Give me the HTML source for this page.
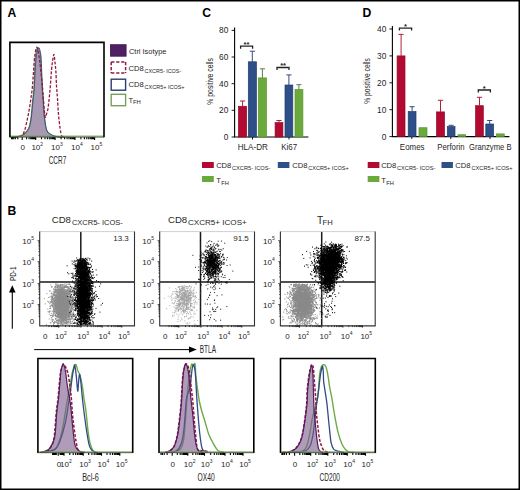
<!DOCTYPE html>
<html><head><meta charset="utf-8"><style>
html,body{margin:0;padding:0;background:#fff;overflow:hidden;}
svg{display:block;font-family:"Liberation Sans", sans-serif;}
</style></head><body>
<svg width="520" height="490" viewBox="0 0 520 490">
<rect width="520" height="490" fill="#fff"/>
<text x="7.4" y="16.8" font-size="12.2" fill="#000" text-anchor="start" font-weight="bold" >A</text>
<text x="7.6" y="214.8" font-size="12.2" fill="#000" text-anchor="start" font-weight="bold" >B</text>
<text x="202.2" y="17.0" font-size="12.2" fill="#000" text-anchor="start" font-weight="bold" >C</text>
<text x="362.5" y="16.8" font-size="12.2" fill="#000" text-anchor="start" font-weight="bold" >D</text>
<path d="M10.0,137.0C11.2,136.9 14.9,137.0 17.1,136.6C19.4,136.2 21.6,135.9 23.5,134.5C25.4,133.1 27.4,130.6 28.6,128.2C29.8,125.7 30.2,123.0 30.7,119.8C31.2,116.6 31.5,112.7 31.8,109.2C32.1,105.7 32.4,102.1 32.8,98.6C33.1,95.1 33.6,92.5 33.9,88.0C34.2,83.5 34.4,76.6 34.6,71.4C34.9,66.2 35.1,60.6 35.4,57.0C35.7,53.4 36.2,51.6 36.6,50.0C37.0,48.4 37.5,47.6 38.0,47.6C38.5,47.6 38.9,48.4 39.3,50.0C39.7,51.6 40.2,53.4 40.5,57.0C40.8,60.6 41.0,66.2 41.2,71.4C41.5,76.6 41.7,83.5 42.0,88.0C42.3,92.5 42.7,95.1 43.0,98.6C43.3,102.1 43.3,105.7 43.6,109.2C43.9,112.7 44.1,116.2 44.6,119.8C45.1,123.3 45.6,128.0 46.7,130.5C47.8,133.0 49.3,133.7 51.0,134.7C52.7,135.7 53.8,136.2 57.0,136.6C60.2,137.0 67.8,136.9 70.0,137.0" fill="none" stroke="#6cab48" stroke-width="1.1"/>
<path d="M12.0,136.9C12.8,136.9 15.1,137.2 17.0,136.8C18.9,136.5 21.5,136.2 23.5,134.8C25.5,133.4 27.6,131.0 28.8,128.5C30.1,126.0 30.4,123.0 31.0,119.8C31.6,116.6 31.8,112.7 32.2,109.2C32.6,105.7 32.9,102.1 33.2,98.6C33.6,95.1 34.0,92.5 34.3,88.0C34.6,83.5 34.9,76.6 35.2,71.4C35.5,66.2 35.8,60.6 36.2,57.0C36.6,53.4 37.1,51.5 37.6,50.0C38.1,48.5 38.8,47.6 39.2,47.9C39.6,48.2 39.9,50.5 40.2,52.0C40.5,53.5 40.8,53.8 41.0,57.0C41.2,60.2 41.5,66.2 41.7,71.4C41.9,76.6 42.1,83.5 42.4,88.0C42.6,92.5 43.0,95.1 43.2,98.6C43.4,102.1 43.5,105.7 43.8,109.2C44.1,112.7 44.3,116.2 44.8,119.8C45.3,123.3 45.8,128.0 46.9,130.5C48.0,133.0 49.4,133.6 51.2,134.7C53.0,135.8 55.4,136.4 57.5,136.8C59.6,137.2 62.9,137.0 64.0,137.0" fill="none" stroke="#2f4a86" stroke-width="1.0"/>
<path d="M12.0,136.9C12.8,136.9 15.2,137.2 17.1,136.8C19.0,136.4 21.6,136.1 23.5,134.7C25.4,133.3 27.6,130.8 28.8,128.3C30.0,125.8 30.4,123.0 30.9,119.8C31.4,116.6 31.6,112.7 32.0,109.2C32.4,105.7 32.6,102.1 33.0,98.6C33.4,95.1 33.8,92.5 34.1,88.0C34.4,83.5 34.5,76.6 34.8,71.4C35.0,66.2 35.2,60.5 35.6,56.7C36.0,52.9 36.8,50.0 37.2,48.5C37.7,47.0 37.9,47.8 38.3,48.0C38.7,48.2 39.1,48.5 39.5,50.0C39.9,51.5 40.4,53.1 40.7,56.7C41.0,60.3 41.2,66.2 41.5,71.4C41.8,76.6 42.0,83.5 42.3,88.0C42.6,92.5 42.9,95.1 43.1,98.6C43.3,102.1 43.4,105.7 43.7,109.2C44.0,112.7 44.2,116.2 44.7,119.8C45.2,123.3 45.7,128.0 46.8,130.5C47.9,133.0 49.3,133.6 51.1,134.7C52.9,135.8 55.7,136.4 57.5,136.8C59.3,137.2 61.2,137.0 62.0,137.0Z" fill="#6e537f" fill-opacity="0.6" stroke="none"/>
<path d="M15.0,137.0C16.1,136.8 19.8,136.9 21.4,135.8C23.0,134.7 23.6,133.2 24.6,130.5C25.6,127.8 26.4,123.3 27.2,119.8C28.0,116.2 28.7,112.7 29.3,109.2C29.9,105.7 30.4,102.1 30.9,98.6C31.4,95.1 31.9,91.7 32.3,88.0C32.7,84.3 32.9,79.9 33.2,76.3C33.5,72.7 33.6,70.0 33.9,66.5C34.2,63.0 34.3,58.7 34.8,55.5C35.2,52.3 36.1,48.3 36.6,47.4C37.1,46.5 37.3,47.9 37.8,50.0C38.3,52.1 39.0,56.3 39.5,60.0C40.0,63.7 40.5,67.8 41.0,72.0C41.5,76.2 41.9,80.6 42.3,85.0C42.7,89.4 43.1,94.4 43.4,98.6C43.7,102.8 44.0,106.9 44.3,110.0C44.6,113.1 44.9,116.5 45.3,117.2C45.7,117.9 46.1,115.3 46.5,114.0C46.9,112.7 47.5,111.5 47.9,109.2C48.3,106.9 48.6,103.2 49.0,100.0C49.4,96.8 49.7,93.3 50.0,90.0C50.3,86.7 50.5,83.3 50.8,80.0C51.0,76.7 51.2,73.1 51.5,70.0C51.8,66.9 52.1,64.2 52.5,61.6C52.9,59.0 53.5,54.3 53.9,54.3C54.3,54.3 54.6,58.8 54.9,61.6C55.2,64.5 55.6,67.3 55.9,71.4C56.2,75.5 56.2,81.5 56.5,86.0C56.8,90.5 57.2,93.8 57.5,98.6C57.8,103.3 58.1,109.5 58.5,114.5C58.9,119.5 59.6,124.8 60.1,128.3C60.6,131.9 61.1,134.4 61.7,135.8C62.4,137.2 63.6,136.8 64.0,137.0" fill="none" stroke="#8f1a40" stroke-width="1.3" stroke-dasharray="3,1.6"/>
<line x1="10" y1="136.1" x2="104" y2="136.1" stroke="#6cab48" stroke-width="1"/>
<path d="M9.9,137.2V42.4H104V137.2" fill="none" stroke="#000" stroke-width="1.6"/>
<path d="M9.9,137.1H104" fill="none" stroke="#333" stroke-width="0.8"/>
<path d="M26.6,137.3v2.0M17.8,137.3v2.0M29.1,137.3v2.0M15.3,137.3v2.0M30.7,137.3v2.0M13.7,137.3v2.0M31.9,137.3v2.0M12.5,137.3v2.0M32.8,137.3v2.0M11.6,137.3v2.0M33.6,137.3v2.0M34.2,137.3v2.0M34.8,137.3v2.0M35.3,137.3v2.0M22.2,137.3v2.8M41.5,137.3v2.0M45.0,137.3v2.0M47.4,137.3v2.0M49.3,137.3v2.0M50.8,137.3v2.0M52.1,137.3v2.0M53.2,137.3v2.0M54.2,137.3v2.0M61.1,137.3v2.0M64.6,137.3v2.0M67.1,137.3v2.0M69.0,137.3v2.0M70.6,137.3v2.0M71.9,137.3v2.0M73.1,137.3v2.0M74.1,137.3v2.0M80.9,137.3v2.0M84.4,137.3v2.0M86.8,137.3v2.0M88.7,137.3v2.0M90.3,137.3v2.0M91.6,137.3v2.0M92.7,137.3v2.0M93.7,137.3v2.0M35.7,137.3v2.8M55.1,137.3v2.8M75.0,137.3v2.8M94.6,137.3v2.8" stroke="#000" stroke-width="1.1"/>
<text x="20.4" y="149.9" font-size="8" fill="#262626" text-anchor="start" font-weight="normal" >0</text>
<text x="31.4" y="149.9" font-size="8" fill="#262626">10<tspan font-size="5" dy="-3.8">2</tspan></text>
<text x="51.1" y="149.9" font-size="8" fill="#262626">10<tspan font-size="5" dy="-3.8">3</tspan></text>
<text x="71.0" y="149.9" font-size="8" fill="#262626">10<tspan font-size="5" dy="-3.8">4</tspan></text>
<text x="90.6" y="149.9" font-size="8" fill="#262626">10<tspan font-size="5" dy="-3.8">5</tspan></text>
<text x="48.66" y="163.6" font-size="11.0" fill="#262626" textLength="17.58" lengthAdjust="spacingAndGlyphs" >CCR7</text>
<rect x="110.4" y="44.7" width="15.7" height="11.5" fill="#4f1f64" stroke="#3a1450" stroke-width="0.8"/>
<path d="M111.2,62.1H125.6M111.2,72.9H125.6M111.2,62.1V72.9M125.6,62.1V72.9" fill="none" stroke="#8f1a40" stroke-width="1.5" stroke-dasharray="3.2,1.8"/>
<rect x="111.2" y="79.2" width="14.4" height="11" fill="none" stroke="#2b3d70" stroke-width="1.4"/>
<rect x="111.2" y="94.3" width="14.4" height="11.4" fill="none" stroke="#74a258" stroke-width="1.4"/>
<text x="129" y="54" font-size="7.4" fill="#262626" text-anchor="start" font-weight="normal" >Ctrl Isotype</text>
<text x="128.54" y="70.9" font-size="7.6" fill="#262626">CD8</text>
<text x="144.62" y="72.9" font-size="5.5" fill="#262626" textLength="36.60" lengthAdjust="spacingAndGlyphs">CXCR5- ICOS-</text>
<text x="128.54" y="87.2" font-size="7.6" fill="#262626">CD8</text>
<text x="144.62" y="88.9" font-size="5.5" fill="#262626" textLength="39.90" lengthAdjust="spacingAndGlyphs">CXCR5+ ICOS+</text>
<text x="128.54" y="102.6" font-size="7.6" fill="#262626">T</text>
<text x="132.92" y="104.4" font-size="5.5" fill="#262626" textLength="7.81" lengthAdjust="spacingAndGlyphs">FH</text>
<path d="M234.6,27.5V137.0H308.4" stroke="#000" stroke-width="1.1" fill="none"/>
<path d="M231.6,137.0h3" stroke="#000" stroke-width="0.9"/>
<text x="228.3" y="139.9" font-size="8.3" fill="#262626" text-anchor="end" font-weight="normal" >0</text>
<path d="M231.6,110.3h3" stroke="#000" stroke-width="0.9"/>
<text x="228.3" y="113.2" font-size="8.3" fill="#262626" text-anchor="end" font-weight="normal" >20</text>
<path d="M231.6,83.7h3" stroke="#000" stroke-width="0.9"/>
<text x="228.3" y="86.6" font-size="8.3" fill="#262626" text-anchor="end" font-weight="normal" >40</text>
<path d="M231.6,57.0h3" stroke="#000" stroke-width="0.9"/>
<text x="228.3" y="59.9" font-size="8.3" fill="#262626" text-anchor="end" font-weight="normal" >60</text>
<path d="M231.6,30.4h3" stroke="#000" stroke-width="0.9"/>
<text x="228.3" y="33.3" font-size="8.3" fill="#262626" text-anchor="end" font-weight="normal" >80</text>
<path d="M252.5,137.0v2.5" stroke="#000" stroke-width="0.9"/>
<path d="M289.0,137.0v2.5" stroke="#000" stroke-width="0.9"/>
<rect x="238.5" y="106.3" width="8.1" height="30.7" fill="#b20a30" stroke="#8e0a26" stroke-width="0.7"/>
<path d="M242.6,106.3V101.0M240.0,101.0h5.2" stroke="#b0203f" stroke-width="1.0" fill="none"/>
<rect x="248.3" y="61.8" width="8.1" height="75.2" fill="#2e4f87" stroke="#203c6a" stroke-width="0.7"/>
<path d="M252.3,61.8V51.2M249.8,51.2h5.2" stroke="#3a4c74" stroke-width="1.0" fill="none"/>
<rect x="258.3" y="77.9" width="8.1" height="59.1" fill="#6aaa3b" stroke="#5a9632" stroke-width="0.7"/>
<path d="M262.4,77.9V68.8M259.8,68.8h5.2" stroke="#5f7d4c" stroke-width="1.0" fill="none"/>
<rect x="275.1" y="122.6" width="7.8" height="14.4" fill="#b20a30" stroke="#8e0a26" stroke-width="0.7"/>
<path d="M279.0,122.6V120.5M276.4,120.5h5.2" stroke="#b0203f" stroke-width="1.0" fill="none"/>
<rect x="285.0" y="85.0" width="7.8" height="52.0" fill="#2e4f87" stroke="#203c6a" stroke-width="0.7"/>
<path d="M288.9,85.0V74.9M286.3,74.9h5.2" stroke="#3a4c74" stroke-width="1.0" fill="none"/>
<rect x="295.0" y="89.4" width="7.9" height="47.6" fill="#6aaa3b" stroke="#5a9632" stroke-width="0.7"/>
<path d="M298.9,89.4V84.7M296.3,84.7h5.2" stroke="#5f7d4c" stroke-width="1.0" fill="none"/>
<path d="M240.6,48.8V46.2H252.6V48.8" stroke="#222" stroke-width="1.3" fill="none"/>
<text x="246.5" y="47.0" font-size="7.6" fill="#222" text-anchor="middle" font-weight="bold" >**</text>
<path d="M277,70V67.5H289V70" stroke="#222" stroke-width="1.3" fill="none"/>
<text x="283.1" y="68.3" font-size="7.6" fill="#222" text-anchor="middle" font-weight="bold" >**</text>
<text x="237.77" y="150.1" font-size="8.2" fill="#262626" textLength="30.16" lengthAdjust="spacingAndGlyphs" >HLA-DR</text>
<text x="281.27" y="150.1" font-size="8.2" fill="#262626" textLength="15.86" lengthAdjust="spacingAndGlyphs" >Ki67</text>
<g transform="translate(212.6,104.3) rotate(-90)">
<text x="-0.34" y="0" font-size="8.4" fill="#262626" textLength="46.57" lengthAdjust="spacingAndGlyphs" >% positive cells</text>
</g>
<rect x="202" y="162" width="11.8" height="6" fill="#b20a30"/>
<rect x="277.8" y="162" width="11.6" height="6" fill="#2e4f87"/>
<rect x="202" y="176" width="11.8" height="6" fill="#6aaa3b"/>
<text x="216.14" y="167.6" font-size="7.6" fill="#262626">CD8</text>
<text x="232.02" y="170.3" font-size="5.6" fill="#262626" textLength="38.32" lengthAdjust="spacingAndGlyphs">CXCR5- ICOS-</text>
<text x="292.34" y="167.5" font-size="7.6" fill="#262626">CD8</text>
<text x="308.32" y="170.0" font-size="5.6" fill="#262626" textLength="40.32" lengthAdjust="spacingAndGlyphs">CXCR5+ ICOS+</text>
<text x="216.14" y="182.6" font-size="7.6" fill="#262626">T</text>
<text x="221.22" y="184.6" font-size="5.6" fill="#262626" textLength="7.62" lengthAdjust="spacingAndGlyphs">FH</text>
<path d="M392.4,25.9V136.6H509.4" stroke="#000" stroke-width="1.1" fill="none"/>
<path d="M389.4,136.6h3" stroke="#000" stroke-width="0.9"/>
<text x="386.3" y="139.5" font-size="8.3" fill="#262626" text-anchor="end" font-weight="normal" >0</text>
<path d="M389.4,109.7h3" stroke="#000" stroke-width="0.9"/>
<text x="386.3" y="112.6" font-size="8.3" fill="#262626" text-anchor="end" font-weight="normal" >10</text>
<path d="M389.4,82.8h3" stroke="#000" stroke-width="0.9"/>
<text x="386.3" y="85.7" font-size="8.3" fill="#262626" text-anchor="end" font-weight="normal" >20</text>
<path d="M389.4,55.9h3" stroke="#000" stroke-width="0.9"/>
<text x="386.3" y="58.8" font-size="8.3" fill="#262626" text-anchor="end" font-weight="normal" >30</text>
<path d="M389.4,29.0h3" stroke="#000" stroke-width="0.9"/>
<text x="386.3" y="31.9" font-size="8.3" fill="#262626" text-anchor="end" font-weight="normal" >40</text>
<path d="M411.8,136.6v2.5" stroke="#000" stroke-width="0.9"/>
<path d="M450.8,136.6v2.5" stroke="#000" stroke-width="0.9"/>
<path d="M490.0,136.6v2.5" stroke="#000" stroke-width="0.9"/>
<rect x="397.1" y="55.9" width="7.9" height="80.7" fill="#b20a30" stroke="#8e0a26" stroke-width="0.7"/>
<path d="M401.1,55.9V34.4M398.4,34.4h5.2" stroke="#b0203f" stroke-width="1.0" fill="none"/>
<rect x="408.2" y="111.6" width="7.8" height="25.0" fill="#2e4f87" stroke="#203c6a" stroke-width="0.7"/>
<path d="M412.1,111.6V106.7M409.5,106.7h5.2" stroke="#3a4c74" stroke-width="1.0" fill="none"/>
<rect x="419.0" y="127.7" width="8.0" height="8.9" fill="#6aaa3b" stroke="#5a9632" stroke-width="0.7"/>
<rect x="436.5" y="111.9" width="8.0" height="24.7" fill="#b20a30" stroke="#8e0a26" stroke-width="0.7"/>
<path d="M440.5,111.9V100.3M437.9,100.3h5.2" stroke="#b0203f" stroke-width="1.0" fill="none"/>
<rect x="447.3" y="126.6" width="7.7" height="10.0" fill="#2e4f87" stroke="#203c6a" stroke-width="0.7"/>
<path d="M451.1,126.6V125.3M448.5,125.3h5.2" stroke="#3a4c74" stroke-width="1.0" fill="none"/>
<rect x="458.0" y="134.7" width="7.7" height="1.9" fill="#6aaa3b" stroke="#5a9632" stroke-width="0.7"/>
<rect x="475.6" y="105.7" width="7.7" height="30.9" fill="#b20a30" stroke="#8e0a26" stroke-width="0.7"/>
<path d="M479.5,105.7V97.3M476.9,97.3h5.2" stroke="#b0203f" stroke-width="1.0" fill="none"/>
<rect x="485.8" y="124.0" width="7.8" height="12.6" fill="#2e4f87" stroke="#203c6a" stroke-width="0.7"/>
<path d="M489.7,124.0V120.5M487.1,120.5h5.2" stroke="#3a4c74" stroke-width="1.0" fill="none"/>
<rect x="496.3" y="133.9" width="8.0" height="2.7" fill="#6aaa3b" stroke="#5a9632" stroke-width="0.7"/>
<path d="M399.4,30.6V28.2H411.6V30.6" stroke="#222" stroke-width="1.3" fill="none"/>
<text x="405.4" y="29.4" font-size="7.6" fill="#222" text-anchor="middle" font-weight="bold" >*</text>
<path d="M478.3,92.4V90H490.4V92.4" stroke="#222" stroke-width="1.3" fill="none"/>
<text x="484.3" y="91.2" font-size="7.6" fill="#222" text-anchor="middle" font-weight="bold" >*</text>
<text x="399.87" y="150.2" font-size="8.2" fill="#262626" textLength="24.66" lengthAdjust="spacingAndGlyphs" >Eomes</text>
<text x="437.37" y="150.1" font-size="8.2" fill="#262626" textLength="27.16" lengthAdjust="spacingAndGlyphs" >Perforin</text>
<text x="469.07" y="150.1" font-size="8.2" fill="#262626" textLength="42.46" lengthAdjust="spacingAndGlyphs" >Granzyme B</text>
<g transform="translate(369.9,103.4) rotate(-90)">
<text x="-0.34" y="0" font-size="8.4" fill="#262626" textLength="45.67" lengthAdjust="spacingAndGlyphs" >% positive cells</text>
</g>
<rect x="367.7" y="162" width="11.7" height="6" fill="#b20a30"/>
<rect x="441.5" y="162" width="11.4" height="6" fill="#2e4f87"/>
<rect x="367.7" y="176" width="11.7" height="6" fill="#6aaa3b"/>
<text x="381.14" y="167.6" font-size="7.6" fill="#262626">CD8</text>
<text x="397.02" y="170.3" font-size="5.6" fill="#262626" textLength="38.32" lengthAdjust="spacingAndGlyphs">CXCR5- ICOS-</text>
<text x="455.34" y="167.5" font-size="7.6" fill="#262626">CD8</text>
<text x="471.52" y="170.0" font-size="5.6" fill="#262626" textLength="41.12" lengthAdjust="spacingAndGlyphs">CXCR5+ ICOS+</text>
<text x="381.14" y="182.6" font-size="7.6" fill="#262626">T</text>
<text x="386.22" y="184.6" font-size="5.6" fill="#262626" textLength="7.62" lengthAdjust="spacingAndGlyphs">FH</text>
<path d="M80.8,231.6V325.5M39.7,282.0H134.5" stroke="#1a1a1a" stroke-width="1.5"/>
<path d="M64.3 304h0m-6-2.7h0m-.6-1.9h0m11.8 5h0m-10-5.5h0m5.2 10.2h0m-6.5-3.9h0m8.1-1.6h0m-6.2-13.6h0m-4.3-5.8h0m5.2 .5h0m2.7 6h0m-1.8 15h0m1.4-2.2h0m-3.4-15.5h0m-1.5 5.9h0m.7 21.4h0m8.1-11.8h0m-5.1-5.6h0m1.1 7.2h0m-.4-14h0m-7.3 27.4h0m8.2-5.5h0m8.9-16h0m-15.5 15.2h0m8.6-7.5h0m.4-2.8h0m0 1.3h0m-6.2 16h0m.7-13h0m-3.7-.7h0m4.7-7.6h0m7.2 15.4h0m-10.4-23.1h0m-5.3 20.9h0m9.1-11.9h0m4.4 17.9h0m-5.7-16.5h0m9.4 .5h0m-9.2-1.5h0m1.2 8.1h0m-5.1-5.6h0m3.4 1.8h0m5.8 12.2h0m-.3-12.5h0m1.8-3.3h0m-2.2 3.6h0m-1.6-13.5h0m-12-3.8h0m6.1 14.3h0m15.9 4.5h0m-14.7-10h0m5.9 10.7h0m-3.6-3.9h0m3.9 9.1h0m-3.5-18.1h0m-4.6 11.3h0m1.1 2.4h0m5.5 7.3h0m-4.2-9.2h0m-7.1-1.9h0m11.4-11h0m1.8-6.5h0m.4 9.4h0m-11.2 10.6h0m15.2 11.3h0m-9-13.5h0m-3.5-.9h0m2.5 13.1h0m-1.6-12h0m-2.6-6h0m6.2 19.6h0m.8-3.1h0m-2.3-17.3h0m1.8 1.3h0m-1.5 2h0m-2.9-10.4h0m1.7 31.8h0m4.1-28.6h0m-8.1 26.1h0m3.6-17.1h0m6.3-16.5h0m-2.8 18.3h0m1.7-7.7h0m-2.9 2.4h0m-5.5-5.8h0m4.3 25.5h0m2-11h0m-2.6-7.7h0m1.4 11.3h0m1.4-8.3h0m3.7 13.8h0m-6.5-8.1h0m7-18.8h0m-4.7 24.9h0m4.5-4.6h0m.8 3h0m2.5-13.6h0m-3.5-8.2h0m.6 18.3h0m3.5 14.4h0m-16.8-31.3h0m4 20.5h0m9-9h0m-15.3-16.6h0m11.4 19.6h0m-.2-5.3h0m-7.9-6.2h0m2.9 7.2h0m6.9-15.7h0m0 16.6h0m-5.6-9.6h0m-1.1-.1h0m.9 12.6h0m5.6 1.5h0m-2 5.6h0m-7-9.2h0m10.8-5h0m-3.2 4h0m5.3-2.3h0m-16.7 3.3h0m1-7.1h0m10.7 21h0m-5.8-26.2h0m6.3 24h0m-1.5-11.3h0m4.3-.2h0m-2.7 5.5h0m.9-16.8h0m3 3.6h0m-6.3-5.9h0m-5.5 13.4h0m14.4 17.8h0m-4.1-22.9h0m-16.6 9.4h0m12.7-1.8h0m-5.1-1.6h0m4.3-3.8h0m3.1 15.2h0m5.5-12.7h0m-9.7-5.5h0m9.3-13.5h0m-2.3 29.3h0m-4.1-3h0m-2-4.7h0m1.4-4.4h0m3.1 17.9h0m-6.2-16.3h0m10.7-6.4h0m-7.3 12.2h0m-6.1-8.8h0m9.9 2.7h0m-5.6-3.3h0m1.8 1.8h0m-2.2-14.4h0m5.8 7.6h0m-1.5 .9h0m-3.7 24.3h0m1.9-22.4h0m-5.8 6.4h0m15.2 4.4h0m-11.3-7.2h0m2.4-8.3h0m-7.2-1.9h0m1.8 26.5h0m12.1-2.5h0m-5.2-8.5h0m-3.2 17.9h0m-6.5-26.5h0m14.3 6.2h0m-11.8 10h0m1.6-19.1h0m1.9 12h0m2.4-.9h0m-1.8-5.3h0m-.1 5.3h0m9.9 2.8h0m-9 1.2h0m.9-24h0m2.4 26.7h0m-12.4-10.2h0m5.1-2.5h0m15 10.1h0m-15.3-3.9h0m3.1-14.7h0m-5.1 10.6h0m.1 3.1h0m11.4 10.1h0m-7.7 0h0m1.5-6.1h0m-1.3-9.4h0m-5.8-9.4h0m6.9 21.8h0m5.8-6.3h0m-9.6-20.2h0m6.5 19.9h0m3-5.9h0m-11 6.5h0m9.7-12.3h0m-13 15.1h0m12.7 8.9h0m-4.9 .1h0m-4.2-17.1h0m3 19.7h0m-5.6-14.8h0m13.1-6.2h0m.1-9.1h0m-10 17h0m2.6-8.9h0m-.2 4.8h0m.9-8.2h0m-5-2h0m11.2 10h0m-4.9-15.5h0m-4.6 9.4h0m2.8 15.7h0m-1.1 6.9h0m2.4-11.8h0m3.7-12.1h0m.3 6.3h0m-8.4 1.4h0m5.6-.8h0m-4.4 11.3h0m-4.4-10.3h0m3.4 7.1h0m4.3-26h0m-6.3 30.8h0m3.1-23.1h0m5.6-.6h0m-5.4 3.5h0m.3 14.6h0m-1.1-1.5h0m-4.8-17.1h0m8.5 32h0m.9-17h0m.4-.9h0m-4.9 18.5h0m-1-36.4h0m8.9 2.1h0m-7.8 22.9h0m2.3-23.3h0m-11.4 29.5h0m8.4-9.3h0m.2 5.4h0m-2.6-13.9h0m14.2-7.7h0m-8.3 19.2h0m-8-17.5h0m9.4 4.7h0m-.2 3.2h0m-.2-10.9h0m7.1 11.2h0m-6.5 20.2h0m-.5-27.6h0m-3.3 1.7h0m-1.3 5.8h0m4.9 6.9h0m-.5-3.7h0m-4.2-10.2h0m2.2 5.1h0m2.9 4.9h0m-.2-16.8h0m-3.4 .3h0m-6.9 11.2h0m11.2 3.7h0m-3-2.5h0m-2.8-2.2h0m2.2 1.1h0m-3.2 3.8h0m6.8 1.4h0m-3-3.9h0m-5.9 7.5h0m9.5-1.3h0m.6-1.9h0m-3.5-9.7h0m3.9 13.4h0m-9.9-4.2h0m13.5 3.1h0m-4.5 5.1h0m2.7-27.1h0m-16.9 15.3h0m5.4 5.4h0m3.7-17.7h0m2.2 26.9h0m10.2-10.8h0m-8.8 14.2h0m-6.4-19.1h0m8.3-5.1h0m-1.2 11.5h0m-4.2 6.5h0m7.1-11.3h0m1.9 6.7h0m-6.9-1.8h0m-3.5-.2h0m7.3-21.3h0m-.9 16.7h0m-3.9-17.2h0m-2.1 11.6h0m6.7 15.6h0m-2.5-15.7h0m-13.2 14.7h0m16.2-9.8h0m6 8.3h0m-6.8 5h0m2.1-8.9h0m-4.4-8.7h0m10.5 14.9h0m-10.4-10.9h0m7.1 3.6h0m.5-2.4h0m-8.5-9.6h0m5.1 7.9h0m-11.1 13.4h0m8.6-20.9h0m-9.2 3h0m10.6 17.5h0m-5-5.5h0m1.3 5.5h0m-3.3 .9h0m4.9-20.7h0m2.4 1.5h0m-7.6 10.4h0m2.8-2.1h0m-1.2 8.9h0m8.8-14.5h0m-4.8 5.4h0m-1.2 15.5h0m.4-26.4h0m-4.3 15.2h0m-3.7-22h0m4.1 24.2h0m4.6-8.6h0m-2.5 8.1h0m-2.8-1.2h0m-.9-9h0m5.4 15.5h0m-2.2-19.6h0m5.4 5.3h0m-9.1-14.2h0m18.2 12.2h0m-12.7 14.5h0m10.7-2.9h0m-12.4-9.6h0m4.8 15h0m-5.2-5.5h0m11.5 12.8h0m-5.6-14.1h0m-1.5-7.9h0m-3.6 9.3h0m2.8-25h0m-3.2 10.1h0m0 1.4h0m7.5 8.8h0m-10.6-21.3h0m2.1 6.2h0m-7.1 13.7h0m2.6 2.7h0m6.9-.7h0m0-6.4h0m-2.7-2.3h0m2.5-12.1h0m11.2 36.8h0m-6.6-5.3h0m3.1-21.1h0m-7.4 6.7h0m.8-2.5h0m-1-1.5h0m-1.6-6.7h0m4.8 8.7h0m-7.9 10.2h0m9.8-9.9h0m-3.8 5.1h0m-3.6 13.6h0m.3-15.5h0m-6.7 15h0m6.4-22.9h0m6.1 13.9h0m-10.6 8h0m6.2-7h0m3.7-15h0m-13.2-2.2h0m3.1 5.6h0m9.2-3.2h0m6.4 9.9h0m-15.7-4.9h0m2.9-5.9h0m6.6-5.1h0m-11.9 6.4h0m9.8 13.8h0m.9-3.6h0m-.2 2.9h0m2.1 6.3h0m-.3-8.8h0m-3.5-19.4h0m2.3 12.5h0m6.7-11.7h0m-13.7 15.8h0m4-19.2h0m-1.6 17.1h0m.4 1.9h0m-.2 4.8h0m8.3-6.5h0m-9.2-4.1h0m-1.2 13.1h0m5.2-13.5h0m-4.8-5h0m-5.5 5.4h0m8.1-10.4h0m1.6 16.7h0m-2-20.2h0m5.9 26.9h0m-7.5-9h0m1.8 7.4h0m-1.7-18.9h0m6 27.4h0m-3.6-3h0m-.7-2.3h0m15.1-11.9h0m-14.7 10.1h0m3.9-9h0m-3.6 13.7h0m0-31h0m2.6 18.3h0m1.4 13.7h0m-7.2-5.1h0m15.9 .1h0m-9.2-.7h0m7.5-6.8h0m-9.9-11h0m4.8 14.4h0m-2.5-9.3h0m-.9 1.7h0m-6.2 1.7h0m10.1 .8h0m-5.9-9.7h0m-3.6 17.2h0m-.1-5h0m17.1 9.5h0m-11.1-3.8h0m7-7h0m-3-14.8h0m2.2 13.3h0m-10.3 2.8h0m7.1 .7h0m-1.4-2.5h0m-13.2-5.4h0m14.6 14.4h0m-3.4-7.8h0m-2.3 9.5h0m.7-18.4h0m-5.3 20.1h0m3.7-.1h0m8.7-24.3h0m-12.4 10.9h0m11-3.1h0m-6.2 16.5h0m5.4-8.4h0m-2.1-11h0m-4.3 6.5h0m2.9-4.9h0m-3 5.6h0m8.2-5h0m-.9 6.7h0m-1.2 10.4h0m-4.6-4h0m10.4 10.7h0m-4.9-12.3h0m-4.3 .8h0m3.5-3h0m1.7-5.7h0m-.7-10h0m-8.9 8.7h0m.1 6.4h0m-3.7-13.4h0m10.6 8.9h0m-2.9 11.2h0m.8 .2h0m2.4-12.1h0m-4.2 12.3h0m.5-13.7h0m-3.6 3.5h0m2.8 9.9h0m-2.3-5.9h0m6.1-1.3h0m7.8-8.4h0m-.9 8.3h0m-12 6.6h0m5.1-14.3h0m-1.8 4.7h0m-9.4-3.3h0m-2 .7h0m7.6 6h0m2.2-11.5h0m-5.8 10.6h0m1.2-21.3h0m1.1 35.1h0m-1.8-9.9h0m5.1-3.8h0m4.3-3.9h0m-1.3 19.1h0m-6.3-16.9h0m3.8 4.7h0m1.1 2.5h0m-9.4 9.9h0m13.6-21.8h0m-8.4-.4h0m-2.9 1h0m19.2 3.5h0m-17.4 11.3h0m2.9-21.3h0m-1.5 19.8h0m8-18.1h0m-5.8 16.5h0m-6.5-20.6h0m-3.3 4.5h0m8.5 15h0m12.4-3.2h0m-14.9 7.7h0m11.5-3.6h0m-11.1-16.6h0m-3 6.8h0m-3.5 16.7h0m9.8-27.4h0m2.5 9.2h0m-1.8 5.3h0m-9.3 9.4h0m6.7-12.2h0m4.7 1.3h0m-4.6-10.9h0m5.5 17.8h0m8-15.8h0m2.6 10.3h0m-11.2 5.4h0m-4.2-10.3h0m0 0h0m1.1 10h0m-4.4-12.3h0m1.6 4h0m9.6-1.7h0m-2.5 5.9h0m-2.2-.1h0m-2-5h0m-3.6 9.4h0m5.8 6h0m-3.3-21.9h0m3.3 .7h0m4.9-.6h0m-17.1-.2h0m1.3 .5h0m15.6 6.8h0m-11.8 7.6h0m15.1-15.3h0m-8.5 11.6h0m12.5 7.4h0m-11.5 2.9h0m2.1-10h0m-8.7-9.9h0m.8 7h0m5.2-1.4h0m-1.4-.6h0m6.3 5.7h0m-9.7-9.4h0m-.9-12.1h0m5.6 22.7h0m-2.6-16.2h0m4.7 10.9h0m-3.9-6.5h0m-4.9-12.7h0m-4.1 36.2h0m11.4-20.9h0m-5.2-.2h0m4.2 3.2h0m-9.4 0h0m5.1-.8h0m5.3-4.4h0m3.7 12.4h0m-.2-12h0m1.6 17.5h0m-6.4 2.5h0m4.4-16.6h0m-3.5-12.4h0m-2.6 8.9h0m-3-12.6h0m9.4 17.7h0m-4.5 10.8h0m-4.1-12.3h0m3.1 6.2h0m10 1.8h0m-16.4-6.2h0m-.1-8.7h0m13.7-4h0m-13.6 15.4h0m14 4.1h0m-10-10.4h0m4.8 .1h0m4.8 10.1h0m.2 6h0m-2.6 1.7h0m-4.8-30.3h0m-.7 19.5h0m.3 6.2h0m8.4-19.5h0m-5.6 16.9h0m4.3 2.6h0m-17.8-5.6h0m9.7-11h0m3.2-3.4h0m-2.7 23h0m11.8-24.8h0m-16.1 7.6h0m8.5 7h0m1.5-9.9h0m-8.5 2.5h0m8.7 6.8h0m-2.5-8.5h0m12.7 5.3h0m-7.4-6.3h0m-7.3 7.2h0m5.3 7.9h0m-2.7 5.9h0m-4.9-19.5h0m6 11.5h0m-.6 9.3h0m5.4-3.7h0m-15.3-8.9h0m-.2-14.2h0m3.9 29h0m7-4h0m2.3 5.1h0m-6.6-18.9h0m1.9 1.9h0m-1.2-6.5h0m-7.7 22.8h0m3.6-14.3h0m8.7-1.1h0m-.5-2.5h0m1.2-16.2h0m-2.1 10.5h0m-15.7 8.7h0m13.7-10.3h0m1 24.3h0m-8.9-13.4h0m16.5 11.8h0m-10.6-14.4h0m5-17.4h0m-.8 30.3h0m3.3-23.7h0m-7.8-2.4h0m5.9 15.7h0m-2.4 1.5h0m-8.8-12.1h0m3.2 8.6h0m-3.2-14.3h0m-2.7 8.6h0m.8-9h0m10.7 15.8h0m2.2-9.2h0m-6 5.1h0m.6 20.2h0m-5.8-29.9h0m8.5 15.4h0m-7-17.8h0m8.5 19.8h0m-.2-12.3h0m-11.6 13.1h0m10.7-9.6h0m-12.9-2.4h0m14.6 2.6h0m-14.1 20h0m16.9-7h0m-5.4 .4h0m1.7-22.6h0m-15.6 5.2h0m8.8 26.3h0m12.4-4h0m-8 1.1h0m-1.7-28.9h0m-3.6 13.7h0m4.3-2.8h0m7.7 21.8h0m-1.1-20.8h0m-7.9-7.4h0m-4 17.8h0m-.8-12.4h0m14.9 3.7h0m-7.3-8.9h0m-6.9-1.3h0m12.9-4h0m-3.6 5.6h0m.6 4h0m-2.4 6.6h0m-4.2 3.5h0m-6-10.5h0m1.5-.4h0m2.4 3h0m7.1 2.4h0m-6.8-15.8h0m7.9 4.8h0m1.4 27.8h0m2.4-21.7h0m-.2-12.2h0m-21.1 9.6h0m14.6-4.4h0m-.1 8.6h0m-4.3-13.2h0m5.2 20.4h0m-.5 7.7h0m-10.3-9.6h0m15.7-16.4h0m-3.9 3.4h0m-7.5 9.5h0m2.5-3.1h0m6.3-1.6h0m-6.3 12.1h0m3.8-16.5h0m4 8.4h0m-6 .9h0m-3.9-8.6h0m2.5-1.6h0m5.9 5.9h0m-4.7 .4h0m8.9-8.8h0m1.3 18h0m-1.4 3.1h0m-4.2-10.8h0m5.4 14.8h0m-4.9-7.8h0m-6.9 9.2h0m-1.4-9h0m.9-11.7h0m4.1 5.6h0m-7.8 6.7h0m5.5 2.8h0m4.4-8.9h0m-11.3 5.7h0m23.7 2.8h0m-15.6-3.5h0m-5.2 11h0m13.1-13.5h0m-9.7-3.6h0m0 3.4h0m-1.9 15.5h0m-2-7.2h0m5.8-2.4h0m-2.3-18.6h0m-2.6 28.2h0m12.2-28.5h0m.9 12.7h0m-12.3 2.6h0m10.7-4.5h0m-6 11.1h0m-.9-9.7h0m10.3-7h0m-15.5 6.8h0m9.4-5.6h0m-4.1 12.2h0m.4-14.1h0m-7.1-10.7h0m5 26.6h0m8.6-4.8h0m-6.1 3.1h0m3.3-10.9h0m-7.9 8.4h0m3.5-3.7h0m-1.5-3.8h0m-.1-14.7h0m2.9 17.3h0m2.4-12h0m-4.5-.7h0m-1.5 27.3h0m8.4-19.9h0m-7 1.6h0m7.2 6.3h0m-11.4-12.9h0m1.3 1.6h0m.1 12.5h0m6.6-2.1h0m-1.7-9.2h0m1.8 25.5h0m-2.7-24.4h0m1.6-3.1h0m-5 19.3h0m9.5-11.8h0m-4.8-3h0m-5.3-5.5h0m15.2 5.1h0m-13.5 1.6h0m1.8-1.7h0m2.2 12.8h0m.6 8.3h0m-8.8-8.6h0m6.6-7.9h0m-10.4-.9h0m9.2 11.5h0m.2-13.9h0m3.4 2.1h0m-7.1-10.7h0m5.9 16.2h0m-3.8-6.9h0m2.4-4.9h0m-4.3 21.4h0m9.6 3.3h0m-.9-20.8h0m-12.9-10.2h0m6.6 1.6h0m-.2 10.2h0m-7.9 4.7h0m3.7 4h0m4.6-12.3h0m-4.9-5h0m6.8 1.3h0m3.4 16.7h0m-7.3-16.4h0m6.2 .6h0m-6 4.7h0m9.4 8.4h0m.1 0h0m.8-2.2h0m-6.3 11.9h0m1.4 2h0m-5.9-14h0m8.4-4.3h0m-1-10.7h0m-1.3 17.5h0m-5.1 3.3h0m-8.2-5.6h0m8.7 5.9h0m-5.8 2.2h0m7.9-2.1h0m-3.4 1.3h0m15.4-15.4h0m-14.8-1.8h0m-1.4 5.9h0m14.2 14.9h0m-17.8-19.3h0m14.7 19.2h0m.1-3.7h0m-7.1-17.5h0m-6.4-5.2h0m4.5 24.7h0m6.8-17.2h0m-.8 25.6h0m-1.5-31.6h0m-3.5 27.3h0m6.8-22.8h0m-10.3 9.9h0m1.6-5.5h0m4.5 7h0m3.3 8.9h0m-2.4-28.5h0m1.1 25.8h0m-5 1.6h0m6.7-21h0m-15.4-.8h0m7.8 21.8h0m-3.8-13.9h0m.9-10.7h0m7.9 9.9h0m-7.4-8.4h0m5.5 19.3h0m8.9-23.5h0m-7.7 7.3h0m6.1 11h0m-2.2-6.8h0m.5-3.1h0m-7.5 0h0m4.3 27.9h0m9-19.1h0m-15.2 3.1h0m-1.7 4h0m12.1 3.8h0m-9.7-17.6h0m3.4 7.8h0m2.4-12.3h0m-4 6.2h0m-4.5 7.6h0m5.3 2.8h0m-6.3-12.8h0m8.4-5.9h0m-1.4 2.4h0m5.5 21.1h0m-6.5 5.4h0m5.7-27.9h0m1 14.6h0m.3-3.2h0m-2.2 8.9h0m-1.7-3.6h0m-.9-2.8h0m-3.4 8.1h0m2.2 7.7h0m-.1-7.8h0m10.2-13.3h0m-16.6-.2h0m4.7-4.3h0m-2.9 17.4h0m8.2-6.4h0m-6.4 15.4h0m4.6-12.7h0m-2.1-17h0m-11.3 8.3h0m14.6 8.6h0m-9.7-10.6h0m8.6 19.9h0m5.6-5h0m-3.5-16.1h0m-4.3 3.1h0m.4 1.6h0m1 12.6h0m-2.4-13.3h0m-3 5.3h0m4-9h0m-.4-.6h0m10.6-.8h0m-7.1 20.6h0m8.2-14.8h0m-11.2 4.3h0m1.9-.3h0m-1.2 11.7h0m-5.2-7.4h0m3.7 11.7h0m5.7-19.9h0m-9.7 14.2h0m-2-16.8h0m6.6 4.9h0m-3-5.1h0m-.3-.3h0m11.5 9.2h0m-5.4-9.8h0m-3.3-5.5h0m4.1-1h0m-3.9 12.1h0m-.3 2.8h0m3.6-20.3h0m-3.2 19.5h0m7.1 7.1h0m-10.7-21.5h0m11.9 27.3h0m-13.7-23.6h0m3.4 1h0m2.3-10h0m-6.1 3.3h0m3.4 23h0m6.2-10.5h0m-4.5 9.4h0m-2.7-8h0m7.9 17.6h0m-4.1-29.8h0m2.9 19h0m4.8 11.6h0m-8-24.6h0m1.4-7.9h0m12.7 14.7h0m-23.9 .1h0m10.7-8.4h0m-5-6h0m6.3 9.2h0m-6.1 2.3h0m2.1 10h0m-4.6-13.4h0m10-3.4h0m-3.9-8.6h0m-.7 24.6h0m-3.9-4.9h0m11.4 10.9h0m-14.6-10.9h0m13.2-13.8h0m-2.5 29h0m-4.6-4.7h0m2.5-15.2h0m-7.4 6.7h0m14.4 5h0m-14-21.6h0m3.9 15.7h0m.9-2.1h0m2.6-9.6h0m-4.4-2.9h0m1.5 14.9h0m10.8-9.1h0m-3.9 13.9h0m-1.7-3.4h0m-2.2 9.8h0m-4.5 4.3h0m-2.9-22.1h0m9.5-1.2h0m-5.3 19h0m1-15.2h0m-4.4-7.7h0m-2.4 8.5h0m8.7 .3h0m-5.4-8h0m14.2-8h0m-1.6 .5h0m-8.9 20.7h0m6.4-18.7h0m-8.9 30.6h0m9.3-21.6h0m4.9 6.5h0m-7.6-9.3h0m7.6-7.4h0m-21.4 6.2h0m10.6 6h0m-.4 21.5h0m4.1-20.4h0m-2.8 16.9h0m2.7-5.9h0m-2.6-13.9h0m-4.9 3.5h0m-1.9 12.6h0m11.6-.9h0m-8.9-13h0m6.1-1.5h0m-.6 10.2h0m-4.2 2.7h0m-5.2-7.8h0m8.7 5.3h0m4.7-12.5h0m-19.5 12.2h0m6.6-7.1h0m20 10.2h0m-12.6-16.3h0m1.5 2.8h0m4.9 9.3h0m.9-17.2h0m-6.4 .8h0m2.8 21.9h0m-7.7-21.8h0m3.4 4.9h0m-5.7 17h0m9.3-7.4h0m-.7 1h0m.4 10.1h0m.2-7h0m-12 10.2h0m8-5.6h0m-4-16.3h0m2.4-16.8h0m4.7 12.3h0m4.5-8.4h0m-7.8 18.6h0m-3.1-10.2h0m1.1-4.5h0m2.2 11.9h0m-.9-14.9h0m2.3 5.4h0m3.2 28.9h0m-11.9-22.5h0m-.7-11.6h0m5.3 22.3h0m.5-6.9h0m10.1-.1h0m-8.9-7.8h0m6-1.5h0m-10.1-2h0m-1.5-3.8h0m20.5 18.9h0m-8.6-15.1h0m-9.8 13.4h0m4.1-5.7h0m10.7-4.6h0m-12.2 11.1h0m7.2-2.2h0m-2.3 .1h0m-12 6.1h0m21.7 7.6h0m-6.4-5.1h0m-6.4-24.9h0m-2.2 6.4h0m-.5 18.7h0m-5.9-11.4h0m10-.6h0m-4.2-5.6h0m-1.6 27.3h0m1-30.9h0m15.3 23.2h0m-14.4-8.7h0m8.7-8.3h0m1.8-5.1h0m-6.2 24.7h0m3.1-8.2h0m-8.6 9.8h0m3.2-4h0m1.8-20.6h0m-5.3 6h0m-.2-14.5h0m15.5 31.5h0m-4.2-8.3h0m-6.7-12h0m-4.7 8.5h0m5.5-13.5h0m-5.6 7.2h0m4.2 7.3h0m1.5 6.6h0m.2-13.9h0m-3.9 1.5h0m7-2.6h0m3 10.9h0m-9.1-24.3h0m3.2 13.3h0m-3.4-.3h0m3.8 12.9h0m5.2-20.7h0m-8.8 23.1h0m-.9-1.8h0m2.7 3.1h0m-1.4-20.3h0m2.8 .3h0m-.5 9.9h0m-18.6-7.1h0m9 6.6h0m15.1 1.1h0m-7.6 .5h0m1.2-4.8h0m-2.4-3.8h0m8.7-4.2h0m-.8 9.6h0m-4.5-2.3h0m2 .7h0m-.8 10.5h0m-5.6-15.6h0m3.2 24.5h0m8.1-20.8h0m-4.2 14.6h0m8.6-15.9h0m-8.7 8.6h0m-10-5.6h0m8.7-12.5h0m-2.7 18.3h0m-6.5-16.3h0m.2 8.9h0m13.4 12.5h0m-10.5-15.4h0m9.3 4.1h0m-1.7 8.3h0m.3-4.2h0m-8.2 13.3h0m-2.3-20h0m14.1 21.4h0m-12.7-8.7h0m4.6-6.2h0m.2-1h0m-.9 4.6h0m3.3 3.4h0m-2.2-12h0m4.6-1.7h0m-2.5 1.9h0m-8.9-1h0m2.5 13.6h0m7.3-2.6h0m-7.5-24.3h0m.9 11.9h0m7.6-7.2h0m-1.5 9.9h0m-.4-2h0m-1.8-3.3h0m.8 14h0m-6-10.7h0m7.4 6.3h0m-5.7-4.3h0m16.5 7.9h0m-11-8.5h0m-14.3 7.6h0m9.2-3h0m2.7 13.2h0m-.5-22.7h0m-1.4 9.9h0m-4.1-2.1h0m10.6-2.2h0m.4 23.1h0m1.8-17.9h0m2.6 7.7h0m-8.8 1h0m1.2-8.7h0m.1 .4h0m-11.8-11h0m.4 1.2h0m10.3 7.4h0m2.9-18.4h0m-2.1 26.8h0m9.1 8.1h0m-5.1-30h0m-2.6 17.4h0m-5.5 5.3h0m-1-16h0m3.6-1.8h0m-5-7.2h0m5.5 21.2h0m-9.1-1.8h0m6.3-12.4h0m.1 8.5h0m2.9 9.4h0m.1-9.6h0m-2.2 7.3h0m4.8 4.2h0m-2.4-10.1h0m4.9 3.7h0m-3 4.6h0m-1.3-.7h0m-.6 4h0m-6.1-11.9h0m1.3-3.2h0m6.7-14.7h0m7.2 12.1h0m-21-6.2h0m9.9 11.4h0m-9.1-4.7h0m19.3 8.2h0m3-10.5h0m-12.3 10.9h0m3.8 6.9h0m.4-17.8h0m-12.5 1.2h0m10.6-1.3h0m-8.8-9.8h0m4.5 11h0m8.4 5.8h0m-3.3-5.7h0m-7.5 11.6h0m.6-4h0m7.2 8.6h0m-9.3-10.7h0m2.9 .9h0m3.4 6.1h0m4.8-16.1h0m-7.1 16.4h0m1.6 4.5h0m1.6-15.5h0m-2.9-4.5h0m10 5.9h0m-8.4 17.7h0m1.1 1.1h0m4.2-13h0m7.6-1.2h0m-18 0h0m4.3 11.1h0m-13.4-16.5h0m19.4 13.1h0m.7-2.2h0m-4.8 9.6h0m-3.7-7.8h0m8.6-13.9h0m-11.7 8.2h0m5.7-.5h0m2.7-12.5h0m-9.9 4.7h0m16.5-7.9h0m-7.9-4h0m2.8 22.2h0m-5.4-19.1h0m6 14.2h0m-10-8h0m11.8 17h0m-8.7-6.4h0m3.6 .3h0m-6.7 4.7h0m5.2-7.8h0m1.5-12.9h0m-2.7 12.1h0m-5 4h0m9.1-5h0m3.4 3.4h0m-13.4-15.2h0m10.2 14.8h0m1.4-11.7h0m-11.4 .6h0m10.7 16.1h0m-1 11.6h0m-6.7-6.1h0m11.4-27.7h0m-3.7 30.2h0m-2.1-13.1h0m6.6-9.8h0m-4.8 14.3h0m2.7-3h0m-1.5 1.4h0m-1.7-17.6h0m2.2 10.9h0m-1 11.5h0m-1.4-27.1h0m-6.5 4.8h0m3.2 18.1h0m17.3 2.2h0m-12.1 0h0m-7.4-17.3h0m.5-1.8h0m-.6-.3h0m-1.5 9.4h0m-2.2-12.7h0m7.7 19.5h0m5.1 5.8h0m-2.3-14.3h0m7.7-11.8h0m-11.6 28.1h0m2.2-24.9h0m-6-7.2h0m5.1 27.3h0m4-13.1h0m-3.5-5.6h0m-5.5 5.8h0m-.4 10.1h0m2.5 15.1h0m-3.5-13.6h0m6.2-20.6h0m-6.5 21.4h0m2.5 5.3h0m5.5-11.3h0m-10.7 5.2h0m12.1 10.4h0m-8.5-21.2h0m-2.1-13.3h0m5.8 23.4h0m-1.5-17.6h0m1.9 28.3h0m7.7-22.8h0m-6.2 11.1h0m-8.3-10.9h0m5.1-6.1h0m4.5 9.8h0m-.4 8.2h0m-6.3-3.3h0m1.4-12.4h0m-2.7 7.2h0m5.4-8.9h0m-2.3 12.9h0m2.3 4h0m.8-16h0m-2.7 30.6h0m10.1-7.9h0m-10.9 3.9h0m2.4-18.5h0m1.6 8.9h0m5.9-8.4h0m-11.7-5.3h0m9.2 15.6h0m-8.8 3.5h0m7.8-.4h0m-8.5 7.4h0m4.4-16.4h0m-2.8-18.9h0m2.1 28.5h0m6.1-19.6h0m1.1 17.9h0m-5.7-18.5h0m-2.4 19.2h0m6.8-18.9h0m-9.1 24.6h0m4.2-27.2h0m.5 17.1h0m1-13.9h0m-1-2.7h0m13.7 3h0m-17.1 15.8h0m1.4-19.1h0m-1.7-6.8h0m8.4 9.3h0m-8.3 3.5h0m-2.2-9.5h0m5.2 13.2h0m-1.7 12.7h0m4.4-.9h0m-11.6-10.8h0m13.3-14h0m-1.8 28.3h0m-3.3-6.5h0m-1.6-11.9h0m5.4 14h0m-3.7-12.6h0m3.5 8.2h0m6.5-14.8h0m-8.2 11.7h0m5.5 12.7h0m-3-16.4h0m-6.1-10.1h0m-1.7 2.5h0m6.5 6.5h0m7.7 8.3h0m-4.5-2.6h0m-1.1-10h0m-5.7 8.1h0m2-2.7h0m2.4 2.9h0m-6-7.1h0m-4.3 13.3h0m15.7-14.8h0m-15.5 14.2h0m16.2 7.3h0m-9-5.1h0m-3.6-5.8h0m-.9 4.8h0m10.2-11.7h0m-7.1-8.6h0m-4.4 13.5h0m8.7 10.3h0m-2.8-28.1h0m-2.8 7.9h0m0 8.9h0m.3 9.3h0m3.3 .1h0m-2.5-1.2h0m-3.5-14.2h0m10.8 11h0m-5.9-3.2h0m1 1.4h0m5.2 11.1h0m-8.9-23.9h0m5.7 23h0m3.8-16.9h0m-7.3-1.4h0m-8.4-.5h0m4.1 13.8h0m1.9-15.2h0m3.8 13.5h0m-8.3-7.2h0m1-1.1h0m9.3 3.9h0m8.3-3.7h0m-7.1 5.9h0m-4-3.9h0m6.7 8.5h0m-1-23.8h0m.2 19h0m-11.1-.1h0m14.8-17.7h0m-15.7 15.5h0m5.3 .8h0m-10.3-22.7h0m12.8 2.1h0m-2.1 16.4h0m4.4 3.4h0m-9.5-11.4h0m5.6 2.8h0m-6.5 3.1h0m17.2-2.8h0m-18.7-5.4h0m11.9 13.6h0m-8.5 2.2h0m1.8 5.6h0m.2-22.4h0m6.9 10.5h0m-3.4 7.9h0m.6 3.2h0m-7.4-.2h0m10.1-26.2h0m-5.4 2.1h0m-.5 13.5h0m9.3-4h0m-3.2 4.7h0m-8.9 19.7h0m4.4-18.5h0m1.9 4.9h0m-2.9 1.2h0m-1.4-6.4h0m2.4-7.6h0m-5 5.7h0m5.7 17.8h0m5.2-31.2h0m-2.7 6.8h0m-1.1 7.7h0m-4 2.1h0m13-1.8h0m-15.3 4.6h0m15.4-19.4h0m0 10.5h0m-9.7 9.8h0m2.7-.7h0m-.7 7.4h0m-1.7-10.8h0m3.6 12.6h0m-8-24.5h0m.5 14h0m-1.9-7.4h0m6.9 1h0m-1.6 13.2h0m-2.7-5.1h0m11.9-3.7h0m-.5-16.4h0m-5.6 12.1h0m-.2-1h0m-9 4.8h0m9.5 8.7h0m1.4-3.7h0m-5 5.5h0m-7.5-25.6h0m11.3 28.1h0m-6.1-13h0m2.2-.8h0m-3.7-3.7h0m-3.1-2.8h0m10.1-1.5h0m-4.2 15.7h0m-.7-7.4h0m7.6-12.4h0m6.4 15.3h0m-13.4-11.4h0m0 17.2h0m-4.3-23.7h0m6.9 15.4h0m3.3-2.1h0m-3.1 11.5h0m-3.2-10.1h0m6.1 5.3h0m-2.5-5h0m-9.4-3.8h0m10.6-7.4h0m4.6 15h0m-3.8-3.9h0m1.1 13.2h0m-6.5-20.1h0m-3.8 7.9h0m10.2 3.3h0m4.4-10.2h0m-10.8 2.4h0m-2.5 .6h0m3.8 6.8h0m3.4 12.9h0m-4.5-11.6h0m0-20.5h0m5.4 5.7h0m3.8 8.5h0m-3.9 8.2h0m-3.3-5.2h0m3.7 4.3h0m-2.6-14.2h0m-5.7 4.9h0m9-12.8h0m-4 16h0m11.6 18.4h0m-8.1-28.5h0m-2.8 16h0m-2.2-1.5h0m3.6 11.6h0m2.7-13.1h0m-3.7 5.9h0m6.3-6.2h0m-9.2 2.2h0m-1.7-14.3h0m2.2-2.1h0m-10.3 14h0m13.4-2.9h0m-8 1.8h0m1.6 11.6h0m-2.7-26.2h0m10.7 12.4h0m-3.5 12.5h0m-5.1-24.6h0m2.5 3h0m1.2-9.2h0m-.5 25.4h0m-4-1.8h0m.9-20.2h0m9.1 27.2h0m.4-17h0m1.5 1.4h0m-9.5 8.7h0m-1.5 3.4h0m-3.9-18.1h0m7.3 12.3h0m-1.9-3.4h0m.5 15.9h0m7.6-23h0m-3.9 22.7h0m-5.7-33.1h0m3.9 24.6h0m-6.6 10.1h0m3.4-9.3h0m3 6.7h0m-3-3h0m-3.1-25.5h0m.7 8.4h0m12.4 18.6h0m-12.2-9.4h0m1.6-4.1h0m5.5 16.3h0m-3.8-10h0m3.3-17h0m-5.5 12.9h0m11.7-5.4h0m-12.6-5.6h0m1.3 7.6h0m6.1-2.3h0m-10.8 23.1h0m8.5-18.7h0m-1.2-.7h0m5.9-2.8h0m-5.7-1.2h0m1.3 4.9h0m4.4-1.9h0m-4 1.8h0m-5.9-.3h0m-.5-8.2h0m2 10.7h0m4.3-13.3h0m-9.4 17h0m9.3 11.9h0m4.6-19h0m-8.3 2.1h0m7.2-2h0m-5.1-10h0m13 14.9h0m-12.6-13.1h0m1.1 16.3h0m1-19.6h0m.7 13.8h0m3.1 10.6h0m-3.7-7.5h0m-2.7-15.7h0m-.9 13.9h0m-2.2-1.2h0m15.3 14.6h0m-9.3-20h0m4.3 1.5h0m-5.7 7.3h0m.1-7h0m2.4-8.2h0m-.6 3h0m3.1 8.8h0m-.4-1.5h0m-2.4-9.5h0m-1.8 7.4h0m3.8 3h0m.8-16.5h0m2.1-1.9h0m-7.4 4.2h0m-9.4 8.3h0m12.4 1.7h0m1.4 1.5h0m-4.7-1.7h0m1.7-.3h0m.8 24h0m-5.4-17.8h0m10.1-10.3h0m-12-3.3h0m2.7 10.5h0m5.9 4.7h0m-7.3-15.4h0m11.9 16h0m-16.5-13.7h0m16.1 19.4h0m-19.1-13.2h0m10.7 18.5h0m.6-3.5h0m-2.5-15.7h0m10 19.1h0m-8.9 3.5h0m.9-33h0m-.1 13.2h0m-1.2-3.9h0m3.2 .2h0m-3.2-3.7h0m8.2 6.8h0m-6.9 5.6h0m2.6 1.7h0m.7 5.7h0m4.4 7.3h0m-9.4-19h0m5 9.6h0m-10.3-10h0m8.5-18.5h0m3.2 27.3h0m.5-21.7h0m-3 8h0m-5.7 10.2h0m-6.6-10.4h0m1.2-3.4h0m9.7 13.9h0m1.7 4.9h0m-.6-16.2h0m1.4 2.5h0m-7.7 7.7h0m5.1-3.5h0m4.1-3.4h0m-5.7 21.4h0m-10-21.3h0m9.1 2h0m-1.3 7.6h0m-1.4-10.1h0m-2.4 12h0m16.9-11.8h0m-7.2 4.1h0m-8.3-1.9h0m7.9 1h0m-.6-10.4h0m4.3 23.7h0m-11.1-29.4h0m10.2-.6h0m-1.1 23.4h0m-9.8-15.3h0m6.6 9.8h0m-.1-9.8h0m.9 15.7h0m-12.2-17.3h0m11.6 7.9h0m-2.9 0h0m5.5-4.7h0m-2.7 6.8h0m-4-9.5h0m-1.6 12h0m3-15.1h0m3.3 25.8h0m-1.5 2.7h0m-6.8-18.3h0m14-3.3h0m-3.2 9.6h0m-3.6 4.1h0m.3-9.6h0m2 9.2h0m-1.6-1.9h0m-2.5-13.1h0m6.3-2h0m-5.2-1.9h0m.1 25.5h0m1.1-7.2h0m14.9-10.8h0m-18.3 5.2h0m4.4-6h0m2.3 9.4h0m-11.1-2.5h0m5.7 3.9h0m-6.1-8.4h0m3.7-3.1h0m-3.5 5.7h0m7.9 .7h0m-4.1-12.2h0m7.8 2.6h0m-7-8.3h0m-.2 26.4h0m-1.3-7.4h0m9.4 18.6h0m-11.5-8.2h0m11.3-23.7h0m-6.3 9.7h0m-4.9 5.7h0m6.5 4.4h0m-3.5-3h0m-.2 .4h0m9.3 4.3h0m-3-.3h0m-16.2-2.4h0m12.2 1.7h0m-.3-7.8h0m-1.7-15.5h0m10.4 21.2h0m-12-13.1h0m.8 21.8h0m8.5-24.8h0m-11.2 27.4h0m5.7-1.6h0m-.5-.7h0m3.4-32.3h0m8.8 26h0m-6.8 8.6h0m-6.7-20.4h0m-1.5-.6h0m-8.6 .5h0m12.7 4.4h0m2.8-7h0m-6.1-7.7h0m10-7h0m-12.3 26.2h0m10.4-7.2h0m-2.6 5.9h0m-5.6-14h0m8.1 9.8h0m-10.5-9.4h0m1.6 20.7h0m5.9-.9h0m7.4-2.3h0m-4.9-1.9h0m-7.9-16.6h0m11.7 16h0m4.1 7.8h0m-10.9-11.1h0m-.7 7.4h0m-5.6-11.1h0m.2 11.1h0m-1.9-5h0m2.1 6.1h0m-2.9-2.6h0m13.4-13.9h0m-5.6-3.7h0m-11.8 3.8h0m14 7.9h0m.2-14.9h0m-7.8 3.5h0m1.9 8.4h0m8.6 7.4h0m-7.4-1.6h0m8-2.1h0m-11.2-7.6h0m6.7-6.1h0m-8.1 12.4h0m12.8 15.3h0m-11.6-8.8h0m2.7-13.3h0m-2.8 0h0m7 8.7h0m-3.7-.6h0m3.8 9.6h0m3.4-14.2h0m-6.1-2.4h0m4.4-4h0m-6.3 2.5h0m5.7-3.3h0m-11 2.6h0m5.2 11.9h0m5.3-2.9h0m3.6 8.8h0m-6.6-18.5h0m9-7.8h0m-.9 18.2h0m-17.4-7.4h0m11.3 19.1h0m-.7-14.7h0m2.6 5.3h0m2-23.6h0m-7.4 11.4h0m7.7 23.5h0m-14.6-21.3h0m12.1 4.9h0m-8.9-2.3h0m-.3-7.4h0m10.7 10.2h0m-7.5 8.8h0m6.1-8.5h0m-3.7-7.7h0m-1 14.6h0m-6.6-8.6h0m14.4-1.1h0m-5.4 7.6h0m-1.5-13.5h0m-2.7 12.9h0m-.9 3.3h0m-1-28.4h0m-1.8 1.2h0m6.8 29.2h0m6.4-9.8h0m-7.9 11.2h0m4.4 .6h0m-.1-13.9h0m-6.6-14.8h0m7.4 13.6h0m-3.8-2.7h0m8.2 13.9h0m-.8-2.1h0m-8.3-12.1h0m.3 7.6h0m9.5-9h0m-13 3.6h0m14.2 6.8h0m-3.1-4.1h0m-8.8-5.2h0m1.7-2.7h0m-4.3 26.7h0m.7-2.2h0m8.6-19.9h0m-2.5 9.2h0m-.3-24h0m11.2 6.3h0m-11.6 8.8h0m-3.7-9.7h0m7.3-1.7h0m-1.8 10.9h0m-5.4-4.3h0m-1.7 20.8h0m5.8-32.7h0m-4 7.1h0m-1.2 21.6h0m.7-.4h0m10.2 6.1h0m-8.3-20.3h0m1.9-3.9h0m-7.5 21.1h0m.5-2.5h0m-2.9-18.6h0m5.9 11.5h0m-6.8 8.8h0m21.1-11.6h0m-11-3.9h0m-3.8 11.2h0m8.6-7.1h0m-2.9 1.9h0m-.4-5.7h0m5.8 4.1h0m-8.3 7.2h0m-3.3 .5h0m-.7 1.8h0m6-14.8h0m-.7 17.8h0m-3.1-13.9h0m8.6 18h0m-12.8-17.8h0m9.6-7.6h0m1.6 .7h0m-2.6 11.4h0m1.1 3.1h0m-4.6-15.7h0m7.1 3.8h0m-9.3 3.6h0m6.3-12.5h0m5.1 24.5h0m-2.1-10.1h0m-4.7-11.3h0m.1 3.8h0m5 14.8h0m.4-18.3h0m-11.3 5.8h0m-2.1 3.2h0m8.8 1.6h0m1.2-2.2h0m-2.7-1.1h0m-.2-11.8h0m-2.2 6.2h0m3.4 7.9h0m-9.2-16h0m10.6 13.8h0m2.3 6.8h0m-1.7 10h0m-8.1-13.7h0m2.6-9.8h0m3.8 12.7h0m-2-2.7h0m2 6.5h0m.4-3.5h0m-6.9-8.7h0m7.5 10.7h0m-4.3-7.3h0m3.4-.1h0m-1.1-9.8h0m5 30.8h0m-2-12.2h0m1.6-5.5h0m-7-2.6h0m6.8 2.5h0m-1.1 2.5h0m-7.8-6.6h0m-.5 6.3h0m2.4 4.6h0m9.5 2.2h0m-14.4-17h0m6 .7h0m-6 17.5h0m17.7-.4h0m-7.5-4.5h0m-8.8-6.2h0m8 5.6h0m11 1.7h0m-10.7 .3h0m-8.6 9h0m4-28.5h0m5.5 4.9h0m5.3 3.4h0m-4.3 19.4h0m-1.3-19.9h0m-8.1 12.8h0m8.7-5.1h0m4.3-1.6h0m-11.6 10.9h0m-.4-11.5h0m0 4.8h0m6.3 3.4h0m-2.6 .6h0m8.7-25.8h0m-1.5 13.6h0m-3.3 6.4h0m-1.2 14.8h0m-9.3-4.3h0m6.1-5.7h0m.9-10.6h0m8.4 4.8h0m-8.8-22.9h0m6 11.8h0m-3.5 3.2h0m1.1 .2h0m-4.9 15h0m-5.4-10h0m11.5 2.4h0m1-9.1h0m-8.3-8.5h0m2.5 14.7h0m4-1h0m-10.1-4h0m16.6-8.6h0m-7.2 28.6h0m-3.2-23.9h0m6.6 17.6h0m-2.8-18.5h0m2.1 12.1h0m-6.9 12.2h0m2.8-30h0m2.5 33.8h0m8.1-16.5h0m-7.9-13.1h0m-4.1 5.1h0m7.5 6.7h0m-10.6-10.4h0m4.9-7.1h0m.1 11.9h0m-4.1-6.3h0m1.6 22.1h0m3.3-4.4h0m-10.7-10h0m9.1 13.8h0m-10.9 .3h0m-1.5-27.6h0m16.1 7.6h0m-4.9 15.3h0m3.8-4.6h0m-1.9-4.5h0m-12.8 5h0m17.6-6h0m-7.5 .1h0m-1.8-2.2h0m1.6 18.1h0m-14.9-22.1h0m5.9 4.6h0m13.4-13.6h0m-12.7 27h0m11.9 1.2h0m.8-17.2h0m-9.9-8.6h0m.5 2h0m-.4 24.3h0m1.3-21.3h0m3.5 14h0m-1.7 7.1h0m.4-22.7h0m-1.7 14h0m13.7 2.1h0m-9.1-8.8h0m-2.8 20.4h0m-3-23h0m8.4 12.8h0m-2.5-5.7h0m4.5 14.8h0m-5.2-28h0m4.1 15.7h0m-6.9-3.3h0m-5.8-2.3h0m6.1 4.3h0m-2 5.3h0m-.1-9.5h0m8.2-6.9h0m-1.1 6.3h0m-2-6.8h0m-3-5.9h0m5.6 12.2h0m-3.5 7.3h0m2 6.8h0m2.8-3.2h0m-5.5-6.2h0m-.5 4.1h0m7.6 .4h0m-7.3 5.2h0m1-22.5h0m6.1 11.9h0m-6.6-2.5h0m-1 11.8h0m10.6-9.7h0m-4.8 17.4h0m-8.4-12.5h0m5.2 2.9h0m-3-3.5h0m1.6-2.5h0m8.2 3.2h0m-15.4 1h0m-.1-14h0m10.8 1.5h0m-5.4 12.7h0m-.8-1.4h0m-3.8-17.6h0m14.2 5.5h0m-1-5h0m-6.2 28.1h0m-2.6-14.3h0m6.3 0h0m1.7 .3h0m-2.9 12.5h0m-2.3-9h0m-5.2 .4h0m6.6 .4h0m9.3-13.6h0m-15.1-.7h0m-4.9 13.3h0m1.7-11.3h0m6.8-2h0m6.6 13.2h0m.6 5.1h0m-8.3-2h0m0 5.5h0m9.5-18.4h0m-6 14.9h0m3.2-.5h0m-5.5-22h0m1.1 1.9h0m6.4 5.1h0m-10.5 12.8h0m-2.1-5.6h0m8.7 .4h0m-12.2 2.7h0m11.9-6.7h0m3.5 6.7h0m-3.7-16.6h0m-1.4 6.7h0m2.8 11h0m-2.9-10.3h0m-8.1-5.9h0m7.3 17.8h0m-4.7-22.7h0m12.6 16.9h0m-3.5 10.8h0m-5.4-29.5h0m3.2 23.6h0m-3.1-.5h0m8.9 13.8h0m-12.8-19h0m14.8 13.1h0m-8.8-22.3h0m1.3 6.3h0m7.4 6.8h0m-9.7 3.1h0m-1.1 5.7h0m12-16.1h0m-13.7-4.3h0m-2.6 9.1h0m2.3-8.8h0m-2 4.4h0m5.4-7.5h0m-7.7 19.4h0m1.4-8.2h0m5 8.2h0m.5-7.7h0m-7.4-6.3h0m1.1 12.2h0m4.8-18.7h0m3 4.9h0m.5 18.1h0m-1.4-8.5h0m-9.1 7.2h0m4.4-5.3h0m4.1-17h0m3.2 8.8h0m-14.1 16.1h0m21-13h0m-2.2 10h0m-14.6-7.6h0m10.3-13.2h0m-6.6 22.1h0m4.6-13.1h0m-3.5-15.4h0m13.7 34.9h0m-2.3-18h0m-13.3-4h0m15.7 1.1h0m-10.5 7.7h0m5.9-22.6h0m-7.8 15.4h0m-1.8 14.3h0m4.7-9.6h0m-1.2 9.2h0m-1.5 8h0m-1.8-24.4h0m4.1 16.8h0m-.1-19.1h0m2.2 14h0m.6-13.6h0m-5.8 27.9h0m-6-11.6h0m8.5-7.6h0m-2.6-6.5h0m10.5 14.3h0m-17.2-10.3h0m11.7 15.4h0m-2.2-6.2h0m-10.3-1.4h0m5.5-11.7h0m5.4 5.6h0m6.6-7.8h0m-11-3h0m-3.5 13.9h0m9.5 3.2h0m6.1-9.3h0m-8 4.2h0m-10.1-10.7h0m6.8 3.3h0m5.5 1.7h0m2.4-14.5h0m-8.8 13.5h0m6.9-5.8h0m-3.2 7.3h0m1.9 8.4h0m-3.4 9h0m4.1-14.9h0m-4.6 6.4h0m-1.5-4h0m7.4 6.9h0m4.5-7.6h0m-11-15.9h0m.1 34.2h0m8-35.1h0m-12.3 22.9h0m1 2.4h0m3.7-22.4h0m-4.5 9.2h0m.5 1.2h0m5.1 4.3h0m-2 7.3h0m-5-21.7h0m14.7 11h0m-10.6 11.8h0m-2.5 1.1h0m3.9 .6h0m4.9-2.7h0m-1.8-11h0m-2.3-8.2h0m21.6 22h0m-20.2-3.4h0m4.3-18.2h0m-9.5-6.5h0m-1.4 21.3h0m11.9 12.1h0m-8.9-22h0m-4.5-7.8h0m10.7 18.3h0m-1.8-.9h0m.2-9.6h0m-2.1-9.6h0m7.6 30.8h0m-9-20.1h0m11.3 19.1h0m-12.1-30h0m8.8 18h0m-3.2-11.2h0m8.9 5.4h0m-12.4 8.1h0m5.7-8.3h0m-10.3 11.1h0m-1.5-4.9h0m-.1-10.2h0m2.9-6.1h0m6.2 3.4h0m-3.3 18.9h0m4.6-20.4h0m-.1 19.5h0m-4.3 2.7h0m-2.2-23.5h0m-.7 19.3h0m-3.6-13.3h0m11.1-5.2h0m-9.5 17.4h0m2.5-16.3h0m-2.5 17.3h0m-5.1-7.4h0m12.5-11.9h0m-7.2 23h0m9.2-17.9h0m-6.6 4.2h0m4 9.5h0m3.2 6.1h0m-5.1-17.6h0m-6 5.6h0m11.3-10h0m-.1-6.4h0m-5 19.9h0m3.1 2.6h0m-4.1 7.2h0m.3-15.2h0m6.6 22.1h0m-7.3-29.4h0m1.8 2.2h0m11.7 9.4h0m-7-21.3h0m-7.9 24.1h0m.9-6.2h0m7.5 1.9h0m1.1-16.6h0m1.3 12h0m-1.1 8.4h0m-.7 1.6h0m-9.7-5.1h0m7.9 6.3h0m1.5-9.2h0m-6.8-10.9h0m8.4 3.7h0m-2.6 21.8h0m-3-8.4h0m-4.1-13h0m3.8 16.8h0m-2 11.8h0m3-16.6h0m-6-2.1h0m1.2 15h0m1.6-8.3h0m7.9-20.3h0m-8.3 17.4h0m1.4 3.3h0m10.9-13h0m-11.5 2.9h0m-3.2-9h0m7.1 18h0m-6.5-6.6h0m-4.8 7.3h0m6.9-11h0m1.9-5.3h0m-4.7 2h0m8.5 25.7h0m-3.6-6.2h0m3.5-2.5h0m8 2.3h0m-10.9-14.7h0m-18.8 2.4h0m17.2-14.7h0m-2.3 21.4h0m9.4 5h0m.2-16.2h0m-4 22.9h0m4.1-28.9h0m-9 8.9h0m-.7 3h0m6.9 9.8h0m-.9 1.6h0m-4.4-21h0m-.6 17.6h0m7.2-15.6h0m-5.4 14.2h0m2-10.4h0m2 11.2h0m-2-11.9h0m2 11.9h0m-5.5-16.8h0m6.1 9.8h0m-5.1 4.8h0m9.2-6.5h0m-7.5-6.5h0m.9 22.9h0m-2.9-20.4h0m3.4 15h0m1.7-13.9h0m-3.7 7.5h0m.7-1.5h0m-3.8-6.6h0m-2.4 3.9h0m10.9-13.8h0m-6.3 10.9h0m.3 1.1h0m.2 1.6h0m4.1-8.8h0m.5 1.2h0m-10.8-12.6h0m5.5 30.4h0m2.1-17.5h0m-1.7-3.9h0m2.5 4.1h0m-6.5 16.2h0m1.6 7.7h0m2.5-.8h0m-4-22.9h0m10.3-5h0m2.5 10.5h0m-20.7-.5h0m10.2 10.6h0m9.3-11.6h0m-2-.2h0m-9.5 3h0m1 5.3h0m8 7.3h0m-2.1-12.1h0m-4.3 5.4h0m.4 3.4h0m-3.7-2.8h0m6.6-5.6h0m-4.4-9.2h0m5.8 2.5h0m-1.5-1.9h0m.3 23.6h0m-2.2-32.9h0m-1.2 27.9h0m3.9 5.3h0m-5.8-7.6h0m.1-10.3h0m5.1 6.4h0m-5.4 3.9h0m4.5-3.9h0m-7.5-18.6h0m3.7 9.1h0m-.4 5.8h0m6.1-6.6h0m-15.1 12.7h0m3.4-2.9h0m7.8-4.5h0m-.9 2.2h0m7.7 11.4h0m3.7-19.9h0m-4.8 18.3h0m-.9-17.1h0m-8.8 14h0m4.8-7.1h0m6.1 12.6h0m.5-3.6h0m-15.9 9.8h0m1.9-21.5h0m15.5 6.4h0m-16.2 6.1h0m13.5-10.4h0m-7.3-2.6h0m-11.2 9.2h0m14.1 5.2h0m-8.6-2.3h0m2.5-14.7h0m4.3 11.2h0m11.2-1.4h0m-16.3 13h0m15.8-21.6h0m-2.2 3.7h0m-8.4 .6h0m-6.9-6.6h0m11.9 5.1h0m-6.9-.5h0m-7.5-.2h0m-6.4 21.4h0m18.9-23.5h0m.3-8.1h0m-9.6 29.1h0m-1.6-11.5h0m7.8 3.3h0m8.3-3.2h0m-.1 2.8h0m-16.6 1.8h0m11-4.1h0m5.5-18.8h0m-6.3 16.7h0m-1.9-10.6h0m-2.6 13.1h0m-11.7-2.4h0m6.6 14.1h0m1-39h0m9.8 14.8h0m-1.7-.8h0m12.5-.5h0m-1.7 16.5h0m-8.4-17.2h0m-.5 .7h0m-14.2 18h0m2.8-20h0m2.9-4.1h0m-4.7 6h0m12.9 11.6h0m-7.1-15.5h0m2.1 14.5h0m6.8-7.8h0m-.9 17.1h0m8.5-11.7h0m-5.2 1h0m-5.1-7.5h0m-7.2 9.3h0m-5.6-3h0m-2.8-3.5h0m14.9 19.5h0m6.3-2.5h0m-2.3 .2h0m-3.2-21.3h0m-10.4 4.2h0m10.4-6.7h0m-11.7 24.1h0m5.9-15.7h0m9.4 3.3h0m-13.6-3.4h0m-6.2 8h0m20.9-2.2h0m-2.4 1.8h0m-.4 2h0m-10.1-3.8h0m4.9-4.1h0m11.1 16.3h0m-15.5-9.2h0m3.7-12.6h0m3.4 23.3h0m-7.2-15.9h0m6.9 10.3h0m-1.2-10.3h0m5 1.2h0m-11.1-2h0m-.5-1.5h0m6 8.5h0m5.3 .6h0m-4.3-26h0m-.4 10.1h0m-11.8 24.7h0m10.6-12.9h0m4.7-22.9h0m-7.5 21.2h0m24.2-8.3h0m-32.6 3.6h0m9.3-5.9h0m1.9 6h0m4-7.3h0m-12.3 6.2h0m6.3-3.7h0m5.6 18.3h0m-3-13h0m13.2 6.1h0m-10.3-9.2h0m-9.2 14.8h0m7.3-5.9h0m2.6-7.3h0m3.6 16.5h0m-6.1-13.4h0m4.6 4.5h0m-1.5-.7h0m.6 .2h0m-6.3 12.2h0m1-11.9h0m.3-6.6h0m4.9-8h0m-11.1 26.4h0m18.3-14.6h0m-6.5-11.2h0m-6.5 14.9h0m3.7-12.7h0m4.1 4.5h0m-15.8 18.6h0m6.9-19.1h0m-5.2-7.4h0m5.9 14h0m-2.1-19.2h0m-4.3 23.9h0m18.1-15.9h0m-20.8 24.7h0m13-29.4h0m-4.1 1.8h0m5.2 8.1h0m3-8.5h0m-17.7 11.8h0m15.7 7.1h0m-6.7-8.1h0m10 7.5h0m-4.4-3.1h0m-6-2.2h0m4.2-9.6h0m-3.3 6.8h0m4.8 13.5h0m-13.4-.6h0m6.4-3.5h0m-1.7-15h0m10.9 22.2h0m-12.8-21.2h0m4.4 8.1h0m1.3-20.3h0m2.6 20.2h0m12.6 8.2h0m-17-12.1h0m5.1-15.6h0m-3.3 28.8h0m1.9 3.6h0m2 3.7h0m-6.3-28.3h0m-7.2-5.3h0m17 19.8h0m-12.9-5.5h0m9.7 13.5h0m2-17.4h0m-16.7 12.7h0m13.1 2h0m-3.6-12.5h0m8.6-2.9h0m-10.6-6.1h0m16.7-6.5h0m-9 31.5h0m-5.7-9.3h0m6.7-6.8h0m4-3.4h0m-13.7 2.4h0m4.8 19.7h0m-1.8-8.2h0m6.3-30.9h0m3.4 10h0m-19.1-2.3h0m14.9 20.5h0m-10.7-2.2h0m-1.6 8.6h0m4.4-14.9h0m10.6 .9h0m-1.8-2.8h0m-14.8 14.6h0m8.6-20.4h0m4.5 6.3h0m2.7-14.7h0m-5.8 29.4h0m1.1-23.4h0m3.7 9.3h0m1 5h0m4.7-3.9h0m-19.2 10.2h0m1.9 2.7h0m2-7.1h0m7-5.9h0m-3.6 3.7h0m8.5-9.5h0m1.9 19.7h0m-.5 2.7h0m-5.8-11.7h0m.3-5.9h0m8.7 12.2h0m-10.3-25.7h0" stroke="#8c8c8c" stroke-width="1.0" stroke-linecap="square" fill="none"/>
<path d="M78.7 313.5h0m12.8-16.2h0m-5.3 24.4h0m-3.4-16.7h0m13.5-8.2h0m-16.2-2.7h0m2.6 8.3h0m1-10h0m1.3 19.5h0m-1.5-35.5h0m-1.4 30.1h0m5 12.2h0m-1.8-38.5h0m2.3 16.8h0m-9.4-11.1h0m6.8 22.1h0m-1.1-.7h0m-2-3.4h0m5.4 2.6h0m0-9.6h0m-6.4-30.8h0m10.1 57.9h0m-7.4-21.5h0m1.9-27.3h0m-7.4 36.8h0m7.9-3.9h0m-6.5-2.2h0m-1.5 1.9h0m11.4-30.7h0m-8 41.7h0m7.3-15.2h0m-4.8-6.8h0m1.4-18.2h0m-5.2-.6h0m-1 11.9h0m3.6-5.5h0m4.5 13.7h0m-4.4 14.6h0m1.3-21.6h0m2.7 21.7h0m-11-24.1h0m9.6 14h0m-5.4-14.1h0m3.1 3.4h0m-4.9-5.3h0m8.1 5.7h0m-2.2-3.3h0m-.9-28.4h0m-4.1 35.1h0m6.5-28.9h0m.4 16.5h0m.5 7h0m-8.5 1.5h0m4.7 4.5h0m-.5 13.4h0m5.2-18.9h0m-.4 28.1h0m-1.2-2.3h0m1.7-4.8h0m-3.2-6.6h0m9.3-4.7h0m-10.5-2.4h0m.8-6.8h0m-4.4 11h0m5.7-40.1h0m-.2 6.8h0m3.6 31.4h0m-9.3-12.5h0m4.9-4.3h0m.1-22.9h0m2.3 37h0m-2.2-5.8h0m-2.3-7.3h0m2.4-18.6h0m-4.4 38.5h0m.8 19.2h0m3.5-11.4h0m3.7-31.7h0m-3.4 17.6h0m-.8 7.8h0m2-14.9h0m-1.6-.5h0m-6.3-4.7h0m4-.1h0m6.7 12.4h0m-4.2-30.7h0m-9.5 21.3h0m9.6-24.3h0m-1.1 34.8h0m9.1-15.9h0m-12 11.6h0m8.2-3.8h0m-2.2 9.5h0m-6.7 1.4h0m4.7 13.3h0m-3.7-35.7h0m1.6 35.4h0m4.1-16.4h0m-8.7 1.5h0m9.9 9.2h0m2.7 4.1h0m-3.4-9h0m4.3 7.5h0m-10.9 1.2h0m4.8 5.2h0m-.7-13.1h0m1.6 17.1h0m-.3-37h0m-4.8 25.6h0m1.4-20.9h0m2.9-3.1h0m6.2 29.2h0m-3.5 3.2h0m1.2-.9h0m-2.5-27.4h0m-3.3 12.6h0m-1.5-14h0m-2.9 3.4h0m4.8 14.2h0m1.5-7.5h0m-3.8 11.1h0m-4-14.9h0m12.3 10.4h0m.6-16.7h0m-4.4-4.9h0m-7.3 5.2h0m14.5-15h0m-9.4 13.2h0m.7-2.1h0m-2.2 7.7h0m-4-17.5h0m6.8 8.4h0m-6.4 11.9h0m-3.3 1.6h0m15.1-5.4h0m-2 11.3h0m-10-12.7h0m3.9-1.8h0m9.5 30.4h0m-9.3-35h0m0 10.7h0m1.8-19.8h0m1.1 29h0m-2-28.3h0m4.2-9.6h0m-4.8 13h0m-1.2 10.3h0m-4.8-11h0m15.5 23.9h0m-6.2-6.6h0m2.6 2.2h0m-3.5 8.7h0m-.2-13.6h0m-9.4 25.5h0m6.7-23.3h0m-6.3-3h0m4.5 18.5h0m1.4-17.2h0m.2-26h0m-1.9-3.1h0m3.7 27.5h0m-.5 6.7h0m-1.9-23h0m1.7 10.2h0m-2.7 .9h0m2.4 4.8h0m6.6 2.2h0m-1.1 12.5h0m3.4 10.5h0m-14.7-18.5h0m4.4 10h0m0-42.8h0m7.2 51.2h0m-8.9-6h0m-1.6-14.3h0m7.5 25.1h0m-1.4-7.7h0m.4-17.2h0m3.2-32.8h0m-5.5 50.4h0m2.8-16.6h0m-3.3 1h0m-.3-27.8h0m1.4 28.3h0m4 .1h0m-1.9 6.5h0m-.4 4h0m1.2-12.3h0m3.1-30.6h0m-1.7 7.9h0m1.1 23.5h0m-8.2 .4h0m4.5 18.7h0m-.4-17.2h0m3 15.9h0m-9.5-13.9h0m6.6-11.4h0m4.4 5.7h0m-4.9-.4h0m-5.9 4.9h0m7.7 14.4h0m-6.3-22.3h0m10.2 8.9h0m-9.8-15.4h0m-2.2 19.2h0m5.3-20h0m2.5 2.5h0m-3.8 5.9h0m5-4.2h0m1 25.5h0m-16.8-4.7h0m12-30.6h0m-5.2 21.8h0m7.6 21.9h0m-.5-36.8h0m-3.7 4.9h0m1.2 15.4h0m-.7-34.5h0m-1.8 23.3h0m0 24.8h0m4.9-39.6h0m-1.3 38.2h0m1.2-42.7h0m-.4 31.4h0m-1.6-12h0m5.7-3.7h0m-8.1 16.5h0m4.7 1.3h0m.7 9.6h0m-1.5-2.5h0m1.5-1.5h0m.4 4h0m-4.1-18.3h0m-3.6 4.9h0m8.7-32.7h0m2.9-3.4h0m-4.7 23.1h0m.7 6.3h0m-3.2-6.4h0m5.7 2.8h0m.9 22.7h0m-5.9-13.9h0m3.4-36.8h0m-4.2 45.4h0m6.8-.6h0m-1-12.8h0m-11.1 3.8h0m5.3-14h0m-1.8 18h0m-.4-17.4h0m4.1 7.2h0m2.9 18.2h0m-2.2-14.6h0m-.5-1h0m.8-5.1h0m-5.7 23.5h0m7.9-14.1h0m-11.1-14.2h0m2.8 1.5h0m1.4 18.2h0m1.4-26.2h0m3.6-5.2h0m-5.4 36.3h0m13-11.1h0m-4.3-30.8h0m-12.4 46.4h0m3.6-46.9h0m2.2 43.2h0m4.5-20.4h0m-1.9 5.1h0m3.6-7.9h0m2.2-8.2h0m-9.9 7.9h0m5 17.7h0m-.9-47.3h0m-4.2 11.4h0m-.2 38.4h0m2-7.8h0m-2.9-27.5h0m4.9 4.8h0m3.4 16.2h0m-3.4 3.1h0m-1 2.8h0m3.6-.6h0m-5.3 8.8h0m-1.1-45.9h0m-6.7 36.8h0m11.8-13.6h0m-6.3-1.6h0m9.7 5.5h0m-9.8 28h0m.2-28.2h0m-.9 6.1h0m9.6-1.5h0m-5.4 4h0m-.2 13.5h0m1.3-13.6h0m-.3-1.6h0m-2.1-16.4h0m1.9 22h0m-2.4-28.9h0m2.6 8.5h0m.5 15.6h0m-.3-15h0m-11.6-12.9h0m4.9 23.7h0m1.8-16.1h0m0 28.3h0m2.9-6.4h0m-4.4-27.3h0m7.9 30.6h0m5.7 5.5h0m-6.2-9h0m-.7-7.2h0m-4-4.1h0m5.3 10.8h0m-5.6-1.9h0m2-6.2h0m1.7-15.9h0m-2.1 11.9h0m-2 19.6h0m1.8-4.4h0m2.7-.3h0m-4.2-3.3h0m.5-18.3h0m6.4 17h0m-5 16.2h0m-4.5-17.9h0m.3-13.5h0m8.3-20h0m-8.9 17.5h0m9.4 8.6h0m3.7-7.9h0m-11.6-14h0m2.2 25.1h0m-3.4 27.7h0m7.4-38.4h0m3 23.1h0m4.8-3.9h0m-8.1-14.7h0m-2 23.8h0m-.6-20.6h0m-2.6-6.4h0m-1.7 1.6h0m-.2 16.8h0m5.5 12.9h0m5.7-30.4h0m-2.6 13.8h0m2-16.2h0m-3.9-1.4h0m-3-16.8h0m.8 40h0m5-17h0m1.8 6.7h0m-11.2 10.4h0m9.7-32.4h0m-6 4.1h0m1.2 29.9h0m-2.2-2.2h0m7.8-3.2h0m-13.1 .5h0m9 5.8h0m5.3-27.9h0m2-15h0m-1.2 19.9h0m-11.6 10.5h0m6.6 2.5h0m2.9 8h0m-2.3-25.8h0m-3 29.3h0m-2.7-30h0m7 30.3h0m-8.6-28.3h0m-.8 37h0m3-19.3h0m3.7-34.3h0m5.2 28h0m-1.6 21.8h0m-7.6-27.8h0m2.3 8.9h0m-1.2-1.9h0m7.4 15.8h0m-10.5-20.1h0m-.4 7.6h0m10.8-12.4h0m-1.8-7.6h0m-.2 46.4h0m-9.5-52h0m6.4 40h0m1.8-25.9h0m-9.3 .3h0m5.1 24.8h0m-2.7-32.5h0m2.1 22.5h0m2.1 6.7h0m-.5 8.1h0m-6.3-31h0m10.7-8h0m-1.5 1.1h0m-4 27.1h0m-3.7-7.1h0m10-6.7h0m-1.8 .7h0m.1 24.4h0m-.5-33.2h0m-4.3 30.7h0m4.9-41.2h0m1.8 30.5h0m-6.4-5h0m-1.5-9.4h0m1.9-9.1h0m6.6 8.3h0m-4.6-13.3h0m6.1 11.4h0m-7.4 15.3h0m1.8 9.9h0m5.8-23.1h0m.8 21.2h0m-3.8 8h0m-7.4-18.3h0m4.6 10.3h0m-.3-.5h0m-4-24.5h0m9.2 24.9h0m-3.4-17.7h0m-5.1 30h0m-1.1-30.9h0m5.5 27.2h0m-7.7-29.3h0m10.6 5h0m-5.7-2h0m-3.2 16.7h0m7.3-10.5h0m-5.7-14.9h0m2.9 18.4h0m1.3-8.6h0m-4.5 8.2h0m5.4-15.9h0m3.6 32h0m-1-35.2h0m-4.5 28.7h0m3.4-4.8h0m-3.8 2h0m5.1-14.4h0m-8.6 18.3h0m5-19.7h0m2.5-20.1h0m-2.8 23.9h0m6.5 7.3h0m-8.5-5.3h0m-4.1-10h0m6.6 28.6h0m-.5-10.9h0m-3.7-10.8h0m4.8-11.4h0m4.7 16.1h0m-8.3-15.8h0m7.3-4.6h0m-2.4-3.8h0m-3.6 47.6h0m-7.8-12.7h0m1.8-19.8h0m6.6 10h0m3.7-16.8h0m-5.8 20h0m-3.7-15.4h0m14.2 5.8h0m-6.7-9.3h0m1.5 2.9h0m-4.1 17.6h0m-1.1-39.6h0m1 53.1h0m-.9-10.2h0m3.6-44.4h0m-4 38.9h0m3.4-12.2h0m.3-4h0m-10.7 6.9h0m6.9 1.1h0m4-12.3h0m.5 6.2h0m-1.5 28.1h0m-3.5-47h0m1.9 43.8h0m.7-30.6h0m1.3 23.4h0m-4.2 2.5h0m2.2-16.4h0m-7.3 4.5h0m3-3.8h0m11.5 29h0m-2.4-33.4h0m-1.4 5.1h0m-4.7-12.5h0m9.3 24.3h0m1.9-8.7h0m-12.6 0h0m1.6-2h0m5.9 1.3h0m-2.7 17.9h0m-.6-16.6h0m1.8 2.2h0m-.3-2.2h0m1.2-23.4h0m2.2-1.8h0m-17.2 19.3h0m14.2 2h0m2.6 10.7h0m-4.5 4.2h0m-4.9-46.2h0m7.1 38.4h0m-5.1-21.5h0m-5.1 26.6h0m6.6-43h0m-.9 39.2h0m4.4-28.2h0m-1.5 21.9h0m-3.1 13.2h0m7 3.3h0m.3-7.7h0m-1.6-18.2h0m-7.6 16h0m1.9-6.2h0m2.4-8.5h0m-1.6 28.8h0m-4.6-16.7h0m10.4-.3h0m-2.7 12.5h0m-5.7-23.8h0m-1.4 7.7h0m9-20.3h0m3.4 5.6h0m-5.4-9.1h0m-1.1 4.6h0m-.5 2.4h0m-1.9 15.7h0m7.7 11.9h0m-2.4-19.6h0m-3.7 12h0m-7-13.6h0m6.2 6.5h0m2.9-2.3h0m0 11.6h0m-5.2-30.5h0m5.4 32.8h0m-3.4-22.4h0m.7 14.2h0m1 14.5h0m-6.1-9.4h0m6.9-21.7h0m-.2-9.7h0m-4.3 16.7h0m.6 23.3h0m0-26.9h0m13.5 16.3h0m-7.1-5.3h0m-13.6-2.3h0m5.5 30.2h0m-1.1-24.7h0m3.4-18.5h0m5.4 34.8h0m-1.4-26h0m-1.5 4h0m2 9.4h0m-3-13.7h0m.9 14.8h0m6.4-18.1h0m-3.8 6h0m1.8 11.9h0m-9.7-7.5h0m13.9 6.1h0m-13.9 6.7h0m10.2-17.3h0m-6-16.8h0m9.3 19.8h0m-3.4 0h0m-8.4-6.9h0m5.7 30.1h0m0-48.9h0m-5 42.4h0m3.5-7.5h0m-3.3-12.6h0m1.2-3.4h0m.9-11.7h0m.5-3h0m-4.4 25.2h0m11.8 16.8h0m-13.2 8.4h0m6.3-.9h0m-3.2-23.7h0m7.9 .8h0m-7.2 9.8h0m0-21.7h0m9.1 22.5h0m-7.4-29.4h0m-3 12h0m5.2 14h0m-6.3-32.4h0m5.3 46.6h0m-3.2-12h0m3.8-16.1h0m-6.2-2.1h0m8 8.9h0m.6-18.4h0m-7.7 30.9h0m3.3-12.4h0m2.8 11.2h0m-8-34.5h0m5.8 41.5h0m.9-10.9h0m-6.1 19.9h0m1.5-7.9h0m8.6-6.4h0m-3.7-37.7h0m-2.8 19.7h0m-3 5.7h0m6.8-17.9h0m-4.9 32.2h0m11.4-40.9h0m-7.7 45.5h0m-3.7-37.9h0m-1.5 22.6h0m-.3 2.7h0m.9-23.1h0m2.1 21h0m2.3-10h0m4.6 9.1h0m-9.8-7.5h0m9.7 3.3h0m-5.5-9.6h0m1.4 3.4h0m-4.8 10.9h0m6.9-8.6h0m-.1 23.5h0m-4.9-4.1h0m4.9-21.7h0m-3.9-14.4h0m-1.2-12.1h0m-3.3 20.4h0m1.9 22.8h0m1.9-16.8h0m6.6-6.5h0m-4.9 4.3h0m-2.6-14.4h0m.7 17.4h0m1.7-4.6h0m-2.1 7.9h0m4.3 12.3h0m-3.3-22.4h0m1 16.2h0m-3.5-18.8h0m4.3 24.2h0m-.9-46.3h0m-2.9 59.7h0m-3.1-18.2h0m1.3 10.4h0m3.1-36.8h0m3.1-.1h0m4.7 26.3h0m-12.8-26.4h0m7.8 16.8h0m2.7 11.9h0m-7.5-32.7h0m6.6 24h0m-5 10.8h0m5.1-26.5h0m7.2 34.8h0m-4.3-19.9h0m-8.5-18.2h0m.4 9.4h0m-.3-3.5h0m.3 14.5h0m1.5 12.6h0m6.1-11.7h0m-5.2 5.6h0m-.4-5.9h0m-3.4 10.5h0m9.3 10.1h0m-8 .1h0m.2-48.4h0m4.9 30.8h0m-4.4-5.9h0m-1.4 30h0m6.1-8h0m-2.4-42.3h0m-4.8 13.6h0m-2.5-22.8h0m4.7 40h0m-2.7-2.5h0m3.1-10.5h0m-5.4-21.6h0m7.1 35h0m-1-24.2h0m7.6 28.2h0m-4.8-27.4h0m-12.6 41.6h0m10.1-.4h0m3.1-58.6h0m1.7 51.6h0m-4.8 2.6h0m-1.7-34.3h0m3.4 12.6h0m-1.4-7.9h0m1.1 23.9h0m-3.5-35.7h0m-2.4-2.8h0m.7 32.7h0m2.8-28.1h0m-.3 32.6h0m5-20.4h0m-1.8 14.6h0m-5.8 8.4h0m1.5-12.9h0m5.7 14.3h0m2-36.6h0m-.6-2.2h0m-8 24.3h0m2.2-23.4h0m-1.6 19.3h0m-2.7 10.4h0m5.5-10.1h0m1.2-33h0m-11 10.8h0m8.9 11.5h0m-1 26.9h0m7.5 10.1h0m-.4-6.8h0m-7.4-13.1h0m6 5.3h0m-4.8-7.3h0m3.6-32h0m-7.8 34h0m8-4.5h0m.3-3.7h0m-8.9 15.3h0m7.7-18.7h0m3.6 21.6h0m-5.8-50.3h0m5.1 46.8h0m-9-19.4h0m-1 21.2h0m8.9 6.5h0m-12.3-12.4h0m11.5-20.7h0m-3.9-13.1h0m4.5 23.3h0m-2.4 6.9h0m-1.1-12.9h0m2.9 5.5h0m1.2-.8h0m.6-27.1h0m-.3 27.2h0m-1 4.5h0m-5.6 25.1h0m1.5-25.1h0m-5.7 2.2h0m5.4-6.7h0m.2-11h0m6.3-13.4h0m1.9 35.4h0m-12-23.5h0m-2 20.5h0m3.8-1h0m3.8-9.9h0m6.3 6.7h0m-12.4 10.4h0m-.2 6.2h0m.3-15.9h0m10.2-16.3h0m-7.8 4.9h0m1.3-.1h0m-3.4 35.6h0m6.9-47.6h0m-3.7-6.4h0m1.5 48.4h0m-2.9-28.6h0m.5-7.8h0m7.3 18.7h0m-7.2 14.7h0m5-30.2h0m-4.5-19.3h0m-2.7 26.5h0m5.8-11.9h0m-5-11.8h0m3.9 17.9h0m4-12.9h0m-5.3 18.9h0m-1.7-1h0m7.2-11.1h0m-5 21.1h0m-2.4 14h0m2.9-6.5h0m2.9-27h0m-.4-10.8h0m-1 10.8h0m.7 40.2h0m-2.4-35.2h0m-4.5 4.1h0m4.8-13.1h0m-7.2 29.1h0m9-10.8h0m-6 3.1h0m-.8 16.4h0m11.1-6.9h0m-5.3-47.6h0m-.1 41.6h0m-2.2-19.1h0m1.8-11.2h0m-3.2 34.2h0m.8-25.9h0m2.1 16.2h0m0-1.7h0m-11-21.3h0m16.3 34h0m-8.2-35.9h0m6.4 30.3h0m1.2 6.1h0m-3.4-12.4h0m-3.3 8.2h0m4.2 14h0m-4-4h0m-2.6 .9h0m-6.1-11.2h0m13.1-24.8h0m-2.2 9.9h0m5.4-20.7h0m-6.2 39.1h0m1.4-3.2h0m-.5 17.7h0m-1.8-50.9h0m3.2 48.5h0m.2-30h0m0 9.5h0m-5.9-30h0m2.6 39.6h0m8.6-5.5h0m-6.8-11.7h0m-3.3-4.3h0m-3.3 8.5h0m10.1-.5h0m-3.8 4h0m2.2 9.6h0m1.9-33h0m-3.9 4.1h0m-.6 27.9h0m-3.5-3.4h0m4.6-23.5h0m-4.6-11.4h0m.9 38.8h0m-1.9-26.9h0m2.9 18.2h0m.7 .1h0m1.2-37.1h0m.1 34.5h0m3.8-28.3h0m-4.6 27.7h0m2.1-27.3h0m3.4 26.7h0m-10.1-6.2h0m1.2 9.6h0m-.6 5h0m3.3-9.5h0m-1.1 1.6h0m1.8-13.6h0m.8 4.1h0m-9.3 5.4h0m14.1 3.7h0m-3.1 6.3h0m-4.1 2.7h0m5-31.3h0m-1 41.8h0m-.7-11.1h0m-.4-7.8h0m.2 .7h0m-3.7-16.7h0m1.1 26.3h0m3.9 2.7h0m-6.9-24.1h0m4.4 7.9h0m.5-9.7h0m1.7 25.3h0m-10.6-29.9h0m5.8 18.1h0m8.8 7.7h0m0 11.4h0m-5.2-18.3h0m-1.2 13.9h0m-2.7-23.3h0m.5 8.7h0m1.1 13.7h0m5.9 11.5h0m-.5-46.5h0m1.1 14.4h0m-5.4 15.8h0m-1.9 2.7h0m3.6-5.9h0m0-8.1h0m.6-14.6h0m.3-3.6h0m.3 28.9h0m8.9-17.7h0m-11 5.8h0m4.9-9h0m-1.7 4.9h0m-2.6-8.1h0m2.4 9.8h0m-6.8 1.4h0m-1.3 12.8h0m7.5-24.1h0m0-15.6h0m-6.4 25.2h0m5.9 11h0m-3.1-14.1h0m3.6 23.7h0m-5.8-14.5h0m.7-15.3h0m4.4 27.8h0m3.1-6.4h0m-6.7-10.2h0m8.7-1.5h0m-6.1-28.4h0m-.9 42.6h0m-3.6 5.6h0m2-4.6h0m2.1-7.7h0m1.7-8.9h0m-9.7 11.9h0m11.4 14.8h0m-5.9-21.7h0m-1.2 14.5h0m-1 2.4h0m4.1-29.1h0m-.1-9h0m-4.9 33.7h0m2.8 6.6h0m3-6.3h0m-2.8-17h0m-.7-21.2h0m8.8 15.9h0m-11.3 30.2h0m6-3.6h0m.9-20h0m-3.9 19.8h0m2.8-18h0m.1-11.9h0m-3.3 15.2h0m3.7-12.8h0m.1 29h0m1.6-29.2h0m-.6 17.3h0m-5.6 16.7h0m1.1-21.9h0m9.8-12.4h0m-14.1 30.6h0m4.5-8.7h0m2.4 12.2h0m.2-22.3h0m-.4 9.4h0m-.6-10.1h0m-3.7 12.3h0m3.7-8.7h0m3.2-8.1h0m-4.1-13.5h0m3.4 7.3h0m-1.8 6.5h0m-6.2 14.4h0m3.2 1.1h0m2.4-11.9h0m3.2 17.9h0m-4.7-21.6h0m7.9 19h0m-8.2-5.3h0m3.2-1.1h0m-3.8-4.1h0m3.6 17.2h0m-.8-54.8h0m7.4 6h0m-11.9 34.3h0m1.6 10.2h0m3-4h0m2.4-29.2h0m2.5-2.7h0m-8.8 23.5h0m9.8-31.5h0m-10.7 54.9h0m4.4-28.1h0m5.6-.8h0m-12.2 7h0m5.6-20.8h0m1.5 3.1h0m.7 21.8h0m-3.9-16.7h0m2.6 24.3h0m.6-.9h0m4.9-26.1h0m-8.4 14.9h0m7.1-7.5h0m1.4-15.2h0m-6.2 32.1h0m7.5 11.3h0m-5.9-12.7h0m-1.4-25.7h0m-.7 12h0m4.9-21.6h0m-3 26.6h0m-2.5 22.3h0m3.1-24.7h0m-1.4-6.3h0m.4 20.2h0m-2.8 9.6h0m-2.6-19.1h0m2.8-5.4h0m5.4 25h0m4.1-14.4h0m-4.2 15.8h0m-8.1-36.1h0m4.1 11.2h0m.2-10.5h0m6.7-17h0m-8.1 8.7h0m-3.6 29h0m9.6 5.9h0m-7.6-20.9h0m-2.9-2.7h0m7.2 31.6h0m-3.6-36.1h0m9.1 22.2h0m-7.9-31.4h0m4.8-8.2h0m5.9 32.6h0m-10.1-4.8h0m4.8-10h0m-.4-15.6h0m-4.7 31.9h0m5.9-19.6h0m2.6 24.4h0m-7.6-19.6h0m.4-10.2h0m-1 19.4h0m-4.4-11.2h0m2.3-10.4h0m1.8 34h0m4.4-25.6h0m-5.4 24.2h0m5.4-20.3h0m-5.7 16.9h0m3.1-2.1h0m-3.2 15h0m4.9-4h0m2.4-32.4h0m-9 32.9h0m3.8-31.4h0m3.4 29h0m3-14.8h0m.1 8.6h0m-4.9-25.5h0m-5.1 20.2h0m3.7-21.6h0m-9 16.5h0m10.1 20.2h0m1-17h0m-1.3-17.5h0m4.4 35.7h0m-5.3-10h0m6.2-22.3h0m-6.7 23.4h0m-1.8-46.9h0m8.2 4.1h0m-7.7 37h0m13-8.1h0m-15.3 26.1h0m.4-23.6h0m5.5-28h0m-2.2 31.1h0m5.6 2.7h0m-11.4-29.3h0m4.9 51.9h0m8.5-17.3h0m-7.9 9.3h0m-.8-2.2h0m4.7-41.2h0m1.3 50.2h0m0-47.3h0m-5.2 34.5h0m3.8 3.7h0m-7.9-46.7h0m9.1 49h0m-4.2-9.3h0m-1.2-1.8h0m-1.2-12.6h0m1.7 10.2h0m4.6 12.4h0m4.4-31.5h0m-5.5-5.6h0m3.3 39.5h0m.6 2.5h0m-7.5-23.7h0m-.9 25.9h0m4.9-2h0m-6.2-48.2h0m4.4 17.7h0m-1.1 26.3h0m-5.6-1.6h0m4.9-8h0m3.1-26.5h0m-5.1 5.1h0m8.3 24.1h0m-8.6 8.4h0m7.1-2.2h0m.6-8.4h0m-4.3-18.9h0m3.3 .7h0m-1.4-2.4h0m-2.1-7.9h0m0 13.2h0m-.2 8.9h0m-7.6-6.4h0m5.8 23.9h0m-.8-24.3h0m-.3 22.4h0m8.3-8.9h0m-9.5 2.1h0m9.6 12h0m-1.6-8.1h0m-5.2-13.7h0m7.1 18.1h0m-1.4-38.1h0m-.1 23.1h0m.9 .6h0m-.9 13.5h0m-.3-43.1h0m-7.7 25.6h0m-1 11.8h0m12.2 3.4h0m-3.1-25h0m-1 17.1h0m-.2-32.3h0m.5 26.6h0m1.4-2.2h0m-1.6 4.8h0m-2 19.6h0m.2-6.7h0m-3-8.4h0m7 4.5h0m-1.7-15.3h0m-7.6 9.1h0m9.6-1.3h0m-12.2-14.9h0m4.5 12.3h0m.1-3.7h0m.2 4.5h0m2-20.4h0m5.4 1.7h0m-5.5-6.3h0m-5.1 8.4h0m-.1 37.9h0m14.4-24.1h0m-14.2-39.2h0m6 60.8h0m-.8-32.8h0m.6-7.4h0m4.3 19.5h0m-7 2.8h0m.7-16.6h0m-5.2 .2h0m3.9-24h0m7.6 37.5h0m-5.4-11.7h0m3.5 21h0m-3.1-13.7h0m-6.1-6.6h0m5.3 16.3h0m4.7 6.6h0m-4.9-16.1h0m-.1-5.1h0m-2.4 8h0m12.7-2.2h0m-10.5 7.8h0m-.6-9.4h0m5-1.4h0m-5.7 14.3h0m3.2-12.5h0m-.5-4.9h0m-2.7-5.5h0m-1.2 13.5h0m3.3 6.5h0m-1.7-23.5h0m1.8 7.8h0m-.2 10.4h0m6.4-17.3h0m-5.1 31.1h0m.8 .8h0m-.9-21.2h0m-1.9 22.8h0m10.3-7.8h0m-4.6-3h0m-1.7 14.5h0m-4.9-13.3h0m7.8-6.7h0m-5.4-10.5h0m.1-5.1h0m2 6.8h0m-4.4 4.6h0m1.9-2.9h0m4-3.8h0m-3 20.6h0m1.4-32.4h0m-1.3-1.6h0m-3 23.1h0m-.4-15.3h0m6.4 10.9h0m.4 10.9h0m-8.3-28.7h0m4.8 16.3h0m-5.2 22.3h0m4.5-12.3h0m.8 6.8h0m-4-20.9h0m1.8-16.3h0m.7 36.1h0m.9 1.5h0m5.1-21h0m-10.4 4.3h0m7.3-1.1h0m.9-13.6h0m5.2 32.5h0m-5.7-24.3h0m-4.1-17.8h0m3.2 30.7h0m-1.9-2.8h0m-1.4-9.6h0m3.9 15.9h0m1.6 5.7h0m-10.7 9.5h0m6.3-29.6h0m4.6-2.1h0m-4.4 24.1h0m5.3-10.8h0m-6.1-8.1h0m3 21.6h0m-.4 8.9h0m-3.5-11.6h0m2.1-29.2h0m.3 33h0m3.9-20.5h0m-.4 3h0m-1.9 16.9h0m-.8-11.8h0m3.1-3.2h0m-5.2-28.9h0m-2.2 39.1h0m.5-13.1h0m6 9.4h0m-1.4 17.4h0m-.9-37.4h0m4.4 22.2h0m-4-46.7h0m1.3 5.4h0m-.8 39.1h0m-.4 7.6h0m-.2-26.3h0m-1.7 31.7h0m-4.2-20.1h0m2.7 19.4h0m.2-32.7h0m.7-2h0m4 36.7h0m2.7 2.6h0m-3.9-39.9h0m7 41.1h0m-14.2-50h0m4.1 32.3h0m2.8-25.1h0m-10.2 3.5h0m9.2 13.1h0m3.1 11.4h0m-4.5-7.8h0m-5.4-14.6h0m10.1 3.9h0m4 18.7h0m-14.6-13.8h0m10.8 16.8h0m-10.2-34.3h0m8.9 22.7h0m-4-21.9h0m-3.2 5.9h0m5-9.3h0m-3.1 16.3h0m2.1-9.9h0m1.9-3.3h0m-1.1-6.4h0m3.2 22.7h0m-6-15.6h0m10.5 14.7h0m-6.9-21.3h0m0 14.1h0m-.6 22.5h0m.5-6.8h0m-1.9-14.6h0m-.5-18.4h0m.4 15.3h0m2.4 25.8h0m2.8-4.5h0m-4.6-8.6h0m2.4-22h0m1.9 42.2h0m-1.5-21.2h0m4.5 17.3h0m-6.4 5.2h0m.1-19.5h0m-2.6 2.3h0m-.7 9.4h0m4-27.1h0m-2.3 3.9h0m4-25.8h0m-3.6 35.6h0m1.3 8h0m6.9-20h0m-4 4.3h0m-6.8 9.4h0m1.8 16.4h0m6.3-36.9h0m-8.4 34.6h0m4.2 4.6h0m-1.8-29.9h0m1.5-5.5h0m2.3 15.8h0m-8.4 .7h0m11-15.4h0m-6 33.8h0m0-22.2h0m-5.8 2.7h0m3.9 15h0m-7.1-12.9h0m14.7 1.5h0m-7.9 4.1h0m7.2-35.3h0m-2.1 31.7h0m-5.3-9.2h0m-.6 19.7h0m-2.8 .5h0m.9-31.4h0m-1.2 38.4h0m9.2-42.1h0m5.9 23.5h0m-15.4 8h0m5.7-27.1h0m-4 12.1h0m2.1-12.9h0m4.8 34.3h0m-2.7-24h0m-1.6 10.7h0m-3.9-9.5h0m10.3 16h0m-1.9-5.3h0m6 .1h0m-12.9-2.8h0m7.8-21.6h0m.2 36.5h0m-2.2-3.9h0m-3.4-40.2h0m1.2-5.5h0m1.9 7.7h0m-7.9 20.5h0m10.4 15.6h0m-2.4-36.6h0m-1.6 36.3h0m1.8 2.4h0m0 3.7h0m1.2-21.4h0m-1 16.4h0m-4-21.3h0m.9 1.3h0m2.8 10h0m-.7-5.1h0m6.1 4.5h0m-8.3 17.8h0m1-13.5h0m.3-9h0m-4.3-9.2h0m1.7 31.3h0m2-11.7h0m-1.6-3.9h0m2.7-8.9h0m-9.1 1.6h0m9.4 13.6h0m1.5-7.7h0m-5.5-10.8h0m2.5-.5h0m0-.8h0m3.8 14.1h0m-6.1-17.7h0m-2.9-15h0m7.6 12.6h0m-2.1 24h0m2.1-37.8h0m-.8 38.7h0m2.2-19.1h0m-6.6 7.6h0m-.6 2.6h0m6.8 15.2h0m-1-34.2h0m-9.2 39.2h0m14.8-24.3h0m-7.1-24.7h0m.4 2.2h0m.8 15.5h0m1.1 16.1h0m1.1 13.5h0m-6.5-7.2h0m16.2-15.7h0m-8.6 15.8h0m3.8-20.1h0m-7.9 .4h0m-6.5 13h0m6.4-17.9h0m1.1 5.3h0m-1.1-7.3h0m-1.1-7.4h0m4.1-3.6h0m.1 1.6h0m-3.9 15.6h0m1.6 28.3h0m1.5-54.5h0m-7.4 26.4h0m4.3 8.6h0m-2-12.3h0m2.6 34.4h0m-.4-20.7h0m-.5-24.4h0m-4.6 4.5h0m13.2 11.8h0m-5.1 7.7h0m-.8 21.9h0m-2.8-32.9h0m11.9 28.8h0m-18.5-31.4h0m7.9 25.7h0m5.2-12h0m-10.2-1.3h0m5.1-36.4h0m1.3 14.4h0m-2.5-2.1h0m-.1-3.5h0m3.9 18.4h0m-3.1 32.1h0m8.5-39.6h0m-5.4 22h0m3.4 4.4h0m-3.1 7.2h0m-6.1-4.3h0m3-24.7h0m.5 12.6h0m0 3.9h0m-6.6-13.2h0m8.8 22.6h0m-.3-30.7h0m-1.7 22.8h0m-5.1-40.1h0m11.2 22.2h0m-7.8-4.6h0m-.6-4.5h0m-6.3 26.1h0m5.9-5.5h0m6.3 16.7h0m-6.6 2.5h0m6.5-25.5h0m-8.6 .8h0m-.5-7.5h0m-1.6 22.3h0m.3 8h0m.7-17.2h0m10-6.5h0m1.1 25.9h0m-4.8-21.8h0m2.1 5.8h0m1.9-11.4h0m.2 13.1h0m-1.9 2.7h0m-4.4-21.7h0m.5-10.1h0m4.5 20.1h0m9.6-19.5h0m-7.9 20.4h0m-15.1 20.9h0m16-23.4h0m-7.8-11.8h0m-5.6 20.6h0m4.9-.6h0m5.4-17h0m-3 23.5h0m1.2-23h0m-1.9 29h0m3-5.5h0m-6.6-5.7h0m3.5-25.3h0m-3.9 22.2h0m7.1-21h0m-4.5 37.8h0m-.6-31.2h0m6.9 11.4h0m-4.4-24.5h0m-1 18.4h0m-.2-14.7h0m2.9 2.4h0m-7 20.3h0m3.7-31.6h0m3.9 42.5h0m-15.2-12.9h0m10.3-7.7h0m-1.9 2.8h0m2.2-1.7h0m2.4 4.3h0m1 1.3h0m-.8-5.1h0m3.4 25.8h0m2-12.9h0m-9.3-1.6h0m1.1-35.6h0m4.4 30.4h0m-3.9 20.6h0m5.4-34h0m-5 35.8h0m7.5-15.1h0m-5.8-.3h0m.7 5.8h0m-5.5-20h0m4.6 6.6h0m-4.4 21.6h0m5 6.2h0m-4.1-4.6h0m8.8-15.2h0m-10.8-4.2h0m8.1-8h0m-8-19.3h0m2 29.5h0m-.9 8.1h0m1.6-45.4h0m-.3 60h0m4.4-27h0m3.4-17h0m-2.6 20.3h0m-8.8-33.5h0m9.9 26.2h0m-3.9 30.9h0m2.9-31.6h0m-2.8 16.1h0m4.2-17.3h0m-7.5-8.2h0m4.2 26.2h0m-.5-16.7h0m-.9 13.7h0m3.1 4.8h0m3.4 12.9h0m-5.9-11.2h0m-1.5-13.3h0m7.8 7.9h0m-8.7-34.6h0m-.7 17.5h0m1.9-15.8h0m5 46.2h0m-2.8-22.7h0m2.7-30.5h0m-7.2 37.6h0m3.6-4h0m-3.2-13h0m.2-2.8h0m5.2 20.4h0m-2.2-2.5h0m8.9-13.1h0m-3.3-26.2h0m-4.5 39.9h0m-1.2-15.5h0m-4.7-12.2h0m-1 19.3h0m11 17.2h0m-3.6-10.2h0m.9-2.9h0m1.7 11.4h0m-9.9 2.1h0m1.6-17.9h0m14.2 27.5h0m-14.5-15.3h0m5.3-11.8h0m4.3 5.6h0m-15 13.6h0m8.6 7.4h0m7.7-34.6h0m-11.2 5.3h0m5.7-19.1h0m5.8 40.2h0m-7.9-19.4h0m2.8 29.3h0m-1.8-21.9h0m-.9 1h0m1.3-17.5h0m1.7 .5h0m-2.2 13.2h0m.1-5.1h0m-.3-7.1h0m.4 22.6h0m-.2-14.6h0m2.6 5.6h0m-8.1 5.1h0m-4-27.2h0m14.9 33.6h0m-3.8 9h0m-.7-2.8h0m-6.1-22.8h0m3.8-11.9h0m9 30.6h0m-5.1-25h0m-4.6 13.4h0m.1-35.9h0m1.7 5.1h0m.6 23.3h0m2.6-.5h0m1.6-13.7h0m-3.3-13.3h0m-3.4 37h0m5.7-35.6h0m.6 16.5h0m-3.1 25.9h0m3.9-13.8h0m-7.6 6.8h0m5.9-3.8h0m-1.5 .6h0m-1.2-6.2h0m-5.2-14.2h0m3.2 37h0m-3.5-16.2h0m2.7-1.2h0m7-20.1h0m-12.1 37.7h0m11.9-15.8h0m-.8-26.5h0m-6.7 12.5h0m2.2 3.1h0m10.7-18.6h0m-11.9 16.7h0m2.7 23.5h0m-.8 8.5h0m1.5-17.5h0m-1.2-3.3h0m7.4-4.9h0m-8.8-10.3h0m4.5 6h0m1.4 13.3h0m-2.7-31.1h0m-2.2 20.8h0m-6.6 6.1h0m8.4 2h0m-1-30.4h0m-.5 36.1h0m-2.8-25.1h0m8.8 7.4h0m-7.9 21.6h0m2.3 3.3h0m2.2-30.1h0m-7.9-4h0m-1.1 39.4h0m1.2-13.5h0m5.3-10.1h0m-7.9-7.3h0m8.5 5.9h0m-.1-14.1h0m-2.6 33.7h0m-1.7-13.1h0m7.1 2.2h0m3.1 .9h0m-1.4-25.3h0m-6.6 8h0m3.3 29.1h0m-6.6 4.1h0m3.6-18.7h0m-5.4-9.6h0m8.3 21.4h0m-6.1-34.1h0m10.8 2.1h0m-6.8 13.7h0m1.4 10.5h0m2.9-4.6h0m.5 1.8h0m-3.2-27h0m.2 14.8h0m-3 5.6h0m6.3-5.4h0m-8.6-3.6h0m8.7 20.3h0m-3.3-15.2h0m-1.3-10.1h0m3.9 34.4h0m-4.2-16.9h0m2.3-31.4h0m2.9 36.9h0m-8.5 8.8h0m7.8 4.4h0m-.8 2.8h0m3.2-16h0m-3.3-19.7h0m-5.6 30.8h0m4.8-39.3h0m.7 22.5h0m-5.4 9.1h0m7.4-5.3h0m-5.5-12.2h0m4.3-13.5h0m.4 33.2h0m-5-23.2h0m-1.6-8.5h0m5.6 21.2h0m.8-.8h0m-7.9 1.6h0m9.2 21.8h0m2.3-37.9h0m-6.4 20.7h0m2.2-36.3h0m-6.4 23.9h0m1.1-18.1h0m9.6 37.2h0m-6-49.9h0m-7.8 28.5h0m.6 3.7h0m12.5-6.4h0m-3.2 18.4h0m-1.7 1.5h0m-5.9 6.6h0m7.9-23.4h0m-5.1-6.4h0m7.7 34h0m-9.1-31.8h0m4.2 20.9h0m1.3-22.1h0m-2 21.6h0m3.6 4.6h0m-2.7-26.9h0m-3.5 13.9h0m3.2 3.3h0m-2.8-5.6h0m-4.4 15.6h0m6.3-.1h0m-9.3-9.6h0m11.8-20.1h0m-4.1 4.6h0m4.2 14.4h0m-1.8-8.8h0m-3.5 12.8h0m10.3-20.9h0m-2.8-1.8h0m.9 16.2h0m-3.7-12.5h0m-2.9 17.1h0m-2.1-.3h0m1.4-6.9h0m1.2 14.8h0m-1.1-37.9h0m-2.1 22.8h0m5.2 25.2h0m-4.6-8.6h0m6.9-21.9h0m-2.5-18.3h0m-3.4 26.9h0m-2.2 0h0m-.6 2.4h0m10.3-26.5h0m-13.8 10.1h0m5.2 29.6h0m4.5-.8h0m-5.4-5.8h0m10-7.7h0m-5.4 6h0m-2.1-43.8h0m4.5 12.1h0m-1.6 9.8h0m6-4.7h0m-6.9-3h0m1.9 5.3h0m1 33h0m-2.6-52.5h0m6.7-2.8h0m-9.3 39h0m3.7 10.7h0m4.5-33h0m-13.3 16.8h0m12.9 29.1h0m-3.8-2.5h0m1.5-38.2h0m0 34h0m-10.1-44.6h0m6.7 13.7h0m-1.2 20.9h0m.5-9.2h0m2.7 2.7h0m-2.5 7.3h0m-1.6-4.2h0m-.2 9.5h0m-1-9.3h0m3.7-11h0m-3.2 6.5h0m2.7-21.1h0m2 23.5h0m-3.4 19.5h0m.6-57.9h0m-4.5 2.7h0m7.4 51.4h0m-4.8-29.9h0m-4.5 9.9h0m5.6 10.2h0m-1.3 9.3h0m-1.2 .3h0m2.2-5.1h0m1.1-27.9h0m2.2 23.3h0m-3.1-44.2h0m-3.8 46.9h0m5.9-32.3h0m5.7 15.9h0m-4.2 11h0m-6-5.8h0m8.1 4.7h0m-4.3 19.9h0m-2.9-37.3h0m3.5-12.3h0m-9.9 49.4h0m15-63.4h0m-4.2 10.2h0m1.8 6.3h0m-2.5 36.6h0m-.5 .8h0m7.1-4.7h0m-9.9 9.7h0m1.7-34.2h0m1.2 10.3h0m2.4-6.7h0m-1.2 11.6h0m1-.6h0m3.9-21.6h0m-4.5 27.8h0m2.5 4.7h0m-3.4 2.3h0m-7.5-16.5h0m5.3 7.1h0m10.9-9.4h0m-9.4-27.8h0m3.6 55.2h0m-8.9 .5h0m7.6-39.5h0m4.4 11.9h0m-6.1 9.5h0m-1.9 3.8h0m-1.6-5.7h0m.8-2.8h0m-3.7 5.3h0m7.5-31.5h0m-5.7 31h0m-.4-8.2h0m3.2 11.7h0m4.8-14.4h0m-4.9 21.5h0m9.4-31h0m-7.1 11h0m3.6 6.9h0m-4.7-18.9h0m5.2 3.3h0m.4 23.8h0m-9.4-15.1h0m5.8 24.1h0m3.8-22.4h0m-13 8h0m6.9 2h0m2-10h0m-7.4 8.2h0m4.4-2.3h0m-2.6-22.3h0m1.2 5h0m2.9 2.7h0m-5.4 32.1h0m-2.2-47.3h0m12.7 47.6h0m-11.9-47.6h0m10.9 30h0m-3.6 15.9h0m.6-5.9h0m6.3-22.3h0m-12.1 10h0m-1.7-8.4h0m10.6 8.7h0m.1-23.1h0m-7.9 2h0m-1.8 14.8h0m4.1-16.5h0m3.5 19.3h0m5.1-18.4h0m-4 40.7h0m3.4-30.8h0m.3 5.5h0m-10.8 25.5h0m11.1-27.5h0m-8.1 26.2h0m1.4-14.3h0m-1.6-17.6h0m-.9 2h0m-2.2 20.3h0m4.3 4.7h0m3.1 .7h0m-1 8.7h0m-3.2-9.7h0m-2.9-2.5h0m6.6-14.7h0m-1.2 3.5h0m3.7-18.1h0m-3.9 8.6h0m2.1 10h0m-7.7-6.5h0m2.8-27.3h0m3.3 12.7h0m-.9-1.8h0m0 45.6h0m.8-16.4h0m4.6 4.5h0m-11.6 .7h0m5.8-19.6h0m-1.9-6.2h0m-1.7 5.2h0m1.2 22h0m-1.3-32.2h0m11.4 20.4h0m-2.6 4h0m-14.6 4.2h0m5.3-2h0m-1-31.4h0m9 13.3h0m-11.5 23.2h0m4.8-14h0m5.1-1.6h0m-4.3-6.9h0m3.2 3.7h0m-4.5-15.8h0m3.2-1.3h0m2.5 12.6h0m-2.9 29.8h0m.8-25.4h0m-5.9 7.9h0m5.8 18.4h0m-6.4-5.2h0m14 1.6h0m-14.4-4.7h0m5.6-10.5h0m-.7 3.3h0m-.9 5h0m-.9-4.8h0m6.8-2.4h0m-1.4-10.7h0m-4.1-7.2h0m6.5 11.8h0m-.1-9.6h0m-5.6-12.7h0m3.5 43.1h0m-7.8-34.9h0m-.1 34.3h0m2.9-5.4h0m11.5-10.8h0m-8.1-24.8h0m-1.7 26h0m-6.5 23.3h0m7.4-18.5h0m6.5-19.5h0m-6.9-9.4h0m-8.9 24.5h0m4.9-27.4h0m7.8 40.3h0m-2.9-3.5h0m3.8-20.2h0m4.3 33.9h0m-5.8-11.6h0m-3-31.7h0m3.4-3.8h0m-4.6 .8h0m-1 6.8h0m-.4 23.2h0m-1.8-4.3h0m12.8 14.5h0m-3.9-22.3h0m-3.3-5.1h0m.8-4.5h0m1.1-8.8h0m5.6 5.8h0m-4.4 35.5h0m-2.1-26.9h0m-9.3 17h0m6 1.6h0m6.1 12.7h0m-7.8-35.4h0m5.2 15.3h0m-3.2-11.1h0m2.2 18.8h0m-.7 10.1h0m-8.2-37.6h0m5.8 31.2h0m.2-21.3h0m-.4-22.6h0m9.1 12.5h0m-8.4 24.7h0m3.9-5.3h0m-4-16.9h0m11.1 7.4h0m-18.2 7.8h0m18.7 13.4h0m3.6-32.4h0m-10.1 16.5h0m-5.2-9.2h0m-3.3-12.4h0m5.9 1.5h0m-4.2 27.4h0m2.3-5.3h0m.6-10h0m-4.4 10.1h0m.7-25h0m9.1 26.3h0m-5.1 15.3h0m0 2.9h0m-1.7-13.2h0m9-7.4h0m-7.9-22.2h0m4 11.3h0m-10.9 22.4h0m6.7-16h0m1.2 12.7h0m-3.9-27.9h0m4.9 7.9h0m4.1-6.5h0m-15.1 25.3h0m9.4-17.3h0m.4-23.8h0m4.4 59.3h0m-9.2-31.7h0m3.8 23.8h0m2.8-13.5h0m.7-24.1h0m-5.9-9.2h0m5.6 16.8h0m-1.5 26.5h0m.4-3.8h0m-9.9-11.6h0m7 .5h0m1.9-1.8h0m-5.1-1.8h0m-3.8-23.8h0m11.7 51h0m-4.9-48.2h0m7.8 33.7h0m-5.9-19.6h0m-8 33h0m7.1-35.5h0m9 .2h0m-8 29.8h0m2.8-34.3h0m-5.8 29.9h0m-4-20.1h0m9.7 6.7h0m-1.2 20.3h0m-4.8-3.3h0m7.5-24.4h0m-8.4 17.3h0m6.8 .9h0m-3 3.9h0m1.2-23h0m-.3-2.9h0m-.4-10.6h0m3 17.6h0m.4 7.5h0m-2.5-17.6h0m-1.3 14h0m1.7-9.7h0m-11.3 12.6h0m10.4-5.7h0m-3.8 26.5h0m7.2-37.1h0m-4.4 3.6h0m2.7 20.3h0m-7.7-8.7h0m2.8 18.7h0m10.1-28.7h0m-12.7 26.2h0m3.4-25.4h0m-7-5h0m11.2 29h0m-4.9-10.5h0m4.3-.6h0m-4-23.4h0m4.3 9h0m-8.3 15.3h0m12.7-16.4h0m-6.7-6.6h0m4.5 6.4h0m-6.9 10.5h0m.8-20.7h0m3.8 37.4h0m3.6-40.2h0m-10.8 20.1h0m1.8 7h0m-.1-13.2h0m.6 9.1h0m4.2-30.2h0m2.8 22.1h0m-2.4 19.7h0m2.8-6.6h0m-9.5-9.5h0m-7.1 12.5h0m12.1-13.3h0m4.3-.8h0m-4.7 20.7h0m4.1-20.5h0m-6.3-5.1h0m4.2 26.5h0m.3-48.9h0m-3.4 58.3h0m-1.4-35.7h0m4.3-11h0m.2 36.7h0m-5.6-36.3h0m-3.5-3.7h0m.1 1.6h0m8.3 21.6h0m-1.9 15h0m.1-24.1h0m-1.2 23h0m-.1-9.6h0m1.5-10.7h0m4.1-11h0m-2.4-8.3h0m4.3 3.8h0m-9.5 41.3h0m-1.3-24.4h0m6.3 7.2h0m-4.1 24.1h0m6-17.9h0m-1.9 5h0m-1.7-13.7h0m4.9 6.4h0m-6.9-30h0m-2 4.1h0m8.5 8.3h0m-4.2-7.1h0m1.5 .9h0m.6 44.5h0m-3-7.4h0m-7.6-52.5h0m10.6 34.6h0m-3.8 25.3h0m2.5-22.1h0m-1.4 18.3h0m4.7-40h0m-2.8 27.9h0m-1.6-31.1h0m-8.2-8.3h0m6.4 27.4h0m7.7 14.9h0m1.4-11.1h0m-4.2-10.3h0m-2.6-12.5h0m-1.4 17.5h0m-6.8 16.8h0m4.4-8.8h0m4.9 .1h0m-3.1-9.1h0m3.8-14.4h0m-.5 8.9h0m3.8-14h0m-.9 7.5h0m-2.5 10.6h0m.6 5.6h0m2.4 2.8h0m-2.4 12.3h0m-2.5 11.6h0m1.7-51.3h0m4.9 23.5h0m-6.7-5.3h0m-8 13.4h0m3.7 5.1h0m10.9 16.6h0m-13.3-26.2h0m7.2 3.6h0m-1.9 9.9h0m.6-35.3h0m7.9 4.9h0m-10 4h0m-2.4 12.2h0m4.5-7.3h0m-.4-.8h0m2.8 31.9h0m-3.6-47.6h0m-.9 38.5h0m2.6-12.3h0m-.6 8.3h0m-2.8-12.4h0m-.3 9.2h0m7-10.7h0m-2.8 2.5h0m-3.4 .6h0m.1-16h0m.3 37.9h0m.8-28.4h0m9.9 20.4h0m-5.9-30h0m-3.4 19.3h0m-4 7.1h0m6.1 6h0m5.6-33.7h0m-1.7 34.1h0m-5.9-42.5h0m3.7 17.2h0m-10.4 34.6h0m7.3-24.6h0m.3 18h0m-.6-41.8h0m-2.4 4.3h0m1.2 19.9h0m-4.2 4.3h0m.9 8.1h0m14.4-17.5h0m-11.2 28.3h0m7.1-1.8h0m0-21.9h0m-7.7 5.8h0m2.2-27.7h0m-5 40h0m7.7-48.1h0m.8 21.6h0m6.2-11.2h0m-9.7 14.1h0m4.8 9.4h0m-3.9 20.2h0m-.5-30.6h0m5.5 11.8h0m2-3.1h0m-5.2-18.3h0m-5.8 21.9h0m3-19.2h0m-.4 18.8h0m-2-32.5h0m6.4 36.3h0m-4.9-35.3h0m-.8-5h0m-.1 24.4h0m-5.2-15.9h0m6.5 21.5h0m6.6 8.8h0m-2.8-44h0m-.6 6.4h0m-4.9 34.9h0m7.4 0h0m-5.2-8.7h0m4 10.6h0m-3.2-37.3h0m1.8 17.5h0m-.7 31.7h0m-5.4 4.7h0m.1-31.3h0m4.4 8.6h0m-5.4-4.7h0m3.2 2.2h0m.7 12.5h0m2 10.3h0m-1.6-55.6h0m4.7 7.9h0m-4.1 52.7h0m-5.8-18.2h0m-.3-12.9h0m7.5 6.4h0m5 10.2h0m-7.8 3h0m4-12.9h0m2.9-21.2h0m-6.3 35.8h0m16.5-28.3h0m-11.7 27.2h0m-1-11.6h0m0-20.7h0m-1.1-11.5h0m-8.2 38.7h0m4.3 9h0m-.6-13.5h0m3.4 7.2h0m1.9-17.2h0m-3.2 7.3h0m-.6-28.3h0m-.7 36.6h0m1.4-4.7h0m-3.1-25.5h0m2.5 5.4h0m5.8 8.9h0m-13-15.2h0m6.5 32.7h0m12.3-14.9h0m-9.9 19.7h0m-3 .3h0m.6-30.9h0m6.7 2h0m-.4 8.3h0m-.5-2.9h0m-5.1 3.8h0m1.9 1.7h0m-6.3-10.4h0m-3.7-22.8h0m2.6 58.7h0m-.8-31h0m9 26.3h0m4.1-14.4h0m-11-16.6h0m-1.8-8.6h0m8.1 21.7h0m.4 19.5h0m-9.1-24.7h0m4.8 19.9h0m4-25.6h0m3.7 10.3h0m-4-14.2h0m-.5 17.6h0m-1.2 7.5h0m-1.9 9.7h0m2.8-49h0m-2 48.5h0m.7-33.5h0m.7 14.7h0m-6.3 2.7h0m12.7-21.7h0m.4 24.3h0m.8-30.1h0m-15.3 22.6h0m7.2 13.1h0m.4-32.7h0m3.3-17.2h0m-3.5 32h0m-2.8-8.3h0m8.3 11.1h0m-8.7-9.6h0m4.5 27.9h0m8.4-17.6h0m-7.8-22h0m-2.1-10.4h0m5.9 43.8h0m-1.2-34.5h0m-3.9 38.1h0m2.2-30.9h0m4.7-18.2h0m-8.1 52.9h0m3.9-7h0m-10.6-35.3h0m1.9 18.5h0m8.2 2.2h0m-5.6-4.9h0m3 30.2h0m4.8-17.7h0m-7.7-28.5h0m2.7 4.8h0m-4 8.7h0m5 3.1h0m2.3 7.3h0m-8.4-31.9h0m4.3 46.8h0m3.1 7.9h0m1-48.7h0m-1.2 7.4h0m7.7 41.5h0m-5.9-24h0m.4 6.8h0m-1.3-.2h0m1.5-19.3h0m-3.1 34.4h0m-1.8-24.7h0m6.3 6.8h0m-8.1-19.8h0m4.2 35.5h0m1-12.7h0m-2.4 1.4h0m-2.1-26.2h0m4.2 21.5h0m-3.3-9.1h0m-.2 32.1h0m.6-21.1h0m-5-20h0m2.9 5.9h0m-1.3 25.6h0m7.4-23.3h0m-.7 5.6h0m-8.8 17.4h0m2.8-22.9h0m3.5 32.4h0m7.4-15.7h0m-6.6-15.7h0m-1.4 14.1h0m4.4 15.5h0m-3.1-4.6h0m-1.7-24.8h0m-5.2-.4h0m10 13.4h0m-5.4-6.9h0m3 .9h0m6.4 5.3h0m-5.9-21.7h0m-1.1 28.4h0m-4.5-17h0m7-6.6h0m-.7 19.5h0m-1.2 9.8h0m2.7-10.3h0m-3.5-29.4h0m-8.1-10.9h0m1.7 17.2h0m10.3 24.2h0m-4.6-14.8h0m-.5 1.3h0m2.5 6.7h0m-4.6-10.8h0m6.4-1.1h0m2.6 1.8h0m-.3 3.3h0m-8.4-17.3h0m4.8 30.3h0m6.3-11.5h0m-7.1 4.1h0m5.5-11.6h0m-5 25.9h0m-.2-45.3h0m.1 21.3h0m-4.6 25h0m6.6-12.7h0m-4.9-.9h0m-1.4-22.2h0m6.7-3.8h0m-8.9 24.9h0m-.3-2h0m-.7 21.3h0m6.8-34.2h0m-4.3 6h0m2.5-2.3h0m1.8-.7h0m-3.9 5.8h0m-3.6 4.6h0m-.4 25.6h0m8.4-27.6h0m-.3 9h0m-5.6 15.3h0m5.1-24h0m-3-7.7h0m-.4 32.1h0m1.7-31.8h0m1.8 4.8h0m.8 .1h0m.4 6.1h0m-5.3 22.2h0m4-12.7h0m-8.4-17.3h0m12-8.8h0m3.4 15.5h0m-4.6 3.2h0m-2.3-28.2h0m-2.6 26.3h0m-3.9 1.9h0m10.9 11.6h0m-4.5-39.4h0m-4.5 4.7h0m11.2 33.8h0m-7.2-34.8h0m-1.2 5.6h0m.9 19.4h0m8.6-17.8h0m-9.1 9.4h0m.7 22.7h0m3.8-23.5h0m-.8-14.8h0m-.4 36.9h0m-2.7-21.6h0m-.4-27.5h0m3.9 35.8h0m-5-2.6h0m1.4-17.5h0m5 17.3h0m-6.8-2.2h0m.1-2.1h0m-6.9-2.2h0m4-24.3h0m4.5 36.7h0m4.9-5.6h0m-.1-21.2h0m-7.4 25.4h0m2-26.9h0m.1 27.2h0m-.4-45.2h0m11.2 36.5h0m-9.5 26h0m.8-43.9h0m-.5-1.3h0m-2.4 27.2h0m.3-2.1h0m7.3-14.6h0m-7.2 20.5h0m1.9-23.9h0m2.6 23.7h0m-1.5 16.1h0m6.2-46.1h0m-4.8 40.5h0m-9.1 3.1h0m3.8-30.4h0m-2.6 27.8h0m10.7-26.9h0m-7.6 17.3h0m.7-3.5h0m-.2 1h0m1.9-23.9h0m1.2-8.5h0m1.6 17.7h0m-6.3-2.3h0m7.5 15h0m-4.4-43.8h0m-6.1 47.8h0m8.2-26.7h0m-5.1 .9h0m-6.6-.6h0m4.3-4.1h0m12.6-3.1h0m-8.5 36.2h0m2.2 .6h0m-8.4-27.9h0m6.9-2.6h0m-2.9 9.8h0m-1.3 23.7h0m2.3-1.5h0m-2.5-13.9h0m1.3-2.1h0m3.1-30.8h0m3.3 30h0m-7.3 6h0m-5.8-15.9h0m14.9-9h0m-2.8 25.2h0m-9.1 3.3h0m11.5-24.2h0m-3.7 36.5h0m-2.5-26.5h0m-2.1-4.1h0m4.2-24.6h0m-1.4 26.2h0m3.1-4.5h0m1.9-14.2h0m-4.9 31.4h0m6.5 5.5h0m-9.7-18.5h0m1.2 34.9h0m.2-19.9h0m1.4 4.6h0m7.3-23.2h0m-14.2 17.9h0m4.4-10.2h0m1.3-17.5h0m2.4 13.2h0m-7.5-5.7h0m10.9 4.6h0m-1-14.8h0m-4.3 32.5h0m-1.2-2.6h0m-1-12.7h0m9.4 15.4h0m-.6-20.4h0m2-6h0m-3.7 7.6h0m-2.6-26.1h0m-.6 46.7h0m5.4 4.4h0m-12-7.3h0m10.3-10.9h0m-1.3-10.9h0m-1.9 6h0m-3.2 22.2h0m-.2-7.4h0m1.9-5.1h0m-5-27.3h0m5.8 31.4h0m0-10.7h0m-4.6 16.4h0m3.7-.3h0m.6-19.7h0m2.8 26.8h0m-4.9-1.7h0m-1.9-21.1h0m3-4.9h0m4.5 1.6h0m.1 16.1h0m1.3-5.4h0m-.4-.3h0m-1 7.1h0m-7.9-10.3h0m12.8-24.8h0m-6 33h0m-3.6-10h0m1.6 1.9h0m-4.9-19.3h0m3.7 7.7h0m4.7 4h0m-1.7-12.5h0m2 47.6h0m-15.4-46.9h0m13.8 35.7h0m3.1-25.7h0m-4.7 3.2h0m.9-11.4h0m-3.3 11h0m2.9 27.1h0m1.9-46.3h0m-6.1 42h0m3.5-22.2h0m.3 2.6h0m-2.5 16.2h0m9.9-21.4h0m-12.2 6.3h0m5 24h0m.9-35.8h0m1.1 39.9h0m-2.8-16.8h0m5 2h0m-.7 5.6h0m-1.1-11.5h0m-3.8 17.9h0m7.6-45.2h0m-8.7 33.8h0m.8-6.3h0m.3-34.9h0m1.5 5.1h0m3.7 23.6h0m-3-.2h0m-3-3.2h0m5.5-19.8h0m-6.3 28.3h0m.6 .7h0m2.7-16.8h0m-2.1 34.9h0m-1.4-47.5h0m1.5 47h0m.6-8.1h0m-1.2-41.7h0m.3 38.6h0m2.6-12.6h0m7.6 10.9h0m-9.6-8.8h0m-5.9-31.3h0m6-6.2h0m2.3-1.7h0m-4.3 16.7h0m.2-12.1h0m4.1 6.8h0m-5.3-4.2h0m.7 4.1h0m-5-3.1h0m2.9-6.3h0m6.2 8h0m3.5 15h0m-.4-11.5h0m-8.1-2.4h0m-.6 14.7h0m1.4-16.6h0m-.2 11.3h0m.3-4.1h0m1.1-12.2h0m-3.9 8.7h0m.7-6.3h0m5 10.7h0m-.3-4.4h0m-.3-4.2h0m-6-.4h0m5-.9h0m3.1 4.5h0m-5-10.3h0m-1.4 12.6h0m1.7-1h0m4.4-8.6h0m-.6-1.5h0m-5.8 6.3h0m.4-2.9h0m3.3 0h0m2.7-6.4h0m1.8 16.2h0m-13-10h0m7.2 1.6h0m-.7 5.7h0m2-2.5h0m4.7-9.2h0m-4.8 3h0m-2.4 13.4h0m7.4-7h0m-2.1-1.6h0m-2.4 3.6h0m-1.3 2.7h0m3.5-5.8h0m-1.3 2.9h0m-2.3-8.6h0m4.1 14.2h0m-5.1-4.8h0m2.7-6h0m-.3 12.3h0m-1.2-.6h0m-2.3-.5h0m-.7-6h0m5.5 2.4h0m-5-9.3h0m-2.2 3.2h0m1.8-3h0m8.1 9.6h0m-6-6.9h0m-.4 4h0m4.2-3.3h0m-2.8 3.3h0m4.7-5.2h0m-4.4 .1h0m-2.6-2.3h0m1.2 6.7h0m1.7 2.5h0m-8.6-10.9h0m6.7 13.8h0m2.2 2.7h0m.7-13.5h0m-1.5 3.1h0m1.7-4.1h0m-2.8 12.4h0m.1 4.1h0m-4.2-8.9h0m11.2-14h0m-1.5 20.3h0m-4.5-18.4h0m.5 12.7h0m-3.3-.5h0m-.9-2.7h0m4.8-1.5h0m-2.3-2.4h0m1.1 2h0m1.3 8h0m-5.7-2.7h0m7-5.1h0m-4.3-2.7h0m5.7-1.1h0m-6.5 3.6h0m6.5 6h0m-.4-.7h0m-3.8-1.4h0m-1.5-3.9h0m2.8-1.1h0m-.7 3h0m-.2 4.3h0m-3.3-11.6h0m-3.5 1.7h0m2.9 7.2h0m-.3-8.4h0m3.5 12.7h0m.8 .7h0m1.5-8.7h0m-1 6.3h0m-2.7-9.7h0m.6-.9h0m6.3 7.2h0m-2 8.1h0m-1.7-2.6h0m5.1 10.5h0m-3.8-.4h0m1.1-13.6h0m-2.5-1.1h0m1.5-7.2h0m.1 6.7h0m-8.6-1.5h0m9.9 3.6h0m-7.8-10.1h0m2.9 5.7h0m5.8-8.9h0m-6.4 16.8h0m1.8-17.1h0m3.3 22.6h0m-6.1-4.5h0m-2.3-5.4h0m7.6 9.9h0m-2.1-8.9h0m1.2-4.8h0m.2 13.9h0m-3.5-22.7h0m-1.8 3.1h0m2.8 9.7h0m-.2-8.4h0m1.9 1.4h0m-.2 3.4h0m1.2-.2h0m-2.4 .9h0m.3-2.6h0m7.6-7.9h0m-7.8 7.2h0m-1.9 1.4h0m.4 5.3h0m-3.2-4.8h0m.4-3h0m.7 16.4h0m3.7-17.7h0m-5 15.5h0m4.5-18.3h0m-4.1 11.7h0m.5-12.9h0m4.2 15h0m-.3 0h0m2-4.9h0m-1.3-.4h0m-3.1-4.5h0m1.9 8.2h0m2.3-7.6h0m-1.5 8h0m2.3-8.1h0m-4.1 20h0m-1.7-24.3h0m-1.3 3.8h0m6.7-2h0m3.1 12h0m-6.5-.1h0m-.3 2h0m-2.5-8.4h0m7.9 8.9h0m-5.1-9.8h0m1.9 2.8h0m-.1 4.9h0m-5.3-2.3h0m-1.3-4.1h0m11.4 11.7h0m-1.4-6.4h0m0 7.8h0m-5.4-21.3h0m.8 2.1h0m-2.3 10h0m3.7-4.3h0m-1.5 .8h0m1.9 5.6h0m-2.8-13.5h0m-1.5 10.6h0m.8 2.4h0m1.8-6.2h0m.5 15.4h0m2-17h0m-1.6 .7h0m-4.7 3.1h0m4.1 8h0m-4.2-9h0m1.7-8.8h0m3.5 .3h0m-2.5 14.7h0m-.4-15h0m2.1 3.2h0m-1.4 7.6h0m4.8-1h0m-4.4 10.1h0m.5-5.9h0m4.1-11.1h0m-3 9h0m-1-.2h0m5.7-8.9h0m-4.1 12.1h0m3.4 .1h0m-2.8-6.8h0m.1-.7h0m5.9-.1h0m-6.3-.1h0m-2.4 5.1h0m1 2.8h0m-.3-8.1h0m3.7-2.3h0m-.1 8.3h0m-3.2-11.7h0m-.3 3.5h0m1.5 12.2h0m2.1-8.9h0m3 6.9h0m-6.4-16.8h0m-3.2 9h0m-.7 3.3h0m9.7-3.1h0m-10.1-2h0m4.5 2.6h0m-3.5-7h0m-6.6-.2h0m11.9 15.5h0m-.8-4.8h0m1.7-8.5h0m2.7-.3h0m-11.7 8.6h0m12.8 2.9h0m-3.5-6.5h0m-5.5 .7h0m3.2-1.7h0m-4.5-3.8h0m2.7 13.4h0m-3.6-8.9h0m7 3.1h0m-3.5-3.7h0m4.9-5h0m-4.8 4h0m.8 13.8h0m-3.8-19.2h0m9.4 6.5h0m-6.3 4h0m5.3 3.2h0m-.3-9.5h0m-2.4 10h0m-2.2 3.4h0m1.6 5.4h0m.2-20.2h0m1.4 7.9h0m1.3-3.2h0m-4-1.7h0m-3.4-4h0m1.1 8.7h0m1.2-4h0m3.5 4h0m1.1 3h0m-5.4-3h0m-.2-10.8h0m-4.5 5.1h0m1.1 14.8h0m7.3-8.4h0m6.4-4.1h0m-10.9 2.4h0m.7 10.5h0m-2.2-19.3h0m3.9 4.6h0m-4.8 6.3h0m12.5-.9h0m-8.4-5.8h0m5.1 8.2h0m-7.8-7.7h0m6.7-2.6h0m-9.9 12.4h0m7.4-15.3h0m5.9 10.1h0m-5.8 4h0m-3.2 2.6h0m1.9-15.9h0m-4.4 14.6h0m8.2-.9h0m-3-8.3h0m-.1 1.4h0m-2.5 6.8h0m5.7 1h0m-9.5-.1h0m7.5-17.5h0m-4 8.1h0m-2.2-.9h0m2.3 2.7h0m3.8-2.5h0m1.9-3.4h0m-1.9-1h0m-.9 14h0m-.4-1h0m.3-15.4h0m-1.6 18h0m-1.5-17.3h0m4 12.1h0m1.2 4.7h0m-8.8-3h0m7.6 10h0m-1.9-8.3h0m.8-6.3h0m5.7 10.2h0m1.1-6h0m-5.3-5.8h0m2.5-.5h0m-.8 3.1h0m-9.3 11.1h0m8.1 2.1h0m-8.6-14.6h0m-1.3 .2h0m7.3 1.8h0m.3 10.7h0m4.7-5h0m-4.3 6.4h0m-4.9-7.6h0m3.3-11.8h0m-2.6 6.9h0m6.2-2.9h0m-2.9 0h0m5-3.1h0m-2.7 16.7h0m4-12h0m-7.5 4.3h0m-.6-11.3h0m1.6 21.8h0m2.4 4.1h0m2.9-19.4h0m-3.2 .1h0m-5.8-4.5h0m5.1 1.5h0m-7.3 1h0m6.6 6.5h0m-1.9-4.5h0m3.7-1.5h0m2.9 11.3h0m-4.3-7h0m3.1 .4h0m-4.4 2.1h0m2.7-1h0m-.5 1.5h0m.3 4.2h0m-.7-3h0m-4.1-8.7h0m5.2 2.2h0m-1.4 8.9h0m-2.3-10.9h0m3 11h0m1.2-11.2h0m-2.5-4.9h0m-.2 8h0m3.2-7.2h0m-6.3 18.1h0m5.8-10.1h0m-2.5 13.4h0m-.2-19.8h0m1.7 18.2h0m4.9-11.2h0m-3.1 4.2h0m-1.9-14.1h0m-.4 8.9h0m-2.6-5h0m1.6-.6h0m5.8 3.5h0m-10.5 6.2h0m10-2.1h0m-1.2-.8h0m-1.5-1.8h0m-.1-5.6h0m1.5-2.8h0m-11.5 .1h0m7.5 12h0m1.8-2.7h0m-4.5-.5h0m4.3 1.1h0m5.6 1.3h0m-7-7h0m-1.1 8.1h0m-1.3-10.8h0m2.1 13.8h0m-1.8-2.6h0m.2-1.1h0m2-8.1h0m5 5.1h0m-4.1-10h0m4.4 19.7h0m-7.8-11.8h0m3.3-.9h0m.5 4.2h0m-4.6 2.9h0m-1.4-10.6h0m3.7-1.6h0m9.6 9.4h0m-8.3 2.1h0m-2.1 5.6h0m5.2-7.1h0m-1.7 2.9h0m-6-6.5h0m2.2 1h0m2 5.1h0m-5-.4h0m2.7 2.3h0m-3-15.4h0m8.9 5h0m-7.1 8.9h0m3.3-4.1h0m-3.8-10h0m1 3.9h0m6.6 .1h0m-2.9 3.2h0m2.8 6.6h0m-4.9-.1h0m-1.6-10.8h0m2.9 3.6h0m3.8 2.1h0m2.3-.3h0m-7 7.5h0m-8.1-.4h0m11.2 2.3h0m-7.4-5.4h0m5.8 12.6h0m3.3-16.7h0m-6.6 .2h0m-.2 5.3h0m3.9 .2h0m-4.3 2.7h0m5.1 .4h0m-2.8 4.7h0m4.4-1.1h0m-5.3-6.2h0m4.6-1.8h0m-6.8-8h0m8.8-.3h0m-1.3 5.8h0m-2.7 1h0m-1.8-.2h0m2.5 5.9h0m-5.7-5.7h0m2.4 .4h0m5.3-5.4h0m-4.4-3.3h0m5.3 10.2h0m-3.3-6.9h0m-4.4 5.3h0m4.2 1.6h0m-3.4-11.6h0m1.4 5.6h0m8.8 1.6h0m-7.3-4h0m-2.6 .2h0m1.3-.7h0m2.1 1.8h0m-3.8 5h0m-.1 10.5h0m10.4-10.4h0m-3.3-6.3h0m-2.3 13.3h0m2-20.3h0m-5.6 12.4h0m0 7.3h0m.5-1.3h0m-2-3.1h0m.1-5.8h0m3.5-2.2h0m.2 3.3h0m-.3 9h0m-2.1-19.2h0m5.3 11.5h0m.3 5.9h0m-1.7-7.7h0m1.6-7.6h0m-1.7 11.7h0m-1.9-4.8h0m1.6-1.9h0m1-4.2h0m4.4 11.2h0m-7.3-3h0m.5 1.4h0m-3.9-1.6h0m1.3-6.2h0m-1.7 5.1h0m2.6-5.5h0m1.2 11.6h0m3.9-.7h0m-4.6 .9h0m-5.4-6.8h0m7.6-2.3h0m2.8-2.7h0m-4.5 15.9h0m-3.8-2.9h0m2.6-12.3h0m1.1 6.4h0m6.7-5.9h0m-5 7.5h0m-.2 2.4h0m-2.9-5.4h0m6.2-9.1h0m-10.2 5.2h0m.3 .7h0m7.9 16.6h0m3.3-3.9h0m-3.3-4.9h0m-2.8-7.7h0m.5 .7h0m4-.9h0m-3.9 9.3h0m1.5-15.1h0m-1.3 15.8h0m.6-13.2h0m-6.7 14.7h0m.1-3h0m11.7-3.9h0m-4.3 .4h0m-1.8-2.4h0m5.8 16h0m-7-15.8h0m8.7 1.3h0m-3.5 1.5h0m-8.2-2.9h0m4.8 10h0m-3.1-12.7h0m.4 .7h0m5.6-5.8h0m.1 11.8h0m-2.4-4.3h0m3 2.9h0m-2.4 4.2h0m-5.9-8.6h0m1.8-1h0m-1.9 1.7h0m6.1 13.1h0m-1.5-18.3h0m-3 15h0m2.2-3h0m5.7 2.8h0m-2.6-4.9h0m-3.7-1.6h0m1.7-7.3h0m-1.8 6.9h0m.6-.1h0m-1.5-5.8h0m2 13.2h0m-3 1.8h0m3-17.1h0m-1.6 13.2h0m5.2-1.3h0m-3.3 3h0m-5.6-6.5h0m6.4 0h0m-4.4 8.8h0m-.2-13.8h0m-4.2 11h0m14.2-13.2h0m-10.4 11.4h0m6.9-4.9h0m-3.3 4h0m2.9-8.4h0m.3 4.8h0m-4.1 2.7h0m.4 6.4h0m-.9-6.1h0m1-4.1h0m1.4-2.8h0m6.3 11.6h0m-6.7 1.2h0m2 0h0m-5.4 2.5h0m2-2.1h0m-.8 33.9h0m1.3-4.4h0m-4.5-50.7h0m6.5 29.7h0m-1.6-8.9h0m-4 17.3h0m7.4-31.5h0m3.8 21.5h0m-1.6-3.5h0m-2.4-6.7h0m1.1 17.8h0m-3.7-18.5h0m-.3 1.5h0m20.6 26.7h0m-14.8-10.7h0m2.7 1.5h0m-.6 6.3h0m8.9-1.9h0m-26.8 18.5h0m11.6-19.5h0m-5.3-13.8h0m-6.9 10.7h0m16.8 11.2h0m-7.2-7.2h0m-.9-6.2h0m6.3 20.6h0m-7 5.5h0m-3.1-29.3h0m6.4 12.6h0m10.2 1.7h0m-7.3-12.2h0m-2.8 17.3h0m2.7-26.2h0m2.7 19h0m-9.4 6h0m12.4-7h0m-5.7-16.5h0m-1.3-2.8h0m.1 42.6h0m1.1-48.8h0m5 21.3h0m-13.2-28.6h0m-4.2 23.3h0m-3.1 21.9h0m3.6-35.5h0m14.9 3.2h0m.8 22.7h0m-19.3 0h0m1.2-5.4h0m9.5-14.5h0m5.8-.8h0m8-4.8h0m-3.6 25.4h0m-1.8 2.9h0m6.9-14.4h0m-9.7-18.2h0m-4.5 19h0m-3.4 5.7h0m10 9.9h0m-.3-13.9h0m-16.6-20.5h0m10.2 8.3h0m7.1 29.1h0m-6.8-6.9h0m-5.3-27.3h0m15.9 1.4h0m-10.3 19.3h0m-2.7-4.8h0m3.4-.9h0m6.2 12.3h0m-4.4-41.2h0m-8.2 54.3h0m7.8-29.3h0m2.7 24.3h0m-.6-23.8h0m-.7 22.7h0m-7.6-37.6h0m3.7 16.5h0m3.7 13.6h0m3 19.7h0m-10.3-4.1h0m9.4-34.5h0m-.3 9.4h0m-8.2 2.8h0m11.5 26.2h0m-11.4-58.7h0m8.4 28.5h0m-13.3-1.7h0m7.6 16.2h0m3.3 6.8h0m3.4-3.7h0m-8.7-2.1h0m4.6 2.6h0m-3.8-40.9h0m5.6 16.4h0m-10.3 18.4h0m6.8 .7h0m5.9-32h0m-13.2 5.3h0m13.6 27.3h0m1-25.5h0m-10.2 29.9h0m-12.1-13.9h0m11.4 7.4h0m-7-3.5h0m20.5 12.8h0m-7.2-10.1h0m7-12.1h0m-7.9-13.4h0m1.1 14h0m3.4-6.1h0m-14.6 24.6h0m4 2.7h0m12.1-25.1h0m-3.5 6.8h0m.2 12.4h0m-10.1-23.8h0m11.1 21.9h0m-6.1-5.8h0m1 9h0m2-40h0m3.2 33.7h0m-9.8-25.1h0m1.9 22.1h0m9-7.2h0m5.8 8.3h0m-.7-1.8h0m5.4 13.9h0m-17-18.7h0m-2.8 23.2h0m5-31.7h0m-10.7 15.1h0m7.1-2.1h0m3.1-5h0m5.9-2.9h0m-8.2 12.2h0m8-7.3h0m1.5 12.7h0m-7.3-16.5h0m4.6 32.7h0m-14.5-37.7h0m4.5 19h0m-6.6-24h0m11.8 33.9h0m1.9-20.7h0m-1.9 3.9h0m-2.4 4.9h0m1.9-1.6h0m-9.1 20.8h0m-1.6-21h0m14.6-14.7h0m-.4-14.4h0m-1.5 21.1h0m-1.3-16.4h0m-7.2 11h0m18.8-18h0m-19 25.5h0m16.2-9.1h0m-13.6 36.5h0m9.7-25.4h0m-13.3-9.7h0m7.6-11.3h0m-8.4 3.7h0m14.4 9.5h0m-7.5 16.5h0m-7.3-13.6h0m8 15.2h0m-4.6-43.9h0m10.9 32h0m-10.9-30.5h0m0 4.8h0m8.8 16.8h0m2.9 24.9h0m-3.1-18.4h0m-5.1-14.5h0m-3.9 22.1h0m13.6 1.1h0m-22.6-28.3h0m8 21.4h0m3.8 1.6h0m10.2 2.3h0m-9.6 9.1h0m-13.7-35.5h0m11.6 22.6h0m-6-12.5h0m-.9-18.9h0m-1.6 40.4h0m6.9 .9h0m7.3-2.6h0m6.1 3.8h0m-14-27.6h0m1.2 6h0m4.2 19.5h0m3.4-11.8h0m4.4-8.6h0m-5.6-24.5h0m-6.5 41.8h0m10.8-21.4h0m-18.3 6.6h0m18.9-18.4h0m2 8.3h0m-9.8 40.3h0m-4-14.8h0m.8-17h0m-3.8 17.8h0m8.6-13h0m-14 11.6h0m8-41.3h0m6.6 28h0m12.1 7.4h0m-9.2 8.3h0m1.2-20.5h0m-.7 21.1h0m-.3-14.4h0m-9.2 29.3h0m3.6-14.2h0m19.3-21.1h0m-25.7-.3h0m11.2-.3h0m-5.8-2.4h0m-.3 16.4h0m2.5-3.2h0m.8-21.3h0m5.5-1.7h0m-7.5 4h0m-1.4-15.8h0m12.5 10.2h0m-6.3 20.1h0m-11.3-29.1h0m-.8 28.2h0m6.2 23.4h0m4.5-17.7h0m3-5.4h0m-2.6-9.3h0m-1 33.3h0m-3.5-19.1h0m6.5-1.2h0m-15.2-5.4h0m9.9 7.3h0m1.2 5.4h0m-8 19.6h0m11.9-45.2h0m-2.1-1h0m-14.7 17.9h0m21.4 12.2h0m-17.7-8.2h0m2.3 10.3h0m9.3-16.1h0m-13.5-11.7h0m10.5 11.3h0m-4.7-12.6h0m4.4 28.2h0m-3.2-21.4h0m4.4 11.2h0m-9.5-6h0m4.9-3.5h0m11.3 7.7h0m-3.2 15.6h0m-6.2-14.8h0m-.9 3.9h0m-2.4-11.9h0m4.9 5h0m4 33.3h0m1.4-38.9h0m1.5-1.7h0m11.9 21.9h0m-18.8-32.6h0m2.4 17h0m-8.1 14.4h0m8.1-25.1h0m-9 29.6h0m14.3-44h0m-.4 41.8h0m-8.1-31.7h0m4.1 20.9h0m-3.1-6h0m-2.5 19.7h0m.1-27.1h0m3.5 .6h0m-3.6 5.3h0m4.7 28.3h0m6-30.6h0m-7.9-3.7h0m-3.6 8h0m4.1-5.1h0m-3-18.1h0m4.2 29.1h0m12.9 .8h0m-15.5 6.4h0m.9-13.6h0m-1.9 9.6h0m-5 18.4h0m10-15.1h0m.8-30.5h0m-7.9 29.2h0m1-15.2h0m4.6-7.1h0m-10.4 13.8h0m4.3-18.9h0m2.2 10.9h0m6.2-4.5h0m-3.5 27.7h0m-.9-6.7h0m1.1-4.9h0m-16.3-30.2h0m12.4 36.2h0m1.4-3.6h0m10.3-10h0m-8.5-17.6h0m.5 1.8h0m3.6 26.8h0m-12.6-5.5h0m14.1 1.6h0m7.7 12.8h0m-19.5-7.4h0m6.8-18.5h0m-7.6 26.8h0m11.1-2.3h0m-.3-30.5h0m-3.8 1.9h0m1.5 7.8h0m1.8-15h0m6.5 10.5h0m-12.8 18.9h0m3.3-24.5h0m13.5 4.6h0m-3.9-3h0" stroke="#000" stroke-width="1.0" stroke-linecap="square" fill="none"/>
<path d="M39.7,231.6H134.5" stroke="#d0d0d0" stroke-width="1"/>
<path d="M39.7,231.6V325.9H134.5V231.6" stroke="#333" stroke-width="1.1" fill="none"/>
<text x="128.8" y="241.0" font-size="8" fill="#262626" text-anchor="end" font-weight="normal" >13.3</text>
<text x="34.1" y="323.9" font-size="8" fill="#262626" text-anchor="end">0</text>
<text x="22.3" y="307.5" font-size="8" fill="#262626">10<tspan font-size="5" dy="-3.8">2</tspan></text>
<text x="22.3" y="286.5" font-size="8" fill="#262626">10<tspan font-size="5" dy="-3.8">3</tspan></text>
<text x="22.3" y="264.6" font-size="8" fill="#262626">10<tspan font-size="5" dy="-3.8">4</tspan></text>
<text x="22.3" y="243.6" font-size="8" fill="#262626">10<tspan font-size="5" dy="-3.8">5</tspan></text>
<text x="43.0" y="338.6" font-size="8" fill="#262626" text-anchor="start" font-weight="normal" >0</text>
<text x="55.1" y="338.6" font-size="8" fill="#262626">10<tspan font-size="5" dy="-3.8">2</tspan></text>
<text x="77.3" y="338.6" font-size="8" fill="#262626">10<tspan font-size="5" dy="-3.8">3</tspan></text>
<text x="98.5" y="338.6" font-size="8" fill="#262626">10<tspan font-size="5" dy="-3.8">4</tspan></text>
<text x="118.1" y="338.6" font-size="8" fill="#262626">10<tspan font-size="5" dy="-3.8">5</tspan></text>
<path d="M49.0,325.5v1.6M51.5,325.5v1.6M53.2,325.5v1.6M54.6,325.5v1.6M55.7,325.5v1.6M56.6,325.5v1.6M57.4,325.5v1.6M58.2,325.5v1.6M58.8,325.5v2.2M65.5,325.5v1.6M69.4,325.5v1.6M72.2,325.5v1.6M74.3,325.5v1.6M76.1,325.5v1.6M77.6,325.5v1.6M78.8,325.5v1.6M80.0,325.5v1.6M81.0,325.5v2.2M87.4,325.5v1.6M91.1,325.5v1.6M93.8,325.5v1.6M95.8,325.5v1.6M97.5,325.5v1.6M98.9,325.5v1.6M100.1,325.5v1.6M101.2,325.5v1.6M102.2,325.5v2.2M108.1,325.5v1.6M111.6,325.5v1.6M114.0,325.5v1.6M115.9,325.5v1.6M117.5,325.5v1.6M118.8,325.5v1.6M119.9,325.5v1.6M120.9,325.5v1.6M121.8,325.5v2.2" stroke="#000" stroke-width="0.7"/>
<path d="M39.7,316.2h-1.4M39.7,313.2h-1.4M39.7,311.1h-1.4M39.7,309.5h-1.4M39.7,308.2h-1.4M39.7,307.1h-1.4M39.7,306.1h-1.4M39.7,305.3h-1.4M39.7,304.5h-2.2M39.7,298.2h-1.4M39.7,294.5h-1.4M39.7,291.9h-1.4M39.7,289.8h-1.4M39.7,288.2h-1.4M39.7,286.8h-1.4M39.7,285.5h-1.4M39.7,284.5h-1.4M39.7,283.5h-2.2M39.7,276.9h-1.4M39.7,273.1h-1.4M39.7,270.3h-1.4M39.7,268.2h-1.4M39.7,266.5h-1.4M39.7,265.0h-1.4M39.7,263.7h-1.4M39.7,262.6h-1.4M39.7,261.6h-2.2M39.7,255.3h-1.4M39.7,251.6h-1.4M39.7,249.0h-1.4M39.7,246.9h-1.4M39.7,245.3h-1.4M39.7,243.9h-1.4M39.7,242.6h-1.4M39.7,241.6h-1.4M39.7,240.6h-2.2" stroke="#000" stroke-width="0.6"/>
<path d="M200.5,231.6V325.5M159.7,282.0H254.5" stroke="#1a1a1a" stroke-width="1.5"/>
<path d="M189.4 292.8h0m.5 5.4h0m-19.7-1.3h0m6.7-5.3h0m10 11.9h0m-.4-6.7h0m-4.9 1.3h0m3.8 12.5h0m-8-15.3h0m7-3h0m-2.4 3.1h0m-3 1h0m-2 .4h0m3.8-6.2h0m5.8 12.3h0m-7.7-5.6h0m9.2-3.4h0m-10.8 11.7h0m7.5-11.9h0m-.4 5.5h0m-6.9 2.3h0m1.4 6.3h0m7.9-10.6h0m1.8 7.9h0m1.8-2.1h0m-2.5-7.3h0m-7.2 12.1h0m-1.1-21h0m10.7 20.1h0m-4.8-12.7h0m3.9 6h0m-3.5-5.3h0m-3 2.5h0m-10.8 1.5h0m16.2 19.9h0m-7-15.6h0m12.9-3.4h0m-9.4 10.1h0m.4-21.9h0m3.3 6.7h0m-5-7h0m-1.3 11.1h0m-3.2 5.6h0m3.7-16.4h0m.3 14.8h0m5.3-10.2h0m-6.4 5.9h0m1.4-.7h0m1.8 3.4h0m-3-10.1h0m4.1 2.8h0m-5.8 5.7h0m5.5-4.1h0m-.3 9.3h0m-1.1 6.1h0m-1.7-8.8h0m2.1-12.4h0m1.1 10.6h0m-3.2-2.4h0m.2-6.9h0m6 9.2h0m1.5 4.4h0m-2.9-5h0m-3.6-5.9h0m-4.8 6.9h0m6.2-9.4h0m-.7-3.9h0m.6-1.1h0m-3.6 10.9h0m.3-7h0m8.2 7.6h0m-6.6-4.5h0m9.1 13.6h0m-3.3-13.4h0m-2.5 11.9h0m-7-15.5h0m15.7 11.2h0m-3.7-5.4h0m-13.5 14.9h0m13.2-18h0m-4.6 11.4h0m.4-7.1h0m9-4.5h0m-20.6-3.7h0m15.5 9.3h0m-7.2-4.6h0m0-3.8h0m-4.5 0h0m2.2-3.2h0m2.3 24h0m11-12.1h0m-15.5-5.9h0m-1.1 8.3h0m11.5-1.3h0m-8.1-10.2h0m-2.6 20h0m6.2-17.2h0m-5.2 2.7h0m1.3 13.8h0m.8-9.2h0m-4.6-4h0m4.5 8.3h0m-3.5 2.6h0m7.9-12.7h0m-5.5 4.2h0m-3-1.7h0m-6.5 1.3h0m19.2 .9h0m-2.4 5.2h0m-1.7-9.5h0m-2.8 .1h0m-15.8 2.2h0m18.4 7.4h0m-6.8-.6h0m6.9-1h0m-5.5-4.7h0m.1-.5h0m-6 11h0m4.4-20.7h0m1.9 0h0m-3.7 9.6h0m12.8 2.9h0m3.4 5.3h0m-9.8 .3h0m3.5 4.6h0m-4.3 .7h0m3.6-12.2h0m2.2-2.8h0m-8.2-6.8h0m3.6 15.4h0m6.5-6.4h0m-10.6 7.2h0m-4.3-6.4h0m10-1.5h0m.6 14.5h0m4.8-7.8h0m-2.2-7.9h0m-12.4 4.1h0m4.7-9.3h0m3.2 14.2h0m-2.8-.6h0m12.2-16.3h0m-8.1 28.9h0m3.9-21.1h0m-6.7-6.6h0m3.3-2.3h0m-4.2 12.1h0m-5.4-6.5h0m13.2-1.3h0m.2 3.5h0m-6.5-3.7h0m-.8 2.9h0m-8.7 8.9h0m13.3-.2h0m-3-5.4h0m2.9-1.6h0m-7.4 2h0m8.7 .7h0m-4.4 1.6h0m-2.6-1.2h0m-6.6-4.8h0m13.7 2h0m-9-1.5h0m5.1 9.3h0m1.5-5.5h0m-2.5 4.1h0m8.6-11.1h0m-12.1 6.4h0m9.4 1h0m.6-11.6h0m3.3 9.2h0m-10.1 5.8h0m6.6 4.2h0m-5-11.5h0m3.3-1.2h0m-5.2-6.4h0m-.9 12h0m-2.9-5.1h0m-3.8-.1h0m12.3 5.6h0m-4.1 3.2h0m2.4 3.3h0m-.3-1.9h0m-5.5-6.6h0m13.1-1.1h0m-9.5-5.9h0m1.7 .4h0m2.5 6.1h0m-1.9 1.3h0m.2 8.1h0m3.4-10.1h0m-3.9 .1h0m-5.1-1.5h0m6.6-5.9h0m-9.7 21.1h0m5.8-6.6h0m-5.3-3h0m6.5-3h0m9.4 10h0m-11.9-8h0m1.2 13.6h0m1-16.2h0m2.9 3.7h0m-3.9-7.4h0m8.2 17.5h0m-6.3-10.2h0m3.5-4.9h0m-4.2-2h0m-3.6 .4h0m3 3.6h0m-.3-4.4h0m-2 4.6h0m1.6-5.2h0m5.9 9.7h0m-6.5-3.7h0m10.4-1.5h0m-13.6 6.7h0m2-6.9h0m-5.5-2.2h0m1.5 2.8h0m13.7-4.4h0m-11.3 11.3h0m-.2-14.4h0m-.7 5.4h0m4.7 7.3h0m8.6-9.2h0m-8 8.9h0m5.9 8.1h0m-4.7-18.2h0m-8.3 1.9h0m13.9 16.7h0m-4.8-22.6h0m2.8-2.7h0m-6.5 11.4h0m1.4 9.3h0m4.3-10.8h0m-.1-.3h0m-.3 2.2h0m-.1 4.4h0m5.2-11.7h0m-.6 6.1h0m-9.7-3.1h0m6.8 2.4h0m-3.5-1.2h0m-4.3-8.2h0m1.8 12.9h0m9.8-8.6h0m1.5 5.6h0m-8.6 6.1h0m-2.8-8.2h0m-8.8 6.7h0m3.8 3.9h0m-7.6-9h0m16.8 5.1h0m-2.1-1.2h0m-.8-4.7h0m-2.8 11.4h0m5.6-5.1h0m-2.4-5.4h0m-3.5 3.3h0m.3 16h0m7.3-5.2h0m-1.3-4.9h0m-2.7-14h0m-6.2-2.2h0m5.9 7h0m.8 13.4h0m-7.5-4h0m3.4-16.1h0m-4.1 21.2h0m6.1-24.3h0m-7.5 20.2h0m1.3-10.5h0m9.9 12.4h0m-3.6-8.6h0m.9-3.7h0m-4.9-3h0m4.3-3.4h0m4.2 2.3h0m1.7 9.7h0m-13.2-5.7h0m12.8-4.9h0m-7.5 4.5h0m1.6-2.1h0m-7.2 2.6h0m12.5-2.7h0m-5.5 15h0m7.2-14.4h0m-12.4 2.5h0m9.1 .4h0m-5.7 12.3h0m.7-7.5h0m2.9 4.4h0m-6-6.4h0m3.2-4.3h0m.5 2.3h0m1.2-2.6h0m-6.5 4.4h0m6.9-.8h0m-7.8-.7h0m1-1.3h0m12.6 3.6h0m-8 3.8h0m-1.1-10.3h0m-.5 6.5h0m-9-6.4h0m8.4-2.3h0m9.7 2.2h0m-12.3-5.9h0m1.7 14.2h0m5.6-5.5h0m-4.6 1.3h0m11 6.5h0m-8.6-14h0m.3 14.2h0m-1.1-14.2h0m-2.7 13.4h0m6.7-4.2h0m.9-6.6h0m2.1 9.6h0m-12.1 1.9h0m10.1-.2h0m-7 .6h0m5.9-.6h0m4.4-15h0m-11.1 2.8h0m2 8.5h0m1.7-.2h0m5.2-.6h0m.3-2.3h0m-8.3 6.4h0m7 .1h0m2.5-5.3h0m-1.8 11.1h0m-1.5-22.7h0m-3.5 9.7h0m-.2 3.5h0m2.9 9.4h0m2.5-11.8h0m1.9 5.7h0m-5.9-1.2h0m-10.3-3.6h0m15.5-11.7h0m3.8 8.3h0m-14.9 15.5h0m20.1-10.8h0m-12.1-8h0m-3.1 4h0m1.1-.3h0m-3.8 7.6h0m.5-1.9h0m4.9 .1h0m-.8-9.4h0m-4.8 .3h0m-4.7 13.8h0m12.2-4.4h0m1.9-8.4h0m-11.6 10.9h0m8.6-2.8h0m.5-9.1h0m-6.3 10.8h0m-4.9-10.9h0m-3.2 2.6h0m18.9 .4h0m-9.3-4.3h0m5.1 .1h0m-6.9 6.6h0m1.7-9.5h0m-3.8 17.9h0m7.5-5.3h0m9.2-3.4h0m-12 13h0m-3.7-13.8h0m8.8-8.9h0m-5.9 8.2h0m5.3 .6h0m-3.3 8.1h0m.5-8.3h0m-10.6 16.6h0m12.4-23.6h0m3.7 9.5h0m3.7 8.6h0m-6.7-15.5h0m1.7 4.1h0m-.4 3.1h0m-3.5-6.8h0m-2.1 1.7h0m-3.7 .4h0m6.5 11.6h0m-6.4-.2h0m8.8-9.1h0m2.1 8.8h0m-2.4 3.6h0m-7.3-10.5h0m1.3 4.2h0m5.3-10.9h0m1.3 7.5h0m1.6-6.9h0m-6.6 7.9h0m-4.5-8.2h0m12.2-4.5h0m-3.8-.3h0m-5.9 8.6h0m2.4-1.7h0m3.2 10.2h0m-9.5-6.7h0m-1-7.4h0m.4 15.7h0m11.9-2.8h0m.2-3.7h0m-10.8-12.1h0m6 8.9h0m2.3 .8h0m-12.7-4.9h0m9.3 8.5h0m11.3 3h0m-7.3-5.4h0m1.6-7.2h0m-3.3 9.1h0m-6.7 4.2h0m7.8-2.6h0m-11.2 7.6h0m19.7-12.4h0m-12.9-2.3h0m14.4 16.1h0m-15.8-12.3h0m1.6-5.2h0m-2.1-1.9h0m4.2 7.5h0m-.5 13.5h0m4.5-16.6h0m-8.4 14.3h0m5.8-5.1h0m-2.9 3.5h0m7.6 6.7h0m-6.9-10.6h0m-1-7.8h0m6.6 15.6h0m-6-3.1h0m1.9-8.6h0m-.6-3.7h0m-6.6 10.9h0m4.5 3h0m-1.8 2.7h0m13.1-1.2h0m-5-3h0m-7.2-8h0m1.3-12.2h0m1.6 7.4h0m-6.2-9.1h0m8 21h0m-5.1-17.1h0m-14.9 17.8h0m20.8-10.6h0m-.4 11.4h0m-2.3 7h0m-12-1h0m20.9-14.7h0m-3.3 12.3h0m-4.4-12h0m-9.1 13h0m5.7-9.1h0m-2.9-.7h0m7.2-9.5h0m4.6 14.7h0m-11.6-3.1h0m4.8-13.5h0m12.3 11.2h0m-21.7-5.8h0m3.2 6.5h0m6.4 16.2h0m-.8-17.9h0m-5.9 16.3h0m-2.5-7.5h0m4.3-6.8h0m5.1 5.1h0m3.4 8.6h0m-12.8-17.6h0m5.7-2.1h0m-2.1 5.7h0m10.8 12.9h0m-9.1-13.3h0m2.9 .4h0m-10 2.1h0m-1.7-4h0m16.2 4.5h0m-3.2-10.7h0m-5.5 4.4h0m1.7 10.7h0m1.5-.7h0m-4.5 .4h0m3.2-5.1h0m13.3-13.2h0m-15.8 21.8h0m.4-22.3h0m.8 6.1h0m-1.4-6.6h0m7.9 15.5h0m-2.7-20.1h0m-6.6 9.8h0m2.2 6.5h0m8.9 10h0m-8.6-9.9h0m16 20.6h0m-12.9-13.8h0m10.3 6.1h0m2.3-15h0m-4.6 3.6h0m-6.5-3.5h0m-.3 .6h0m-5.9 14.4h0m9.2-12.9h0m9.5-1.7h0m3.3-9.8h0m-10 7.9h0m-2.9 22.5h0m-5.5-29.9h0m5.7 14.6h0m3.6 9h0m-13.3 4.9h0m-5.1-4.8h0m4.3-8.3h0m12.8-19.1h0m.5 17.3h0m-14.2-15.4h0m3.5 14.7h0m.3 1.7h0m-3.4-4h0m5.4 16h0m6.4-24.4h0m-3 16.5h0m-3.9-2.6h0m-11.8-3.5h0m6.4-14.1h0m15.8 18.3h0m-9.6-4.5h0m-.6 12.8h0m5.1-4.7h0m-.8-19.7h0m-9.4 15.3h0m-.8-12.4h0m21.8 23.9h0m-3.5-6.6h0m-1-20.4h0m-2.1 4.1h0m0 8.2h0m-6.9-5.3h0m3 .7h0m4.1 4.7h0m-4.5 9.2h0m-4.6-8.5h0m6.8 .4h0m-3 1.2h0m-2.4-1.6h0m-11.6-6.3h0m15.7 12.3h0m8.8-15.3h0m-5.9-2h0m-4.4 14.1h0m3.9 8.9h0m-12.8-11.1h0m8.1-12.4h0m4.4 27.9h0m-3.5-16.1h0m9 7.2h0m-6.5-14.4h0m-9.6 10.3h0m13.2-12.9h0m-9.6 13.4h0m7.7-2.3h0m4 0h0m-15.5-3.5h0m-1 1.4h0m14.1-2.3h0m-3.9 20.5h0m-10-15.1h0m8.3-12h0m-6.1 11.7h0m13.8-6.1h0m-9.7 14.3h0m7.9-7.6h0m-6.7 1.4h0m-12.5-19.3h0m-3.7-3.4h0m16.8 18.9h0m.7-8.5h0m-3.4 13.1h0m9.9-19.2h0m-13.1 28.5h0m1.1-21.6h0m.4-10.7h0m9.6 2.6h0m-16.4 19.1h0m-2.1 2.6h0m14.2-4.2h0m-10.4-.9h0m6.1-1.8h0m10.9 1.7h0m.6 16.4h0m-15.1-23.3h0m7.7 6.6h0m-6.9-20.8h0m-.6 13.2h0m4.2 12.2h0m-9.4-8.1h0m9.8 9.3h0m.2-12.7h0m-9.8 14.5h0m3-23.4h0m-13.2 6.8h0m27 2.7h0m-.6 2.7h0m3.6 17.2h0m-15.6-18.9h0m-2.5 8.9h0m-3-7.5h0m10.9 4.4h0m2.3 15.5h0m-2.9-22.9h0m.8-6.3h0m2.5 10.8h0" stroke="#a2a2a2" stroke-width="0.9" stroke-linecap="square" fill="none"/>
<path d="M203.4 271.2h0m12.4-5.3h0m4.8-12.2h0m2.8 3.7h0m-6.4 12h0m0-4h0m-8.8-9.8h0m5.9-7.5h0m1.4 9.7h0m-9.1 10.6h0m7.3 .5h0m.8-3.9h0m-2.2-1.7h0m-4.2 8.7h0m.3-17.7h0m2.8 17.4h0m-12.4 7.4h0m11.2-21.1h0m8.5 7.3h0m-10.9-3h0m12.1 7.4h0m-5.6-26.3h0m-5.5 22.6h0m4.9-6.3h0m-2.3 4.1h0m2-9.5h0m-.7 4h0m.5 .6h0m.6 10.4h0m-7.4-.4h0m7.6-1.8h0m-2.5-8.5h0m.4-17h0m-10 19.2h0m7.8 6.8h0m1.8-1.9h0m1.6 1.5h0m1.5-6.1h0m-12.2 9.3h0m7.4-6.6h0m8.3-9.3h0m-10 16.7h0m7.7-16.6h0m-5 4h0m.4-10.5h0m-.4 24.3h0m9.6-10.2h0m-1.1 7.8h0m-1.1-1.9h0m-10.1-17.5h0m14-.5h0m-10.1 14.8h0m-4.5-7.1h0m14.3-16.7h0m-9.1 21.7h0m-1-10.3h0m.5 13.9h0m-3.4 2h0m7.9-2.6h0m-2.3 1.9h0m-6.5-4.9h0m3 5h0m4.7-11.9h0m-6.3-4.9h0m7.8 18.3h0m-4.5-8.8h0m-.3 7.2h0m1.9-10.4h0m-1.2 7.4h0m1.3 7.4h0m-1.3-12.3h0m-3.1 18.9h0m-1.2-17.2h0m-1.9 5h0m9.3 .3h0m-7.8-9.2h0m3.8-5.8h0m-2.9 3h0m0 5.5h0m10.9 9.3h0m-12.1-22.6h0m-.3 18.6h0m5.5-6.4h0m5.1 14.9h0m-5.3-13h0m-1.5-.4h0m-7.6-6h0m12.9 5.7h0m-12.6 9.4h0m5.3-7.7h0m-2 3.8h0m4.3 4.7h0m4.9-2.8h0m-5.9-19.4h0m2.3 26.8h0m1.7-3.7h0m-1.2-12h0m5.2 11.9h0m-10.9 3.6h0m-1.4-4.8h0m5-7.7h0m2.6 5.8h0m-4 5h0m4.5-3.3h0m-7.6-6.3h0m7.1 4.1h0m-1.5 1.8h0m1.6-8.2h0m1.6 5.5h0m-5.5 11.4h0m-10.7 1.4h0m9.5-8.6h0m0 8.2h0m-.8-7.4h0m7.5-17.4h0m-6.2 15.9h0m2.3 11.8h0m-3.5-6.4h0m4.2-19.8h0m1.6-.5h0m-1.7-8.8h0m-4.6 12.6h0m3.6 5.9h0m4.5-5.4h0m-1.7 5.9h0m-1.7 8.1h0m-1.7-3.7h0m4.2-2h0m-9.7-8.6h0m2.3-5.8h0m4.4 14.1h0m2.5-6.7h0m4.5 7.8h0m-4.3-10.2h0m-6.4 10.5h0m-.1-4.6h0m6-3h0m-6.4-11.1h0m4.7 6.7h0m1.3 .5h0m-4.1-.8h0m4.4 11.2h0m-1.8-3.4h0m6.7 6.3h0m-10.1-10.2h0m11-5.7h0m-13.9 1.7h0m11.3 8.5h0m-5.9-11.4h0m-2.7-1.4h0m5 23.6h0m-1.1-14.6h0m-.6 4.2h0m-5.4-11.2h0m3 24.7h0m-.1-6.3h0m6.5 .5h0m5.5-12h0m-10.5-5.1h0m-2.4 .7h0m-.7 3.9h0m11.6-.3h0m-13.4-10.3h0m3.8 5.9h0m6.1 15h0m-2.5-4h0m-5.4 15.1h0m3.8-27.7h0m-.5 10.5h0m-5.3-7.9h0m3 4.3h0m-1.8-1.5h0m7.6 13.8h0m-4.2 4.1h0m.6-13.9h0m-.1-.3h0m-7.8-1.1h0m12.1-1.4h0m-5.4-12.7h0m8.3 19.2h0m-4-5h0m4.5 14.1h0m-9.4-16.7h0m4.3 11.2h0m-2.6-12h0m.4 6.7h0m-.4-4.4h0m8.6-10h0m-.1 21h0m-6.8-10.2h0m3.4 5.4h0m-2.9-18.5h0m-1.7 6.5h0m8.2 2.2h0m-7.4 9.7h0m.1 6.6h0m-1.3-16.4h0m1.2 2.8h0m-.3 9.3h0m4.8-7.2h0m-.2 2.7h0m-10.3-.7h0m-2-9.6h0m10.2 17h0m-7-12.2h0m4.2 6.3h0m-3.2-.2h0m10.5-11.5h0m-7.2 1.5h0m-7.5 18.1h0m8.5-5.3h0m.6-6.6h0m-11.7-7.5h0m9.9 23.4h0m5.9-8h0m-3.1-4.6h0m5.2 3.1h0m-1.5-1.7h0m-7.9-5.7h0m3.9 2.8h0m7.1 3.1h0m-8.4 2.8h0m1.6 8.8h0m.2-12.6h0m-7.5-5h0m3.7 3.4h0m1.7-7.8h0m-3 5.3h0m1.3-12.3h0m6.1 27.1h0m-4.4-5h0m-3-.1h0m4.9-11.9h0m-2.4-7.4h0m8 13h0m-6.1-7.5h0m-4.4 .6h0m-2.5-15.7h0m8 29.4h0m8.5-8.1h0m-16.7 3.7h0m5.1-5.9h0m-3.2 14.1h0m8.1-9.5h0m-4.5-9.3h0m-.3-9.3h0m-2.3-1.4h0m5 30.1h0m-1.8-12.8h0m2.6 16.1h0m-4.9-8.3h0m-3.3-11.3h0m1.7 1.9h0m6.5 8.7h0m-5.8-8.3h0m-1.2-21.3h0m6.8 24.4h0m-15-25.5h0m7.3 24.7h0m2.4-3h0m-6 6.4h0m12.3-9.4h0m-7.8 6.3h0m5.2 1.7h0m1.3-10.5h0m-3.1 12.3h0m-4.7 2.2h0m4.4-1.5h0m-2.4-13.1h0m.9 16.3h0m-1-11.7h0m7.2-3.8h0m2.8 23.1h0m-3.3-13h0m-5.9-6.3h0m8.4-6.8h0m-9.4 6.9h0m4-2.5h0m-.8 .7h0m6.3 5.3h0m-5.3-10.7h0m-3.1 4.4h0m5.6 17.6h0m-1.3-15.4h0m3 2.7h0m-3-3.5h0m-2.1 2.3h0m-2.8 .5h0m7.3 1.7h0m-6.4-5.2h0m-1.3 7.6h0m6.7 3.5h0m-7.2-24.1h0m7.1 9.1h0m-8.5 15.9h0m4.5-12.7h0m3.8 2.3h0m-.1 10.4h0m1.6 .8h0m-6.6-8.7h0m5.4-5.4h0m1.5 12.5h0m-6.8-9.1h0m7.6 4.3h0m-4.6 .9h0m.6-9.1h0m-5.8 10.7h0m.5 9.4h0m3-6.5h0m-2.9-5.8h0m6.4-5.9h0m-4.5 3.1h0m5.1 8.1h0m-2.4-5.5h0m-1.3 12.1h0m2.2-10.4h0m-11.2-13.3h0m13.1 11.2h0m-6.3 .9h0m5.8-6.9h0m-10.8 3.3h0m8.7 7.1h0m3.5-2.5h0m-1.8 7.4h0m-12.6-11h0m9 3.2h0m6.8 7.6h0m.1-6.5h0m-6.6-4h0m-1.4-5.8h0m6.5 7.8h0m-1.5-7.2h0m-8.6 24h0m5.3-20.2h0m9.3 9.3h0m-9.1 2.2h0m-.8-16h0m1.7 6.2h0m5.4-6.9h0m-3.7 1.5h0m-7.7 7.6h0m5-1.4h0m3.4-2.1h0m7.8-2.6h0m-15.1 13.1h0m8.6-28.3h0m-4.4 21.3h0m-7.3-9.1h0m17.8-7.7h0m-12.9 27.3h0m-5.8 2.4h0m11.2-9.6h0m-5.8-11.8h0m2.2-1.5h0m5.1 18h0m.3-7h0m3.3-17.1h0m-14.6 14h0m2.9-2.7h0m4.6 3.5h0m3.4-19h0m-9 31.9h0m10.4-2.4h0m1.5-3.7h0m-5-18.4h0m7.7 2.6h0m-16.4 1.1h0m9.1 15.8h0m-2.5-8.4h0m7.4 4.2h0m-10.9-9.8h0m2.3 1h0m-5.4 4.8h0m.2 2.2h0m4.5-4.9h0m7.9 .1h0m-1.2 14.7h0m-6.2-.1h0m1-1.4h0m1-9.3h0m-4.6-12h0m4.9 9h0m-5.5 .5h0m3.5-8.2h0m-5.4 0h0m6.6 8.2h0m-9.2-5.3h0m12.3 8.2h0m-5.8-5.2h0m5.2-15.2h0m-.4 9.6h0m-3.8 4.1h0m-7.4 3.5h0m2.1 22.9h0m2.5-20.8h0m9.9-3.1h0m-7.5-12.4h0m2 18.3h0m-4-.5h0m-3.3-15.8h0m9.9 9.2h0m4.1 3.6h0m-6.5 .4h0m-8.8 1.2h0m3 2.8h0m15.5-8.1h0m-10.5-6.3h0m.6 11.9h0m-3.3-2.1h0m-5.9 15.8h0m14.9-24.2h0m-9.7 12.7h0m1.8-11.4h0m4.7 27.5h0m-2.5-28.6h0m6 2.9h0m-.8 7.2h0m3.5-1.2h0m-8 2.4h0m-3.7-11.1h0m.2 11h0m2.9 16.3h0m3.5-25.5h0m-2.6 1.9h0m-5 3.6h0m4.2 11.4h0m-2.1-2.2h0m-5-19.5h0m5.2 6.9h0m3.4 4.3h0m-1.8-10h0m-4.2 .3h0m10.3 29.1h0m1.4-22.9h0m-3.5 14.1h0m-5.2 .6h0m-3.4-12.3h0m-1.5 5.6h0m7.4-8.8h0m-.5 0h0m-5.3 18.4h0m1.3-3.3h0m3.3-18.4h0m-3.6 15.5h0m.6-13.8h0m2.9-.1h0m-2 .2h0m-.4 8.3h0m-.9 6.3h0m11.8-15.5h0m-8.2 18.1h0m1-5.3h0m1-10.5h0m3.1 6.2h0m-2.9-16.6h0m-6.2 15.9h0m1.1-4.7h0m-1.1-6.9h0m-3.6 16.6h0m-4.3-8.8h0m12.6-2.2h0m-1.4 4.2h0m2-8.4h0m1.7 1.6h0m-5.6 8.9h0m.4 10h0m2.1-3.7h0m3.8-8.2h0m-4.5 3.6h0m.8-4.4h0m-2.4 1.7h0m-10.7-8.2h0m11.1 6.7h0m3.6 10.2h0m5.9-.9h0m-12.3-9.2h0m1.5 7.2h0m8.9-8.8h0m-1.3 6.4h0m-5.5-14.6h0m-5.2 19.5h0m7.4-7.5h0m4.6-19.8h0m-7.4 12.8h0m-6.7 19h0m5.7-9.8h0m-1.8-3.2h0m-.9 10.4h0m7.2-8.2h0m-3.9-3.3h0m5.9-1.7h0m-4.8 5.9h0m.6-12.1h0m-.3 12.7h0m-8.3 7.4h0m8.3 7.9h0m-8.5-28h0m11.4 15.2h0m-3.3-8.4h0m-1.6 3.1h0m5.2 7.5h0m-10.8-9.5h0m5.8 11.4h0m7.3-19.1h0m-14.6 12.6h0m6.6-17.1h0m1.3 3.1h0m15.7 29.5h0m-10.9-20.2h0m-3.9 7.4h0m4.6-18.7h0m-2.3 10.3h0m-5.5 7.2h0m4.4 7.4h0m-2.9-11.3h0m6.8 3.5h0m-2.4-9.8h0m-8.3 1.3h0m8.5 .5h0m2.5 6.8h0m-6.8-9.3h0m4.5 5.6h0m-7.3-1.1h0m9.3-11.7h0m-7.5 20.9h0m2.9 3.1h0m5.7-8.3h0m-9.7-6.9h0m4.6-10h0m3.3 16.9h0m-3.4 1.4h0m-5 4.5h0m6.8-6.2h0m5.4-4.3h0m-1.6 4.5h0m-6.8 3.9h0m6.3 7.8h0m-6.4-14.7h0m-.5-8.3h0m2 6.2h0m1.6-1.5h0m-9.8 3.1h0m3-3.5h0m2.7-6.1h0m-3.2 17.3h0m3.3-23h0m-.2 39.1h0m-.1-21.3h0m8.7 4.3h0m-1.5-7.9h0m-4.8-7.1h0m-.2-1.4h0m.5 5.1h0m-.2-4h0m-3.3 9.9h0m-3.1-7.1h0m7.4 2.9h0m-1 2.1h0m-1.7 11.1h0m4.9-7.9h0m-1.9 1.8h0m6.9-3.7h0m-10.7-.7h0m9.6 4.8h0m-7.1 6.8h0m1.9-4.7h0m.5-6h0m-2.2 4.4h0m-2 8.8h0m11.3-3.1h0m-8.2 6h0m-9.4-17.6h0m18.6 .1h0m-18.8-10.9h0m10.8 18.3h0m-4.1-20.7h0m-5.9 17.3h0m1.1 4.8h0m7.1 1h0m-9-13.9h0m7.1 2.4h0m-2.3 1.8h0m6.8-.9h0m-5.3-5.3h0m1.4 10.7h0m7.4 2.8h0m-6.6-9.2h0m-3.5-20.1h0m-2.3 28.4h0m-3.3 5.3h0m6.3-.2h0m-.7-18.5h0m-2.2 6h0m1.9-8.8h0m5.1 18h0m-4.5 3.3h0m.6-13.4h0m3.9 3.8h0m1.6 12.5h0m2.5-12.6h0m-12.6-6.8h0m7.3 11h0m3.3-4.4h0m-5-3.4h0m3.8 5.4h0m-2.2 4.9h0m-12-5.1h0m4.3 7.3h0m18.4-10.8h0m-19-1.3h0m5.4 14.9h0m1.1-14h0m4.7 6.9h0m1.2-6.8h0m-2.3-6h0m.2 2.2h0m-5.2-.2h0m-2.4 16.9h0m6.9-21h0m-4.3 7.3h0m11.7 .4h0m-11.3-6.5h0m-2.6 9.5h0m6.4-1.8h0m2.6-7h0m-5.8-1.5h0m15.8 10.8h0m-14.1-15.7h0m-2.5 33.5h0m3.2-11.3h0m-.1-19.7h0m-1.2 4.3h0m2.7-4.9h0m-4.4-7h0m4.4 28.8h0m-4-12.7h0m13.5-1.2h0m-12.4 3.5h0m-2.3-5.2h0m-.2 10.5h0m-.2-11.1h0m3.5 3.4h0m-1.7-.9h0m6.4-2.4h0m-6.8 6.9h0m1.3 1.5h0m-1.3-14.5h0m4.3 25h0m-5.6-3.5h0m-1-20.7h0m-.4 22.1h0m8.9-17.1h0m-5.8 4.5h0m1.5 4.9h0m.6-5.4h0m-1.5-3.2h0m-4.2 10.9h0m-.7-6.7h0m8.4 7.1h0m2 1.4h0m-1.5 .7h0m.4-14.1h0m6.4-1.3h0m-7.6 9.7h0m1.7-11.9h0m-11.3 19.3h0m4.5-13.7h0m8.4-1.1h0m-10.2 22.4h0m3.3-8.9h0m-10 3h0m16.2-14.8h0m-.2-2.6h0m-.2 2h0m-6.7 8.8h0m.6-10.5h0m1.5 14.9h0m14.6-14.9h0m-16.6-6.4h0m-3 16.7h0m2.6-4.4h0m3.6-11.7h0m-5.5 2.9h0m-.8 18.6h0m10.3-5.4h0m-3.1 3.2h0m-9-9.2h0m8.6 2.6h0m-6.8-4.8h0m.1 10.7h0m2.5-3.4h0m8.9-17.1h0m-4.1 18.2h0m-3.8-15.7h0m-2.3 13.3h0m-5.4 11h0m.3-7.4h0m2-17.9h0m3.3 16.5h0m-1.3-9.6h0m-.3-6.4h0m2.8 3.7h0m-9.4 5.2h0m16.5-2.9h0m-5.9 1.6h0m-2.9-1.9h0m-2.8 5.1h0m-1.5-.7h0m.5 3.9h0m12 1.9h0m-2.4-17.7h0m2.7 9.3h0m-6.7-.7h0m7.1 1.6h0m-2.8-12.8h0m-5.1 16.1h0m6.4-2.9h0m3.9 8.1h0m-17-10.7h0m7.8 .4h0m6.5 .6h0m-2.9 21.3h0m1.6-31.8h0m-4.1 9.1h0m2 11.5h0m-.7-7.1h0m1.8 6.4h0m-16.1 11h0m10-22.8h0m4.3 12.4h0m-7.6 .5h0m9.2-8.8h0m-4.8 1.6h0m9.5 2.1h0m-1.1-18.6h0m-10.4 19.1h0m4.3 2.8h0m-3.7 4.5h0m-.5-1.9h0m7.1-5.4h0m-.4-3.1h0m1.7-4.1h0m-8 1.1h0m3.1 2.9h0m3.6-5.8h0m-.6 5.6h0m-9.3-10.3h0m1.9 9.5h0m7.2 .7h0m4.6 9.6h0m-10.1-2.1h0m.8-1.9h0m-2.5 0h0m7 6h0m-8.7-12.3h0m4.1 4.2h0m-.9-.2h0m5.8-6.5h0m-7.9 16.2h0m7-13.4h0m-3.8 .5h0m-1 18.2h0m1-14.2h0m-8.4-3.2h0m9.8 7.3h0m8-14.8h0m-10.2 5.8h0m7.5-4.8h0m-6 7.1h0m-3.2-10.4h0m4.6 12.8h0m-4.7-18.2h0m17.1 16.7h0m-22.9-6.6h0m8.6 11.5h0m4-16.5h0m-6.6 8.8h0m3.5-8.6h0m-7.1 11.3h0m2.6 6.9h0m7.5 2.9h0m-.5-12.4h0m-2-3.1h0m-1.5 17.6h0m-1.8-6.4h0m8.2-6.9h0m-3.3-9.1h0m-7.1-7.1h0m9.9 13.1h0m-7.8 9.2h0m4.7-6.8h0m.6-11.2h0m4.8 22.5h0m-8.3-14.8h0m-.5-2.7h0m5.6 5.1h0m-7.2 3h0m8.5 5.3h0m-5.6-10.9h0m-6.3 4.3h0m10.7 1.4h0m-1.5 14.2h0m-2.4-17.3h0m4.7 6.7h0m-3.3-11.3h0m-9.6 12.3h0m8.5 5.2h0m.6-3.9h0m-.5-8.7h0m4.5 3.9h0m-9.3-3.9h0m.5-3.4h0m.6 11.4h0m5.3 5.7h0m4.8-12.8h0m-7.4-1.8h0m5.1 8.7h0m7.3-14.2h0m-16.5 13h0m9.8-6.2h0m-.2 3.1h0m1.1 16.7h0m-1.3-2.7h0m2.9-21h0m-2.6-.2h0m-7.7 11h0m2.6-10.7h0m7.3 8.3h0m2.5-2.6h0m-11.3 6.8h0m2.8-11.8h0m-.8 .8h0m2.1 10.1h0m-4.3 1.8h0m-3.8-14.2h0m4-7.3h0m1.8 14.4h0m10.3-1h0m-11-8h0m-2.7 4.8h0m4.7 14.2h0m-5.1-.6h0m15.8 4.2h0m-11.4-20.9h0m2.9 5.7h0m-.8-9.1h0m-4.2 16h0m-1.4-23.3h0m7.2 14.3h0m-8.8-1.4h0m7.9 12.8h0m-2.4 1.3h0m3.5 3.6h0m-2.4-31.3h0m-1.2 28.2h0m-3.7 7.6h0m-5.8-8.4h0m5.1-7.7h0m-5.6-11h0m13 13.5h0m-12.5-9.5h0m15-2.6h0m2.8-3.6h0m-6.4-5.2h0m7 25.7h0m-14.9-12h0m12.6-10.9h0m-10.3 14.2h0m5.4-3.2h0m6.9 5h0m-2.5-24h0m-6.9 17.8h0m0 2.4h0m2.3 11.8h0m-2.2-24.2h0m3.3 14.8h0m-3.4 1.5h0m-7.5 10.9h0m3.9 12.7h0m10.1-35.4h0m3.5 23.2h0m-5.8 4.3h0m-.7-15.4h0m-6.9-.7h0m17.7 17.7h0m-15.3-17.6h0m-10.9-5.4h0m8.7-2.1h0m-3.6 7.3h0m12.4-20.7h0m-20.9 39.8h0m22.4-20.4h0m-17.2-11.3h0m9.1 13.2h0m14-7.4h0m-7.4 23.5h0m-7.3-17.2h0m.7 10.5h0m11.1 6.7h0m-3.6-23h0m-.8 23.9h0m-6.9-27.6h0m3 6.7h0m-3.5 4.1h0m12.8 9.2h0m-21.2-15.6h0m11.1 10.3h0m-5.1 .6h0m-1.7-1.4h0m19.5 8.8h0m-32.1-22.2h0m15.6 4.9h0m4.1 7.6h0m20.2 3.3h0m-23.1-11.5h0m-11.1 10.9h0m9.2 3.9h0m-1.6-24.5h0m12.6 21.4h0m-3 8.2h0m.9-21.6h0m13.4 7.1h0m-5.4-21.8h0m-9 31.2h0m-7.3-9.5h0m-7.4-9.6h0m18.7 33.1h0m-4.3-15h0m-4.8-28.5h0m10.8 22.5h0m-6.6-12.4h0m-1.8 8.5h0m2.5-6h0m-16.8 9.5h0m30.6 12.5h0m-7.9-23h0m-12.6-1.1h0m5.5 30.2h0m.7-2.7h0m-3.4-5.5h0m14.7 4.6h0m-17.7-8.2h0m-2.8-11.5h0m11 10.7h0m3-14.3h0m6.8 1.3h0m-1.7 15.5h0m-19.4-16.9h0m12.3-12.3h0m5.3 7.8h0m-4.4 14h0m-10.1-15.7h0m10 16.1h0m-3-16.1h0m3.5 5h0m-8.3 6.6h0m10.9 7.3h0m.5-7.4h0m-7-8.3h0m-.6-1.3h0m-1.3 2.2h0m-7.5 16.9h0m5.9-26.1h0m3.1 24.9h0m4.5-15.6h0m-.6 6.7h0m-2.4-6.5h0m-8.2 22.6h0m9.5-16.1h0m-1.9 8.9h0m-14.4-7.1h0m2 1.3h0m-7.8 .9h0m31.6 14.8h0m-20.5-10.8h0m13-8.2h0m-11.9 10.5h0m10.6 5.9h0m-8-7.3h0m-2.7-5.9h0m7.3 36.9h0m-5.1-8.3h0m10.9 14.3h0m-6.7-19.5h0m1-2.5h0m.7 24.2h0m-.1-27.4h0m-10.4 20h0m16.1-19.9h0m-7 35.3h0m-3.8-1.7h0m-2.5-33.4h0m1.7 35.4h0m.4-15.5h0m3.7 7.4h0m-5.2 4.1h0m5.8-15.6h0m.2 .2h0m-5-4.9h0m17.2 11.2h0m-13.8-23.3h0m2.7 26.1h0m-1.4 1.9h0m-1.6-1.6h0m5-2.9h0m4.2-11.9h0m-8.7 14.4h0m-4.6-11.9h0m8.3 10.3h0m-16.1-15.6h0m13.8 .5h0m-2.1 15.4h0m3.1-19.1h0m-10.9 26.5h0m6.3-.6h0m-3.5-10.7h0m2.9-11.7h0m6.7 3.3h0m-4.7-7.8h0m-2.4 23.9h0m10.6 8.4h0m-7-33.5h0m-12.1-1.8h0m5.8 14.5h0m8.6 21.5h0" stroke="#000" stroke-width="0.9" stroke-linecap="square" fill="none"/>
<path d="M159.7,231.6H254.5" stroke="#d0d0d0" stroke-width="1"/>
<path d="M159.7,231.6V325.9H254.5V231.6" stroke="#333" stroke-width="1.1" fill="none"/>
<text x="248.8" y="241.0" font-size="8" fill="#262626" text-anchor="end" font-weight="normal" >91.5</text>
<text x="154.1" y="323.9" font-size="8" fill="#262626" text-anchor="end">0</text>
<text x="142.3" y="307.5" font-size="8" fill="#262626">10<tspan font-size="5" dy="-3.8">2</tspan></text>
<text x="142.3" y="286.5" font-size="8" fill="#262626">10<tspan font-size="5" dy="-3.8">3</tspan></text>
<text x="142.3" y="264.6" font-size="8" fill="#262626">10<tspan font-size="5" dy="-3.8">4</tspan></text>
<text x="142.3" y="243.6" font-size="8" fill="#262626">10<tspan font-size="5" dy="-3.8">5</tspan></text>
<text x="163.0" y="338.6" font-size="8" fill="#262626" text-anchor="start" font-weight="normal" >0</text>
<text x="175.1" y="338.6" font-size="8" fill="#262626">10<tspan font-size="5" dy="-3.8">2</tspan></text>
<text x="197.3" y="338.6" font-size="8" fill="#262626">10<tspan font-size="5" dy="-3.8">3</tspan></text>
<text x="218.5" y="338.6" font-size="8" fill="#262626">10<tspan font-size="5" dy="-3.8">4</tspan></text>
<text x="238.1" y="338.6" font-size="8" fill="#262626">10<tspan font-size="5" dy="-3.8">5</tspan></text>
<path d="M169.0,325.5v1.6M171.5,325.5v1.6M173.2,325.5v1.6M174.6,325.5v1.6M175.7,325.5v1.6M176.6,325.5v1.6M177.4,325.5v1.6M178.2,325.5v1.6M178.8,325.5v2.2M185.5,325.5v1.6M189.4,325.5v1.6M192.2,325.5v1.6M194.3,325.5v1.6M196.1,325.5v1.6M197.6,325.5v1.6M198.8,325.5v1.6M200.0,325.5v1.6M201.0,325.5v2.2M207.4,325.5v1.6M211.1,325.5v1.6M213.8,325.5v1.6M215.8,325.5v1.6M217.5,325.5v1.6M218.9,325.5v1.6M220.1,325.5v1.6M221.2,325.5v1.6M222.2,325.5v2.2M228.1,325.5v1.6M231.6,325.5v1.6M234.0,325.5v1.6M235.9,325.5v1.6M237.5,325.5v1.6M238.8,325.5v1.6M239.9,325.5v1.6M240.9,325.5v1.6M241.8,325.5v2.2" stroke="#000" stroke-width="0.7"/>
<path d="M159.7,316.2h-1.4M159.7,313.2h-1.4M159.7,311.1h-1.4M159.7,309.5h-1.4M159.7,308.2h-1.4M159.7,307.1h-1.4M159.7,306.1h-1.4M159.7,305.3h-1.4M159.7,304.5h-2.2M159.7,298.2h-1.4M159.7,294.5h-1.4M159.7,291.9h-1.4M159.7,289.8h-1.4M159.7,288.2h-1.4M159.7,286.8h-1.4M159.7,285.5h-1.4M159.7,284.5h-1.4M159.7,283.5h-2.2M159.7,276.9h-1.4M159.7,273.1h-1.4M159.7,270.3h-1.4M159.7,268.2h-1.4M159.7,266.5h-1.4M159.7,265.0h-1.4M159.7,263.7h-1.4M159.7,262.6h-1.4M159.7,261.6h-2.2M159.7,255.3h-1.4M159.7,251.6h-1.4M159.7,249.0h-1.4M159.7,246.9h-1.4M159.7,245.3h-1.4M159.7,243.9h-1.4M159.7,242.6h-1.4M159.7,241.6h-1.4M159.7,240.6h-2.2" stroke="#000" stroke-width="0.6"/>
<path d="M321.7,231.6V325.5M280.4,282.0H375.2" stroke="#1a1a1a" stroke-width="1.5"/>
<path d="M306.6 290.7h0m-12.1 3.8h0m2 5.8h0m11.5 5.3h0m-10.2 6.1h0m11.4 1.7h0m-11.4 1.6h0m-2.4-12.6h0m8.5-4.8h0m-5.4 7.3h0m-.9-6h0m9.3 3.4h0m2.6-3h0m-4.1 6.6h0m-9 4.2h0m-3.6-11.1h0m7.4-.2h0m.6 8h0m1.3-13.9h0m3.7 4.6h0m-11.8-6.4h0m5.7-3.9h0m7.8 1.1h0m2.2 5h0m-5.4-1.1h0m4.5 13.5h0m-8.5-17.9h0m-7.9 10.9h0m13.1 6.8h0m-10.3-1.4h0m10.3-3.6h0m-5.1 8.2h0m14.1-4h0m-14.1-9.7h0m-6.1 1.3h0m17.8-1.2h0m-10.7-4.8h0m5.3 19.7h0m-5.5-8.8h0m1.8-3.3h0m.7 7.5h0m-11 2.9h0m7.6-1.5h0m.3-7.6h0m2 5.8h0m-3.9 .1h0m11.4-4.7h0m-8.6 9.2h0m-.5-9.2h0m2-2.5h0m3.9 12.3h0m5.5 2.1h0m-8.2-25.2h0m-10.6 8.2h0m6.1-6.3h0m4.6 25.7h0m-1.5-17.4h0m.9-5.3h0m-10 6.6h0m28.2-5.5h0m-19.1 11.9h0m-5 .5h0m10.3-5.9h0m-10-15.3h0m3.1 11.1h0m3.2-1.2h0m1.1 14.3h0m3.9-.2h0m-5.1-14.9h0m2.3 2h0m-4.8 .5h0m1 19h0m.2-30.4h0m-2.7 17.5h0m8.6-2.6h0m-7.1-5.1h0m2.8-1.9h0m-6.8 5.8h0m15.5-1h0m-17.9 5.4h0m.1 15h0m4.1-30.5h0m8.5 21.8h0m-3.1-4.6h0m-11.6 7.4h0m17.9-10.4h0m-6.9-12.2h0m6.3 21h0m2.8-12.7h0m-4.1 6.1h0m-11.1-14.1h0m14.4 2.2h0m-8.4 14.9h0m5.5-10.5h0m-1.9 12.8h0m-6.8-18.1h0m9-5.6h0m0 9.7h0m-11.6 12h0m8.2-9.2h0m5.2 5.2h0m-6.4 6.6h0m-6.1-3.6h0m6.9-12.3h0m-9.2 9.1h0m1.5-3.9h0m11.6-5h0m-11.1-3h0m4.7 13.7h0m-8.7-3.2h0m6-2.1h0m-1.4-7.1h0m8.1 4.3h0m-3.2 20.2h0m-.1-3.6h0m-1.6-27.3h0m8.7 25.1h0m3.7-20.1h0m-16.5 2.1h0m12.3 1.4h0m-2.6 8.7h0m-1.4-4.7h0m2.6-3.4h0m-14.6-1.3h0m4.1 13.1h0m3.6 3.1h0m-7.8-10.9h0m8.6-4.4h0m-3.4 7.1h0m11.6 6.7h0m-6.6-16.2h0m-.3-6.6h0m-2.9 5.3h0m0 10.5h0m-2.6 8.1h0m5.5-14.1h0m-.2 4h0m-6-1.4h0m5.3 7.8h0m7.2 1.9h0m-12.2-11h0m.5-.9h0m17 7.1h0m-10.1-8.4h0m-3.3 7.8h0m.7 6.5h0m.4-9.7h0m8-6.5h0m-4.2 12.4h0m-5.4 .6h0m.3 9.4h0m3.3-28.3h0m-1.7 23.9h0m4.4-7.7h0m-1.6 10.8h0m-1.6 1.4h0m-9.1 4.3h0m8.8-11h0m-9.1-7.1h0m6.5 8.4h0m-3.4-18.7h0m4.4 6.7h0m-6-5.9h0m5.4 11.9h0m-1.3 14.3h0m11.5-11.8h0m-4.6-8.4h0m-5 4.8h0m-5.2 12.2h0m-5.3-20h0m15.5 3.7h0m-1-1.2h0m1.6-4.7h0m-8.7 6.4h0m3.3 15.8h0m.3-9.7h0m.1 1.1h0m0-17.4h0m1.3 15.3h0m7.6-6.8h0m-9.6-4.1h0m-6.2 8.9h0m9-13.3h0m-2.1 17.2h0m-3.3-20.7h0m5.8 16.6h0m-.5 8.7h0m6.6-2.4h0m-7.2-12.5h0m-8 6.3h0m7.6-10.5h0m1.9 6.5h0m7.8-2.3h0m-.4 1.2h0m-8.6-4.1h0m-9.5 17.6h0m8.6-19.5h0m6.2 19h0m-2-5.3h0m-8.9-15.3h0m.4 23.8h0m-7.3-15h0m.8 .4h0m17.2 4.2h0m-7.2-.1h0m1.8-6.6h0m-5.9-6.2h0m-3.3 30h0m-1.7-24.8h0m7.2 16h0m-6.7-22.5h0m11.7 21.1h0m-4.2-2.6h0m7.6 .5h0m-16.2-1.3h0m.4-3.7h0m7.8-12.7h0m-7.2 2.2h0m10.6 16.2h0m2.3-1.7h0m-5 6.2h0m-10.3-14.4h0m6.4-.9h0m7.6 11.4h0m2.5 3.8h0m-3.3-2.5h0m-5.5-9.3h0m-3.2-1.3h0m5 3.5h0m-2.7-10.2h0m10 3.4h0m-14.4-2.3h0m13 8.6h0m-10.6 12.1h0m2.4-17.5h0m7 15.7h0m-.5-13.5h0m-5.3-3.2h0m-1.5 3h0m4.6-2.2h0m6.5 4.1h0m-8.4 6.1h0m-2.3-12.4h0m-.3-7.3h0m-.8 13h0m2.8-2.5h0m-4.5-4.9h0m6.5 4.9h0m-13.2-7.7h0m14.1 .1h0m-1.9 3.4h0m2.4-1.8h0m-.8 7.5h0m-2.9 4.4h0m1.9-.3h0m-5.5-3.5h0m11 7.8h0m-11.8-13.4h0m1.1 6.6h0m8.6-1h0m3.9 4.6h0m-13.9-1.2h0m8-12.3h0m-3.6 25.2h0m8.3-25.9h0m-3.5 7.3h0m-8.6 11.2h0m1.7-13h0m7 7.7h0m-1-9.2h0m-2.7 7.6h0m-1.3-16h0m8.6 3h0m-8.7 7.4h0m4.2 1.4h0m0 1.7h0m2.7-9.1h0m-1.7 4h0m2 6.4h0m-14-2.1h0m6.3-10h0m.1 22.7h0m8.5-12.3h0m-5.4-5.3h0m-4.6 7.8h0m9-.9h0m-7.2 7.7h0m4.5 16.4h0m-7.2-28.1h0m8.1-6.7h0m-5.6-3.3h0m-5.6 12.3h0m13.6-9.2h0m-6.7 4.2h0m4.6 1.9h0m1.2 13.7h0m-2.2-5.9h0m3.3-15.7h0m-11.7 6.2h0m.6 1.6h0m8.6 6.6h0m-4.1 8h0m-1.8-16.7h0m-2.7-5h0m1.1 28.3h0m6.6-22.3h0m1 6.3h0m-10.4-9.5h0m3.1 19.4h0m4.2-12.9h0m1.4-5h0m-14.9 3.8h0m-1.2 9.8h0m9.6-11.1h0m3.6-2h0m-4 14.2h0m8.1-14.4h0m.4 10h0m-5.3-1.3h0m-1.6-7.3h0m11.3 11.9h0m-13.3 10.3h0m4.7-20.1h0m-6.1 1h0m15.3 20.2h0m-11.7-20.4h0m-4 1.6h0m10.6-3.5h0m1.5 17.8h0m-10.7-2.7h0m4.8-10.2h0m-4.1 13.6h0m0-23.6h0m10.3 22.6h0m-3.5-14.2h0m7.6-7.5h0m-2.5 11h0m-4-12.7h0m-4.6 10h0m-3-8h0m0-3.2h0m7.4 10h0m-9.6-13.4h0m-2.9 8.7h0m7.7 2.5h0m3.7 .7h0m2.7 10.1h0m-1.5-5.9h0m-8.9-9.3h0m9 12.6h0m-3.7 14.2h0m1.4-28.8h0m-6.2 5.1h0m16.3 15.7h0m-14.7-8.3h0m3.3-1.2h0m4.2-15.1h0m3 15.5h0m-7.4-7.7h0m-9.2 4.4h0m-.8 23.8h0m7.9-33.5h0m4.1-4h0m-1.4 10.1h0m.3 6.3h0m-1.3-1.1h0m5.5 2.7h0m-7.2-5.8h0m4.1-1.5h0m-3.8 .4h0m12.3-10.9h0m-1.3 2.6h0m-2.7 18.6h0m-3.2-4.7h0m.6 .2h0m5.4 4.8h0m-6.5-16.4h0m6.2 23.5h0m-7.2-23.7h0m.3 11.9h0m-1.8 3.6h0m1.4-.2h0m-1.8-10.6h0m-3.6 8.2h0m10.9 2.9h0m.5 3.3h0m-2.5 2.2h0m-3.6 .3h0m7.2-8.6h0m-9.2 14.5h0m12.4-31.8h0m-.6 24.1h0m-8.9-1.9h0m-7.4-13.8h0m11.8 18.7h0m-12.3-9.9h0m2.4-7.9h0m-12.6 2.7h0m25.2 3.6h0m-9-6.6h0m-5.4 7.8h0m1.2 1.4h0m5.6-8.3h0m-.8 3.6h0m3.2-8.2h0m.6-1.6h0m-11.2 6.2h0m.9 3.6h0m4.9-4.4h0m6 11.9h0m-6.2-2.5h0m-.6-18.5h0m1.1 11.1h0m-2.4-1.8h0m-3.9 12.5h0m14.2-8.1h0m-13-6.6h0m3.9 4.9h0m9.8 4.1h0m-4.7-3.4h0m-6.1-4h0m-.6 8.2h0m1.9 8.3h0m-4.2-12.4h0m.1-2.6h0m-4.4-.3h0m20.1 3.5h0m-4.9-.8h0m6-8.6h0m-11.9 0h0m-5.6 24.8h0m.6-21.7h0m-2.8-1.3h0m16.3 20.9h0m-8.8-25.5h0m7.3 8.1h0m2.7-3.6h0m-13.3 8.5h0m1.1-.9h0m5.3 21.7h0m-1.6-25.6h0m-5.1 18.6h0m2.5-8.2h0m8.6-7h0m-2.5-.8h0m13.9 .5h0m-11.7-4.8h0m-14.6 14h0m15.8 1.4h0m-5.6-15.8h0m7.7-7.3h0m-2.3 8.1h0m-9.1 3.3h0m-2.2 18h0m2.8-3.2h0m-3.8-20.4h0m5.3 18.7h0m-8.9-13.6h0m15.4 13.8h0m-1.9-8h0m-4-1.4h0m.4-6.9h0m-5.2-1.3h0m4.3-5.2h0m-3.4 5.2h0m3.6 19.9h0m-9.3-13.1h0m14.3-5.3h0m-4.8 10.4h0m-.3-6.9h0m-2 5.6h0m1.3 6.9h0m-6.5 3h0m8.6-1.6h0m-3.3-3.7h0m5-7.2h0m.1 8.5h0m-6.7-5.4h0m5.2 11.8h0m-4-18.3h0m-2.8-9.1h0m5.3-3.3h0m.7 13.7h0m-4.2-11h0m8.4 5.4h0m-14.9-7.3h0m12.2 25.8h0m4.6 1.7h0m-9.2-22h0m3.2 1.5h0m2.6 14.2h0m-6-3.5h0m.9-1.9h0m-2.1-7.9h0m-4.9 2.3h0m-2.8-7.5h0m18 15.1h0m-13.6-3.1h0m5.3 11.5h0m-10.3-27.1h0m20 15.9h0m-12.3-4.8h0m-1.2 1.1h0m6.3-2.9h0m3.8-1.9h0m-1.4-2.3h0m-5.7 12.8h0m0-6.1h0m-1.8 18.9h0m10.2-5.2h0m2.9-14.6h0m-9.1 4.9h0m-2.1 6.8h0m8.5-10.2h0m-12.6 1.3h0m5.8 6.3h0m3.2-11h0m-9-1.5h0m4.8 4.6h0m-5.7 3.3h0m11.7 15.3h0m-3.3-14.9h0m1-11.1h0m2.7-1.8h0m-6.6 6.6h0m7.9 19.3h0m-11.1-27.1h0m3.4 14.7h0m-2.3 6h0m6.6-9.8h0m4.5 8.6h0m-8.6-4.4h0m.8 4.7h0m-2.7-11.3h0m12 12.7h0m-17.7 4.6h0m2.7-2.3h0m9.2-14.1h0m-11-8.9h0m17.2 4.7h0m-14.1 18.1h0m5.5-9.2h0m-4.8 1.9h0m2.4 10.6h0m-7.8-5.5h0m10.4-4.6h0m-15.4 10h0m19.3-8.6h0m2.5-7.9h0m-1.4 22.6h0m2.1-12.4h0m-.8-3.5h0m-11 2h0m10-16.2h0m-9.9 16.2h0m12.1-6h0m-3.4 6.6h0m-11.4-17.3h0m14.5 12h0m-21.7-.4h0m13.8 9.1h0m-7.3-13.9h0m9.1 15.3h0m.1-7.5h0m2.8 .2h0m-10.4 12.7h0m2.7-17.2h0m1.8 16.6h0m-3.7-22.8h0m-3.2 2.9h0m2.3 2.9h0m13.5 6.5h0m-12.8-2.6h0m-2.2 1.7h0m6-10.9h0m1.4 10.3h0m-2.9-10.4h0m.6 2.5h0m5.3 6.2h0m-7.2 1.1h0m.2-10.9h0m5 7.4h0m-1.7 12.4h0m-8.8-3.1h0m10.4-3.6h0m-.6-10.9h0m2.9 8.8h0m-3.2 7.3h0m13.5-11.6h0m-16-9.4h0m6.3 6.5h0m-11.4 14.5h0m.8 1.2h0m3.7 12.9h0m1.6-14.4h0m-3-3.6h0m4.2-5.7h0m4.5-.6h0m-6.7-4.8h0m.6-8.3h0m6.3 7.5h0m-8.7 11.5h0m11.7-2.7h0m-14.7-5.5h0m11.2 24.9h0m10.5-17.3h0m-13.4-13.6h0m-5.8 11.6h0m2.9-12h0m10.5 5.4h0m-10.1 .4h0m-8.3 1h0m1.3-3h0m-4.6 6.1h0m13.6-12.6h0m-8.2 20.6h0m9-10h0m-12-9.5h0m7.7 24.3h0m-1.6-9.5h0m-3.3-1.3h0m.8-16.7h0m2.7 7h0m6.3 2.6h0m2.8-2.1h0m-1.6-1.2h0m7.1 18.5h0m-8.6-12.2h0m2.9-9h0m-7.8 15.9h0m7.5-12.8h0m.3 15.7h0m-5.1-13.2h0m5.4 12.3h0m-3.9 2h0m0-17.4h0m-4.2 11.2h0m-1.8 0h0m1.3-1.8h0m11.2 17.1h0m-15.3-16.9h0m10.9-14.7h0m-1.7 10.3h0m-11.2-13h0m8.3 15.7h0m-4.1-13.6h0m3.1 20h0m12-2.6h0m-8.9-1.8h0m5.8-9.2h0m-13.8-7.4h0m-1.5 13.7h0m5.4 9.2h0m1.6-4.3h0m1.5-7.6h0m12.7-2.7h0m-8.1 12.7h0m.1-17.7h0m.3 21.8h0m-11.5 13.6h0m4.5-35.4h0m1.9 .9h0m.3 14.2h0m2.2-4.1h0m-5.8 6.7h0m10-14.3h0m-11.5 3.7h0m3 5.8h0m1.6-1.6h0m5.9 4.6h0m-13-13.3h0m4.2 22.9h0m-8.4-29.6h0m7.9 14h0m9-10.1h0m-5.2 12.5h0m-1.7-14.2h0m2.8 18.2h0m-.3 3.8h0m2.1-3.6h0m4.5-12.2h0m-2.6 9h0m-11.7-13h0m2.1 8.3h0m7.4 7.2h0m1.3 5.7h0m1-22.4h0m-9.5 5h0m4.5 6.5h0m16.8 8.5h0m-8.2-5.4h0m-6.7-5.7h0m-4.6-2.7h0m5.9 17.4h0m-7.6-8.2h0m4.2 11.8h0m-.2-22.4h0m5 12.3h0m-10 8.1h0m14.2-18.8h0m-11.4 26.3h0m-6.4-22.2h0m3.5-7.1h0m-1.4 6.9h0m7 9.5h0m5.1-11.5h0m-12.5 .5h0m19.9 1.8h0m-9.5 1.2h0m-4.4-2.6h0m-13.7 7.3h0m11-17.1h0m12.3 8.6h0m-3.5 26h0m-.7-19.4h0m-9.1 10.9h0m5.7-19.2h0m-11.5 8h0m1.9 1.2h0m14.2 2.5h0m-8.8-5h0m15.5 6.4h0m-18.1-3.4h0m-1.3-18.4h0m13.4 3.4h0m-6 12.7h0m.5 5.5h0m-5.3-7.7h0m4.7-6.4h0m9.1-5.7h0m-12.1 12.9h0m-2.5 8.2h0m6.6 .5h0m-3.3 7.9h0m-2.7-21.5h0m5.9-8.3h0m.5 1.7h0m4.4 3.8h0m-5.8 6.8h0m9.8-6.9h0m-7.5 2.4h0m-4.5 1.6h0m6.1 3.1h0m-7.1-11.1h0m4.8-3h0m-6.3 5.6h0m4.9 14h0m-.8-2.3h0m1.3 0h0m0-14.5h0m-2.3 7.4h0m-1.5 6h0m9.4-13.2h0m-7.5 27.9h0m3.9-6.7h0m-7.8-16.6h0m2.5 3.3h0m1.7-.6h0m5.3-7.8h0m-11.1 .5h0m11.5 18.9h0m-3.4 5.3h0m4.9-20.2h0m-7.1 5.5h0m2.7-7.2h0m-2.4 31.6h0m11.2-35.1h0m-17.4 7.7h0m-9.2 16.6h0m7.6-26.4h0m-3.7 7.7h0m18.3 13.5h0m-8.7-7.9h0m5.6-6.4h0m-2.5 16.5h0m1.5 3.2h0m-14.5 1.2h0m11.2-15.1h0m4.7 10.2h0m-2-14.4h0m-7.3 16.8h0m11.9-9.1h0m1-9.4h0m-.8 5.8h0m-4.5 9.8h0m-5.8-11.2h0m5.2 4.1h0m-1.2 11.8h0m9.8-10.5h0m-7.1 .1h0m-1.5 12.3h0m3.3-11.7h0m-11.1-4.3h0m4.7-13.1h0m8.1 24.3h0m-.3 4.8h0m-14.7-21h0m6.9 .9h0m6.8-2.4h0m-2-.4h0m-12.7 15.6h0m16.8-12.3h0m-6 12.3h0m-5.7-18.3h0m11.9 10.8h0m-7.6 4.3h0m4.9-2.7h0m2.4-2.1h0m-11 10.5h0m-.3-10h0m4.9-4.2h0m-4 .5h0m-6.3-7.4h0m10.7 8.8h0m-5.5 7.9h0m11.4-13.3h0m-1.6 10.9h0m-9.7-8.9h0m9.6-6h0m-15.7 .9h0m17.4 2.9h0m-5.6 7.6h0m-1.5 .9h0m-8-2.3h0m8.1 17h0m-8.4-3.9h0m1.9-6.4h0m7.5-17.8h0m7.4 21.7h0m-9.3 3.3h0m-2.1-5.1h0m4.2-12.8h0m3.7 3.9h0m3.4-4.6h0m-14.3 17.1h0m10-11.8h0m-8.6-6.7h0m8.8 4.2h0m-6.1 11.8h0m10.9-1.2h0m-12.7 1.5h0m5.1-17h0m1.5 15.7h0m-8.3-11h0m5.2 15.4h0m-5.4 5.9h0m1.9-20.9h0m11.8 20.1h0m-19.3-21.2h0m12.6 14.9h0m-10.4-21h0m8.1 14h0m3.4-2.5h0m-4.1-4.7h0m1.4 9.7h0m3.9-9.1h0m-7.7 7.2h0m11.1-6.4h0m-16.9 7.8h0m10.6-15.4h0m4.6 26.3h0m-2-18.7h0m-4.9 2.3h0m-10.4 4h0m15.6 5.2h0m-8.6-13.3h0m6.1-7.6h0m.1 12.8h0m-12.9 15.4h0m7-23.3h0m3.8 15.6h0m1.8-17.9h0m8.6 12.3h0m-11.8-.9h0m-2.5-7h0m9.8 8.9h0m-5.8-6.5h0m2.1 15.1h0m-7.2-8h0m-6.5-10.1h0m14-7.9h0m-2.5 24.8h0m1-23.1h0m-.4 22.1h0m.5-2.1h0m-5.9-20h0m18.8 8.3h0m-14.1 8.6h0m2.5-2.9h0m-2.2-6.8h0m4.9 1.5h0m4.2 16.9h0m-5.3-17.4h0m-9.6-3.4h0m10.1 7.1h0m1.2-1.4h0m0 8.4h0m-12.6-8.7h0m6 18.2h0m5-10.3h0m7.2-10.5h0m-10.1 10.1h0m-5.9-10h0m8.4-8.4h0m-5.5 8h0m1.1 8.9h0m-1.7 1.4h0m8.4-11.4h0m-1.8-1.5h0m-2.9 11.4h0m-8.2-14.7h0m3.3 18.3h0m1.1-19.9h0m-6.1 11.1h0m14 5.9h0m-.1-11.3h0m-8.2-8.6h0m4.2 12.8h0m-1.7 12.5h0m2.2-20.4h0m1.8 10.8h0m-1.8-4.5h0m2.1-2.3h0m-6.7-.5h0m0 17.1h0m7-11.2h0m1.8-3.1h0m.5-2.5h0m-13.9-8.5h0m16.6 14.4h0m-12.4 15.1h0m1.4-15.5h0m10.4-3.7h0m-10.5 6.6h0m1.5-9.1h0m-1.2 10.8h0m2.5-15.1h0m3 21.3h0m-6.8-13.5h0m-3.2-4.2h0m8.3 2.2h0m7.8-.9h0m-11.4 9.4h0m10.7-4.3h0m-1.4 25.4h0m-6.6-33.2h0m15.4 5.5h0m-17.6-3.2h0m-6.4 3.5h0m6.1 7.6h0m6.7-.5h0m-13.9 2.6h0m15 6.8h0m-5.2-6.3h0m-3.5-7.4h0m8.5 3.6h0m-1-9.3h0m-1.2 1.1h0m1.6 2.9h0m-2.6 19.5h0m-4.9-22.4h0m.2 10.4h0m4.6 3.2h0m-4.8-.5h0m-2-17.3h0m.4 12.6h0m-7.1 3.2h0m10.2-13.3h0m.1-7.8h0m5.2 11.5h0m-13.8-4.9h0m10.2 2.3h0m.5 6h0m-2.5 10.6h0m-3.4-13.2h0m10.6-4.1h0m-20.4 9.9h0m3.9 7.8h0m16.2-16h0m-2.1 5.2h0m-1.2 7h0m-.5-19.9h0m-15.7 6h0m17.1 3h0m-2.9 4h0m2.3 15h0m-.1-7.7h0m-3.6 7.1h0m12.3-5h0m-5.1-14.3h0m-4.7-9h0m-5.5 19.9h0m5.3-10.2h0m4 5.6h0m-1.7 12h0m-.1-29h0m-2.1 18.2h0m1.2 11.1h0m.3-18.2h0m7.2 3.6h0m-7.2 6.2h0m-9.1-4.2h0m8.3-2.9h0m1.3 9.9h0m1.3-2.7h0m-2.7-11.3h0m-8.7 3.3h0m11.2-12.7h0m4.8 27.4h0m-.6-21.3h0m-11.8 23.1h0m13.6-10.7h0m-3.2-3.5h0m-9-6.3h0m1.7 14h0m1.1-7.1h0m7.5-11.1h0m-10 8.8h0m2.1-3h0m4.3-4.8h0m-.1 5.6h0m-10.6-4.6h0m7.1-.7h0m3.3-3.9h0m.8 9.2h0m-.5-.5h0m-11.2-5.5h0m3.8 15h0m-.6 4.4h0m-.9-5.1h0m9.8-7.2h0m-15.1 4.3h0m16 1.3h0m3.6 8.2h0m-10.3-7.9h0m-6.2-2.8h0m11 5.7h0m-8.7-3.2h0m1.4 2.7h0m0 5.7h0m.8-16.7h0m-3.5-4.6h0m-8.6 7.4h0m17.2 20.6h0m-8-15.6h0m5-1.2h0m-8.5-.5h0m-2.4-1.9h0m5.6-1.1h0m3.1-4h0m9.5 13.2h0m-13.6-7h0m-1.2 13.8h0m5.9-19.5h0m8.8-2.2h0m-1 10.8h0m-1.5-6.5h0m-5.7 1.6h0m3.2 4.1h0m-3.3 2.7h0m-1.6-19.4h0m6.9 6.1h0m-13.7 5.1h0m12.3 6.6h0m9.7-.5h0m-11.4-11.3h0m-5.1 9.5h0m11.2 .8h0m-5.2-10.5h0m2 17.4h0m2.7-13.3h0m4.3 2.3h0m-8.9-10h0m7.5 3h0m-14.4 23.8h0m4.7-8h0m-6.8-22.1h0m9.7 15.8h0m-1.5-4.4h0m.3 6.5h0m-1.5-14.1h0m-8.6 16.6h0m17.4 8.7h0m3-13.1h0m-17.9-8.3h0m1.4 1.6h0m5.5 23.1h0m1-18h0m-.4 15.6h0m-.3-18.6h0m-2 15.5h0m3 1.3h0m.4-15h0m-3.3 20.5h0m4.4-5.9h0m-3.5-11.3h0m3.5 6.1h0m.1-4.2h0m-8.1-11.3h0m1.7-1.4h0m.2 7.5h0m-2.9 7.1h0m10-7.8h0m-3.8 18.3h0m7.3-4.9h0m-7.4-20.5h0m-3.7-.1h0m-4.3 13.9h0m6.5 .9h0m3.5-7.5h0m-13-4.8h0m5.9 7.7h0m-2.2-2h0m0-7h0m1.1-3.2h0m5 4.4h0m-5.5-4h0m5.7 8h0m1.4 3.8h0m4.8-2h0m-9 9.4h0m-5-9.6h0m6.9 7.8h0m-2.2 11.7h0m-1.5-3.5h0m10.4-11.5h0m-.8-11.3h0m-8.2 3.7h0m12.3 1.4h0m-7.4 4.9h0m-1.5-15.7h0m9.1 16.2h0m-13.8-10h0m.3-.5h0m-.1 14.8h0m4.9 5.4h0m-4.8-20.2h0m-4.8-4h0m14.4 22.8h0m-8.5-19.5h0m-.4 24.1h0m6.3-13.2h0m-4.1-3.7h0m1.6-1.4h0m-.9-11.4h0m-7 16.6h0m2.3 2.4h0m8.3-3.8h0m-11.6-4.3h0m13.5 1.8h0m-13.5 1.7h0m7.4 4.5h0m1.2-6.1h0m-.6 6.9h0m-.7-14.2h0m7.8 9.9h0m-8.1-12.3h0m2.5 3.1h0m-18.8 4h0m14.3 13.3h0m-5.7-18.8h0m1.2 .1h0m8.6 8.2h0m1.2 .6h0m1.1-7.1h0m-.6 6.8h0m-4.3 6.9h0m6.9 5.5h0m4.7-15.6h0m-17.7 20.2h0m13.5-11.8h0m-5.3 2.1h0m4.2 2.6h0m-3.6-12.8h0m-3.9 14.1h0m-1.9-15.6h0m9.4 19h0m-6.1-5.5h0m8.6-8.5h0m-.3-2.3h0m-6.7 2.8h0m5.2 5h0m-6.2 11.5h0m-2.4-.5h0m-9.4-23.2h0m21.7 14.8h0m-11.1-18.4h0m-6.5 9h0m10.6 2.6h0m-7.7-5h0m9.4 5.5h0m-4.6-14.2h0m-14.4 19.1h0m25.4-3.5h0m-3-14.7h0m-3.5 9.3h0m-9.8 1.8h0m4.4-11.2h0m4.4 25.5h0m-13.6-11h0m3.5-7.5h0m3.8 13.3h0m6.1-14.1h0m-7.7 14.6h0m11.4 2.2h0m-12.1-10.3h0m10.5 4.7h0m-6.8 11.5h0m1.3-1.7h0m.9-9.9h0m8.8-4.6h0m-4-6.9h0m-4.7 4.1h0m1.1-4.2h0m4.4 15.9h0m-12.3-24h0m17.6 10.4h0m-10.7 .4h0m1.8 1.6h0m-.5-6.2h0m5.1 12.7h0m-1.4-12.6h0m.6 26.2h0m-18.9-10.6h0m25.1 4.9h0m-8.1-.7h0m14-4.3h0m-20.1-13.5h0m4.6 16.8h0m-7.1-6.7h0m6.7-.1h0m9.4 16.2h0m-19-29.9h0m9.7 10.7h0m-6.5-12.8h0m6.9 25.1h0m-1.7-3h0m-2.9 0h0m-3.1-14.4h0m2.3-8h0m4.4 13.9h0m-3.1 2.5h0m8.6-4.6h0m-6.5-.6h0m-4.5 12h0m9.5-21h0m0-1.5h0m-8.7 11.1h0m-3.2 8.5h0m6.8-3h0m-6.2-7h0m7.5-4.1h0m1.9-3.1h0m0 11.5h0m.1-.1h0m1.6 1.4h0m-2.9 .1h0m-12.4-11.7h0m15.9 8.4h0m-15.1-8.5h0m11.4 3h0m-3.3 13.5h0m.6-19.3h0m.9 17.5h0m-2.5 3.3h0m12.3-1.9h0m-15.3-17h0m23.7 14.5h0m-18.2-.5h0m-.1 7.6h0m-9 .8h0m13.1-26.9h0m3 14.8h0m-11.7-10.9h0m-2.6 6.9h0m6.2 .7h0m1 10.4h0m2.7-12.1h0m3.9 14.1h0m-8.6-7.5h0m-5.7-6.8h0m7.7 4.8h0m2.1 14.8h0m5.8-8.8h0m-7.3-9h0m3.9-8.7h0m-1.1 19.4h0m-9.3-1.6h0m3 4.1h0m-.8-6.7h0m-10.9-4.9h0m20.9 10.1h0m-.2-11.4h0m-12.7 .8h0m10.2 7h0m-12.1-14.2h0m14.8-1.2h0m9.8 5.9h0m-12.9-2.7h0m-4.3 9.5h0m-3.4 5h0m-2.2-8.3h0m-1.3-10.3h0m7.4 16.1h0m10.8-2.4h0m-7.4-1.6h0m1.5-13.1h0m-9.9 19.9h0m7.8-2.3h0m-1.7-8.1h0m-3 25.2h0m3-26.4h0m-11 2h0m16.2 7.1h0m-8.1 10.7h0m5.7-28.7h0m-3.7 2.4h0m1.4 5.8h0m2.9-.5h0m9.5-5h0m-16.6 17h0m1.8-16.7h0m-3.5 4.9h0m11.3 17.2h0m-3.6-23.4h0m1.8 10.4h0m7.5-6.8h0m-.4 7h0m-4-5h0m2 3.4h0m-15.8 .1h0m2.1-8.6h0m6.6 15.6h0m3.7-4.8h0m-11.2 15h0m18.9-6.9h0m-17.4-14.6h0m5.1 9.5h0m-2.2-8.9h0m6.7 20.1h0m-16.3-22.2h0m10.8-3.3h0m-5.8 3.3h0m3.9 14.2h0m2.4-10.6h0m1.4 17.3h0m-1.6-7.1h0m-7.2 8.5h0m2.9-25.6h0m13.3 29.4h0m-13-29.1h0m3.8 15.5h0m-3.1 3.3h0m-5.8 3.8h0m12-23.5h0m-3.1 7.9h0m-1.5 9.6h0m5.7-16.2h0m2.7-4.5h0m-10.8 8.8h0m5.9 9.2h0m-10.8 1.6h0m9.8-13.7h0m-2 12.1h0m0 8.7h0m7.1-3.7h0m-7.6-5.2h0m3.8 3.5h0m-7.6-.8h0m14.1-2.1h0m-8.7-6.7h0m4.3 .2h0m-6 7.5h0m7.7-2.7h0m-2.6 1.1h0m-2.5 8h0m7.3-4.7h0m-12.1-1.1h0m15.4 1.2h0m-9.7-9.8h0m2.9 6.9h0m-5.6-7.6h0m5.2 22.1h0m-.7-24.3h0m4.7 6.2h0m-15.7 9.5h0m9.2-16.8h0m-4.1 7.6h0m-6.1 2.8h0m17.4-11.6h0m-7.4 2.2h0m2.7 5.4h0m-2.4 3.8h0m-.1 7.8h0m4.3 2.3h0m-15.9-14.9h0m20.8-5.5h0m-4 18.2h0m-16.1-25.7h0m.5 9.6h0m1.8 6.5h0m5.2 3.2h0m4.5-10h0m-2.5 9.6h0m-1.4-7.6h0m.9-2.9h0m2.6 22.8h0m-6.3-25.6h0m2.4-2.7h0m.5 11h0m6.3 3.1h0m-12.3 4.5h0m.9 1.4h0m6.1-4.6h0m-.5 12.2h0m-1.8-16.6h0m3.8 8.8h0m2.4-10.7h0m5.6 22h0m-12.6-5h0m3.3-15.1h0m.8-12.7h0m-1.5 2h0m3.2 19.2h0m-7.5-15.5h0m4.2 16.6h0m5.3-7.9h0m5.4 10.5h0m-14.6-4.7h0m15 1.9h0m-15.5-14.2h0m2 4.5h0m-1.8-10.8h0m1.4 16.2h0m10.6-2.9h0m-2.6-10.7h0m-3.3 9.3h0m2.9 8.9h0m-11.9-20.7h0m11.2 14.2h0m.2 17.2h0m-7.3-22.8h0m-4.8-3h0m4-5.7h0m-.6 13.1h0m2.7-.9h0m-1-2.2h0m2.8 4.7h0m-3.6-1.6h0m-.5 .6h0m-1-.4h0m7.2 4.9h0m-6.9-19.6h0m7.2 19.8h0m-9-4.9h0m7-7.9h0m-.6 9.1h0m-1.7-10.4h0m-5.1 3.3h0m1.7-5.7h0m7.1-4.1h0m3.3 21h0m-9.9-13.9h0m2 9.4h0m.6-5.2h0m-7.6-10.1h0m3.7 20.6h0m8.2 2.1h0m-4.4-6.5h0m-5.3-16.2h0m6.8 13.8h0m-6.5-11.9h0m6.3 2.9h0m6 11.8h0m2.6-7.6h0m.8 10.1h0m-5.8-14.6h0m-12.4 18.9h0m12.2-2.2h0m-1.3 .1h0m-3.3 2.2h0m5.7-15.7h0m-11 12.1h0m14.4 3.7h0m-10.8-1.1h0m7.1 1.8h0m-3.4-2.9h0m-4.2-12.4h0m8.9-2.1h0m-8.6-1h0m2.5 10h0m10.2-6.9h0m-14.2 10.2h0m2.3-16.4h0m-1.3 12.3h0m-3.4 2.1h0m14.5-1.7h0m-4.2-.5h0m-2.9-1.3h0m1 1.7h0m8.2-2.2h0m-3.3 8.8h0m-8.6-14.9h0m-2.4 15.7h0m-1.7-.3h0m15 9.5h0m-10.7-24.1h0m6.7 15.7h0m7.4-13.7h0m-8.7 7.9h0m.5-7.9h0m.6 26.8h0m3.8-6.7h0m-5.8-22h0m1.2-8.9h0m-6.3 5.8h0m-.9 2.9h0m13.3 20.2h0m-8.6-17.9h0m-1.3 18.3h0m-4-19.5h0m6.5 18.2h0m-4-14.1h0m7.3-8.8h0m-8.2 1.6h0m.3 2.4h0m-1.1-9.2h0m-10.7 13.2h0m13.5 6h0m-.9-17.7h0m2.3 16.3h0m-.1-3.7h0m-7.4 5.9h0m9.2-11.8h0m-7.8 6h0m1.9-2.9h0m-5.3 3h0m.5-15.1h0m22.6 12.6h0m-6.5 10.5h0m1.6-9h0m-8.4 3.6h0m-6.8 7h0m11.9 2.4h0m-6.9-10.9h0m3.4-3.5h0m1.8-6.4h0m3.2-1.2h0m-12.5 6.5h0m0 .4h0m-4.8 1.7h0m10.4-3.9h0m-2.3 8.2h0m-6.9 8h0m6.1-13.5h0m1.4 1.9h0m2 12.7h0m13-22h0m-14.4 9.7h0m-2.1 7.9h0m7.7-10.7h0m-7.8-8.4h0m13.6 19h0m-11.2-9h0m-7.2 11.2h0m3.1-16.6h0m9.7 2.1h0m2.4 9.9h0m-11.7 6.7h0m5.7-24.7h0m2.2 12.1h0m3.4-.3h0m-5.2 6.7h0m2.1-10h0m1.3-2.7h0m.7 16.8h0m-3.9-22.4h0m3.1 15.2h0m-9.1-17.4h0m11.9 13.1h0m-3.1-4.7h0m6.2 6.6h0m-19.9 2.7h0m10.3-6.1h0m3 14.2h0m-11.6-13.8h0m6.6 2.6h0m6.5 11.7h0m-19.5-24.4h0m15 8.4h0m-4.7-4.9h0m8.1 19.7h0m-5.8-9.3h0m4.7 3.6h0m-1.2 17.9h0m-5.5-29.7h0m14.4 12.8h0m-8-.6h0m-5.7-2.9h0m-4.4-1.6h0m9.9 5.8h0m-7.8-4.9h0m1.4-4.2h0m1.9 5.2h0m6.9 .2h0m-10.7 9h0m-1.1-14.9h0m2.1 14.7h0m2 .8h0m-.3-3h0m3.2-11.8h0m-1.4 3h0m7.8 5h0m-9.4 2.3h0m-4.2-2h0m3.1-.5h0m-.3 6.4h0m-.3-19.6h0m-1.7 10.1h0m4.7 18.5h0m.3-4.7h0m-3.4-19.1h0m6.3-4.4h0m-1 18.3h0m-.3-19.5h0m-16.3 1.8h0m5.7 8.2h0m9.8-7.5h0m-1.7 2.2h0m7.8 17.8h0m-4.2-.1h0m8.2-12.4h0m-8.5-7.5h0m.1 7h0m-.8 4.4h0m-5.3 2.2h0m-1.3-2.8h0m11.7 4.8h0m-9-11.5h0m6.1 1.3h0m-9.5-13.3h0m5.5 22.5h0m-12.3-20.1h0m3 7.7h0m9.7 4.8h0m-5.8 16.1h0m-.3-11.2h0m4.8-15.7h0m11.5 1.2h0m-14.1 8h0m.8 21.8h0m2.1-25h0m4.3-3.9h0m-9.7 18.7h0m4.3-15.8h0m-5.7-8.2h0m2.8 9.3h0m10 5.9h0m-3.1-1.1h0m-5.5-9.9h0m7.2 11.7h0m-.4-4.4h0m-9.7-1h0m4.4 4.9h0m6.5 .3h0m3.9-8h0m-2.5 8.8h0m-7.7-10h0m2.5 17.7h0m7.9-12h0m-6.5 10.8h0m-9.3 7.3h0m4.4-18.3h0m12.5 13.5h0m-8.8-17.5h0m2.7 12.9h0m2.4-6.3h0m-4.1 15.6h0m-2.6-27.7h0m-1.1 9.8h0m6.5 6.4h0m-1.3 2h0m-8.6-5.5h0m.6-5.5h0m4.5 5.8h0m3.4-3.4h0m2.8-2.5h0m-10.5 12.7h0m3.5 2.2h0m-.8-18.4h0m3.4-5.1h0m-9.2 22.9h0m11.3-7.6h0m.4 2.1h0m-6.2-1.8h0m4.6 3.9h0m-.2-.8h0m-2.4-9.5h0m6.4 7.6h0m-9.7-19.9h0m4.5 8.6h0m6.4 2.9h0m-11.4-2.2h0m2.1-2h0m-.5 8.9h0m-5.4-9.6h0m5 9.8h0m1-10.6h0m13.3 11.3h0m-15.6 12.4h0m-6.7-18.4h0m10.5 11.7h0m-3.9-21.3h0m.4 8.7h0m-6.1 18.1h0m11.1-17.9h0m-12.9 9.1h0m4.9-3h0m-2.1-6.8h0m26.5 11h0m-18.7 3.1h0m-4.3 1.9h0m-4-2.2h0m9.7-20.5h0m3.4-1.2h0m-2.6 25.7h0m8.1-8.9h0m-1.6 .4h0m-12.6 8.9h0m12.7 6.3h0m-2.8-18.3h0m-3.2 1.7h0m-4.1-11.7h0m8.5 5.6h0m-3.3 7.6h0m4.4-5.6h0m-8.7 10.1h0m10.8-3.3h0m-16.7 2.2h0m1.3-9.3h0m12.4 5.7h0m-3.2-6.3h0m7.7 0h0m-9.1 3.5h0m4.7 3.7h0m-5.9 1.4h0m2.7-5.9h0m-4.6 5.1h0m.2-10.6h0m-.7 9.5h0m0-14h0m5.4 5.1h0m-5.6 .1h0m5.8 21.3h0m2.9-25.5h0m-10.8 5.6h0m-2.9 9.3h0m10.6-6.9h0m-5.7 7.6h0m1.9-11.4h0m-8.6 15.9h0m11.3-4.1h0m-7.5 5.3h0m1.3-2h0m2.2-7.8h0m6.9 .5h0m-11.5-8.6h0m5 11.8h0m9.9 2.6h0m-9.3-11.1h0m-10.4-3.9h0m15.4 5.7h0m-3.6 9.8h0m-2.4 7.3h0m-.9-16.9h0m1.3-3.8h0m-.9-2.2h0m3.3 8.6h0m1.6-12.1h0m-.2 2.1h0m-12.6 8.7h0m15.2-10.8h0m-8.6 4h0m4.3 1.7h0m-1.8 9.2h0m-1 10.1h0m1.2-19.5h0m9.3 5.3h0m-8.9 20.2h0m4.2-23h0m1.3 .3h0m-.5-8.5h0m9.8 15.2h0m-10.6-13.8h0m-8.3 14.6h0m.3-3.6h0m-4.3-12.7h0m3 8.4h0m1.4 4.1h0m-1.3-16.6h0m3 2h0m16.3 8.1h0m-7.6 8.8h0m-10.9 7.8h0m-10.8-4.4h0m20.4-10.5h0m-12.2 9.2h0m-4.9-13.9h0m4.4 .5h0m3.9 9.2h0m3.7 2.8h0m10.1-9.1h0m-16.6 14.7h0m11.8 1.4h0m-1.8-.4h0m3.7-18.9h0m-5.6 7.1h0m-6 6.7h0m6.5 3.1h0m-5.4-18.9h0m7 6.3h0m-4.4 15.7h0m11.1-15.8h0m-12 4.4h0m4 4.4h0m5.3-14h0m-10.9 31.5h0m.3-30.9h0m7.3-4.8h0m-.9-1.6h0m1.3 17h0m-4.3-17.3h0m5 16.2h0m-8.3 1.3h0m11.5 6.6h0m-11.9 2.5h0m-1.4-7.6h0m9.2-6.9h0m10.9-12.4h0m-18.9 25.8h0m3.1-16.9h0m-6.3 4.3h0m-1.9 .1h0m18.8-5.4h0m-12.2 5.8h0m4.8 15.1h0m-5.5-8.6h0m1.6 4.3h0m5.4-2.3h0m2.4 7.9h0m-12.5-15.8h0m2-2.8h0m2.2 17.1h0m-3-6.5h0m-2.4-.9h0m6.5-4.7h0m3.3 .5h0m1.8-9.4h0m-3.9 1.8h0m-5.1 18.4h0m13.9-13.4h0m-12.6 11.8h0m6.2-18h0m-2.7-.2h0m2.9-6.9h0m-6.6 19.8h0m-4.5-21.2h0m8.5 17.5h0m7.6 6.3h0m-8.2-5.1h0m-1.2-9.5h0m5.3 14h0m-13.3-2.4h0m5.1-13.4h0m-2.1 2.2h0m12.8 11h0m-8.6 11.2h0m2.7-18.3h0m-5.4 1.1h0m-6.4 8h0m.1-12.2h0m3.4 10.4h0m7.2-17.3h0m1.5 1h0m10.2 5.7h0m-16.4-7.1h0m6.2 16.7h0m-2.4-1h0m3.9 4.6h0m-9.7 4h0m6.1-10.5h0m-4.1 1.6h0m-2.1 4h0m11 .2h0m-13.1-10.3h0m15.6-2.8h0m9.8 3.7h0m-5.6 2.4h0m-9.6 2.1h0m-4.8 2.1h0m13.4-12h0m-16 5.2h0m2.1 6.6h0m11.3-4.7h0m4.6 11.4h0m-6.8-.8h0m-2.4-5.8h0m11.2-6.1h0m-3.5-.2h0m-2.6-.2h0m1.9-4.9h0m-11.8 21h0m8.3-15.5h0m-4.6 3.9h0m-7.8 6.9h0m10.5 5.6h0m9.9-16.6h0m-21.9 1.8h0m11.8 12.6h0m3.1-13.2h0m-6.9-3.2h0m3.9 13.1h0m-4.6 0h0m-5.8 7.1h0m9.8-29.7h0m-1.3 10.3h0m-1.9 3.4h0m2.2-10.5h0m-5.5 22.9h0m14.2 4.9h0m-5.7-25.8h0m-5.5-2.2h0m-2.3 .2h0m-2.1 .5h0m4.5 28h0m-5.5-19.4h0m1.5-3.1h0m-.7-10.3h0m7.4 9.5h0m-.1 1.7h0m4.5 15.3h0m-16.4-15.5h0m10.8 1.6h0m.8 11.2h0m-6.2-2.9h0m2.8-16h0m6.2 11.2h0m4.4 12.1h0m-8.8-5.8h0m8-3.2h0m-4.3-14.4h0m-4 14.3h0m-2.6 12.4h0m2.4-26.6h0m8.2 2.9h0m-15.8-9h0m12.8 18.1h0m2.5-14.4h0m-10.2 3.3h0m3.6 25.4h0m.6-23.3h0m.2 24h0m-.4-25.3h0m-5.4-4.2h0m8 6h0m-1 .8h0m7.1 15.2h0m-6.5-21.6h0m-3.1 13.5h0m-5.9-7.2h0m5.9 2.9h0m4.6 4.7h0m-4.8 15.1h0m-9-11.3h0m4.9-10.1h0m10.6-2.8h0m-5.9 7.3h0m-1.7-.2h0m-2.6-2.7h0m1.1-3.1h0m-8.2 3.8h0m10.7 1.8h0m-6 3.6h0m10.4-13.3h0m-1.8 2.1h0m-9.6 .9h0m3-7.5h0m-3.1 9.4h0m8.1 17.5h0m7.4-22.1h0m-12.2 16.7h0m2.5-17.6h0m-6.2 16.9h0m6 3.7h0m1.3-3h0m4.3-3.5h0m-7.4 7.9h0m-2.9 5.9h0m10.5-15.4h0m1-2.8h0m-6-15.2h0m1.5 24.6h0m-.1-19.8h0m-6 12.5h0m3.1 10.5h0m2.6-22.2h0m-1.5 3.6h0m-.9 8.4h0m4.2 3.1h0m-7 6.2h0m6.6-11.1h0m-13.4 2.8h0m13.3-13.4h0m-.9 15.5h0m6.6-4h0m-11.6-4.5h0m8.7 17h0m-8.3-15.2h0m3.3 16.4h0m7.7-23h0m-8.4-5.8h0m.2 19.7h0m3.6-10.9h0m-4-6.4h0m-4.2 18.4h0m5.4 6h0m-2.2-13.6h0m.3 6.1h0m9.7-3.8h0m-15.3 10.4h0m5.8 .6h0m3-10h0m-4.1 0h0m9.4 2.4h0m-6.4-10.6h0m6.8 12.7h0m-4.8-4.2h0m-3.4 1.5h0m.3-1.4h0m-12.1-5.7h0m16.4 9.3h0m-4.6-5.8h0m-.3 4.4h0m10.5-5.9h0m-12.6-12.3h0m-7 11h0m16.6-9.7h0m-6.1 16.3h0m-4.5 7.6h0m5.5 5.4h0m5.4-23.8h0m-4.5 10.7h0m-11.7-5.4h0m6.2 9.7h0m-4.8-7.9h0m7.9-15.3h0m5.5 20.3h0m-8.5 5.1h0m8.3-13.2h0m-6.6-7.7h0m2.1 9.4h0m2.9 8.1h0m-16.2-11.6h0m19.4 10.6h0m-3.7-2.4h0m4.8-.9h0m-7.7-8.6h0m-1.1-4.5h0m-3.4 1.8h0m-11.6 17.7h0m17 1.6h0m1.1-18.4h0m-2 4.2h0m2.1 15.5h0m-3-9.8h0m-3.9-4.8h0m.8 .4h0m3.7 11.7h0m8.5-4.3h0m-11.2 3.2h0m-6.6 6.4h0m-3.7-2.1h0m12.9-22.5h0m-11.5 2.4h0m13.1-8h0m7.4 24.4h0m-8.3-8h0m15.6-6.9h0m-11.3 15.6h0m2.2-8.2h0m-19.8-7.6h0m9.6 15.3h0m-.2-6.3h0m13-8.5h0m-6.6 7.2h0m2.1-17.9h0m-2.1 8.8h0m-.7-3.5h0m-9.7 15.2h0m3.1-2.3h0m7.6 8.3h0m14.7-11.9h0m-19.1 8.3h0m3.8 .2h0m-7.1 4.8h0m3.1 5.6h0m-2.4-21.8h0m15.1-.1h0m-16.8 5.4h0m7.4-3.5h0m-2.7 10.6h0m18.2-8.1h0m-16.2-2.3h0m4.3-10.1h0m5.4 6.6h0m-5.2 15.9h0m-7.3-15.7h0m2.5 1h0m-3.5 .5h0m3.1 4.1h0m5.1-4.8h0m-7.7 13.8h0m5.8 10h0m8.2-9h0m-9.1-24.4h0m5.1 21.7h0m-1.2-1.1h0m-12.2-21h0m-5.3 19.8h0m10.1-11h0m6.6 8.3h0m-9.9-.7h0m6.5-11.7h0m.5 14.5h0m-1.7-4h0m-1.5-14.4h0m-5.3 20.5h0m10.3-3.6h0m-3.5 18.1h0m-7.7-23.9h0m-2.8-7.8h0m11.6 9.6h0m-14.1-14.2h0m5.2 25.3h0m8.1-10h0m-5.4 2.4h0m9.4 19.1h0m-2.7-.5h0m1.2-7.7h0m8.3-2.7h0m-8 3.8h0m-8.3-3h0m2.4 .3h0m7.9-7.4h0m-10.6 6.9h0m9.2-13.5h0m-9.7 20.3h0m-.4-4.9h0m17.7 3.6h0m-9-26.4h0m-4.8 24.7h0m10.7-2.4h0m-13.1-6.7h0m10.1 11.4h0m-7.6-3.9h0m4.2-2.3h0m-13.2-3.1h0m13 2.9h0m2.7 .3h0m2 4.3h0m-7.8-1.7h0m7.3 4.5h0m-12-10h0m2.7 8h0m12.8-1.5h0m1.1 3.6h0m-12.7-3.2h0m-4.4 5.5h0m15.7-1.6h0m-11.6-11.5h0m15.1-4h0m-11.2 8.3h0m1.9-5.8h0m-.6 11.4h0m-20.2-4.4h0m7.6-2.5h0m25-14.6h0m-16.7 11.6h0m-4.6 1.9h0m1.8 7.6h0m-6.3-3.9h0m17 6.9h0m-8.7-1.3h0m-3.3-.2h0m7.8-3.8h0m-9.3-4.7h0m.8 0h0m13.2-9.5h0m-10.8 10.2h0m6.6-3.6h0m-7.9 1.9h0m5.8 5.8h0m-8.3-11.5h0m11.5 20.7h0m-5.8-12.6h0m-4-3.1h0m-.8 2.3h0m-2.2 2.7h0m11 4h0m-6.5-3.1h0m-1.2-3.4h0m3.9 7.6h0m5.9-4.9h0m.5-14.8h0m-13.6 3.1h0m18.7 6.5h0m-6.9-2.4h0m1.1-3h0m3.7 12.3h0m-8-1.4h0m2.2-20.2h0m-.8 26.3h0m2.5-6h0m-10.1 6.7h0m9.1-9.3h0m-9.5 3.3h0m8.8-22.1h0m9.3 26.6h0m-17.5-2.9h0m5.2 .2h0m-9.1-11.1h0m5-11.2h0m5.3 13.8h0m1.1 4.3h0m-5.2-7.3h0m15.1-10.6h0m-6.5 20.2h0m2.5-8h0m-12.3 5.8h0m17.1-19.5h0m-11.8-6.7h0m-2.3 19.7h0m3.5 .1h0m-10.6 5.3h0m16.8-13.8h0m-15.8 1.9h0m1.1-.5h0m1.5 20.7h0m-10.9-9.1h0m16.3-4.7h0m10 6.6h0m-30.4 4.5h0m13.9-21.3h0m6.6 13.2h0m-12.2 9.2h0m17.3-28.5h0m-22 12.2h0m13.3 .5h0m-5.1-2.6h0m.5 22.1h0m9.2-7h0m15-6.7h0m1.5-9.9h0m-19.9 3.9h0m9.7 12.6h0m-10.2 4h0m10.6-10.5h0m-4.2 15.8h0m-11.7-9.7h0m10.8-15.1h0m-6.5-15.1h0m-8.2 32h0m10.9-14.9h0m-3 9.4h0m7.2-3.6h0m-2.4 6h0m3.4-8h0m-11.2 2h0m-6.2 11.4h0m10.3-11.5h0m-8 3.7h0m9.7-8.1h0m.3 15.5h0m-5.1-8.1h0m-13.6 2.2h0m26.2 6.3h0m-13.5-6.6h0m5.3-7.4h0m.3 .7h0m-.6 11.8h0m1.6-9.5h0m.2 8.5h0m4 1.5h0m1-2.5h0m2.9-2.8h0m-2.1 3.9h0m-15.6-5.9h0m10.1-2.5h0m-.5 8.1h0m-1.1-21.2h0m1.5 10.8h0m18.5 13.2h0m-26.1-19.5h0m-2.8 12.4h0m19.1-6.9h0m-9.1 6.9h0m-11.6 11.5h0m11.5-9.7h0m-6.6 1.4h0m6.2-6.8h0m-4.3 11.4h0m-9.6-1.2h0m19.9-1.8h0m-7.3-13.1h0m4 8.9h0m-.7 11.8h0m-2.6-14h0m6.6 4.9h0m-9.1-.2h0m-1.6-5.8h0m2.1-5.2h0m8.5 2.9h0m-4.7-6h0m4.9 .2h0m3.2 14.4h0m-15.6 2.3h0m2.7-4.9h0m-2.7-5.5h0m7.6 2.1h0m16.3 5.1h0m-16.3-3.7h0m-2.3 .7h0m2.1-2h0m4.6 1h0m-11 6.1h0m8.1-4.2h0m-3.6-2.6h0m5.6 1.7h0m-7.7 2.6h0m11.9-2.1h0m-3.9-8.8h0m20.6 6.9h0m-24.6 8.4h0m-10.6-7.1h0m23.7-3.9h0m-15.4 8.4h0m2.2-3.5h0m.4-9.1h0m-10.6 14h0m-8.4-7.2h0m23.9-13.8h0m6.9 27.9h0m-13-24.1h0m7.7 9.1h0m-6.6 6.3h0m-3.6 2.7h0m.8 3.6h0m3.5 1.2h0m-8.9-8.3h0m-2.8-16.9h0m-3.9 19.3h0m16.7-17.5h0m-2.1 1h0m7.7 9.3h0m-1.7 11.1h0m2.1-12.9h0m-7.6 3.7h0m1.1 4.9h0m2.4-17h0m-1.1-2.4h0m-2.7 14.5h0m6.2-9.8h0m-1 9h0m-10.4-5.5h0m11.6 7.6h0m-10.7-13.2h0m2 7.8h0m9 .4h0m-7 11.1h0m6.7 1.3h0m-11.7-13.9h0m19 12.4h0m-18.3-29.1h0m-1.2 30h0m6.8 .8h0m-4.6-20.2h0m-2.8 15.5h0m8 2h0m.5-8.5h0m-1.1-.5h0m7.9-6h0m-1.6 6.9h0m-6.7 2.4h0m1-.3h0m-14.1-7.4h0m12.3 10.9h0m-6.5-16.1h0m14.1 20.4h0m-7.5-6.1h0m14.9-18.8h0m-11.5 10.9h0m-9.7 9.9h0m15.7 4.9h0m-8.8-8.6h0m5.6 6.8h0m-12.5 1.9h0m2.3-17.2h0m-5.2-16.8h0m4.4 23.9h0m10.3-6.2h0m-.4 11.3h0m-8.2-4.9h0m4.4-6.6h0m-7.5-9h0m11.5 22.9h0m-13.4-6.3h0m2.8 6.1h0m-1.5-6.6h0m-1.4-6.9h0m12 7.5h0m-4.6 12.5h0m2.4-23.8h0m-12.6 14.4h0m8.6-5.1h0m3.5-6.8h0m5.3 19.4h0m-10.7-18.6h0m1.7 15.1h0m16.9-9.9h0m-19.1-21.2h0m4.1 16.5h0m1.4 5.3h0m1.4-.2h0m-3 1h0m4.5-18.2h0m-17.1 19.5h0m14.2-2h0m6.2-5.9h0m-17.3 2.8h0m9.1 13.4h0m-9.9-6.4h0m4-14.5h0m5.9 11.7h0m.3 2.8h0m-2.7 8.4h0m1.4-10.7h0m4.4-5.6h0m-3.2-1.3h0m14.8 11.8h0m-13.6-22.1h0m-2.8 24.5h0m5.8 2h0m-6.3-3.6h0m1.3-6.8h0m2.7-7.3h0m-7.4-.7h0m13.6-3.1h0m-13.3 7.8h0m3.1 13h0m1.6-4.4h0m2.5 .2h0m8.5-24h0m-19.5 30.2h0m8.2-1.1h0m10.1-7.4h0m-2.1 8.4h0m-15-15.2h0m-2.9 13.7h0m9-11.4h0m11.4-3.3h0m-10.5 9.8h0m-1.2 5.4h0m16.3 2.9h0m-14.7-12.6h0m-12 12.2h0m6.3-22.9h0m6.8-3.5h0m-.2 18.2h0m6.3-3.1h0m2.2 10.5h0m-8.2-11.6h0m-3.3 13.9h0m-1.1-12.9h0m7.1 .2h0m10.3-4.1h0m-7.4-9.9h0m-3.7 3.8h0m-1.5 3h0m-5.8 8.1h0m.5-12.3h0m10.2 11.8h0m-8.6 4.1h0m5.3-4.2h0m.6 7.4h0m7.7-7.8h0m-10.5 2.9h0m-7.5 8.2h0m17.2-19.8h0m-21.5 7.1h0m19.9 9.4h0m-16.7-14.9h0m11 6.8h0m-8.4-5.2h0m9.6 10.7h0m-11-20.1h0m3.2 12h0m7.6 5.1h0m-13.7 6.7h0m17.3-15.3h0m1.9-7.2h0m-8 18.9h0m-8.6-6.3h0m4.2-9.1h0m11.6 6.1h0m-12.3-5.5h0m5.2-6.9h0m6.2 16.5h0m-5.8-8.1h0m-1.8 10.8h0m2.6-12.9h0m-2.8-1.3h0m-16.6 8.6h0m31.2 8.6h0m-18.2-9.2h0m-4.5 12.3h0m10.2-8.6h0m-2-5.5h0m-3.4-2.7h0m-1.9 14.3h0m1.1-11.7h0m2.2 10.2h0m4.6-12.9h0m-14.7-10.9h0m24.9 21.7h0m-10.1-7.4h0m-1.4-8.5h0m2.9 15h0m9.1-8.8h0m-2.8-2.1h0m-4.8-1.1h0m9.1 22.9h0m-25.3-13.8h0m6.3 9.1h0m.8-18.1h0m8.9 1.5h0m-.5 10.4h0m-7.1 6.4h0m10.6-1.5h0m-14.2-9.1h0m6.3-1.3h0m-9 6.2h0m7.6-6.2h0m-2.7-1.8h0m-2.4 8.9h0m-.7 1.2h0m-.2-2.5h0m12.2 9.2h0m-10.4 1.5h0m-3.2-25.2h0m15.8 10.4h0m-2.6 8.8h0m2.7-18.4h0m-10.8 18.6h0m-1.6-31h0m15.7 22.8h0m-10.9 3.4h0m4.6 1.5h0m-8.9 8.3h0m1.9-8h0m6.2-13.1h0m9.1 19.7h0m-4.9-3.1h0m-17.5-9.1h0m12.6-4.3h0m10.1 .4h0m-14 17.3h0m-.2-4.1h0m9.2-7.4h0m-13.6 2.8h0m9.2-4.9h0m-6.2-9.9h0m4.3 1.3h0m.9 19.2h0m-9-11.2h0m6.9-12.8h0m-3.1 14.8h0m10.1-10.1h0m-17 17.5h0m18.8-18.6h0m-9.3 3.5h0m2.5-1.5h0m-6.2 2.4h0m16.7-3.2h0m-8.8 17.1h0m-4.4-6.4h0m5.8-3.5h0m-10.8-8.2h0m-3.8 18.4h0m18.3-4.9h0m-8.1-2.3h0m2.6-5.1h0m-9.3 12.2h0m12.4-.3h0m-11.6-1.8h0m14.2 4.4h0m-21.4-13.6h0m12.4-2.1h0m7.9 19.3h0m-12.3-5.9h0m4.2 .7h0m-12-17.1h0m1.1 19.4h0m26.1 2.4h0m-20.8-11.7h0m1.1-6.4h0m11.3 9.8h0m-9-11h0m10 1.1h0m-13.4 15.6h0m6.8-12.4h0m-4.8-14.2h0m-5.8 18.5h0m9.8 .7h0m6.6-7.4h0m-4.1-3.6h0m4.5 6.5h0m-3.3-5h0m3.6 13.4h0m-14.9-6.6h0m16.4 10.1h0m-7.5-12.3h0m-.3 15.5h0m-12.4-13.9h0m17.8-5.6h0m-4.8-7.2h0m-2 16.2h0m-5 5.5h0m1.1 2.2h0m1.7-7.3h0m12.1-8.6h0m-10.1 13.9h0m-8.4-10.3h0m11.1-.1h0m3.9 14.2h0m-8.7-18.5h0m-3 2.2h0m0 7.2h0m4.8-15.3h0m-3.4-9.3h0m-3.8 26.2h0m1.8-4.6h0m7.6-2.9h0m1.3 7.9h0m7.4-11.8h0m-14.7 10.5h0m1.1-4.2h0m-2-7.1h0m14.5 5.5h0m-9.7 4.4h0m-1.6 2.4h0m-8-16.3h0m15.4 15h0m-6.1-6.3h0m.8 4.4h0m.9 8h0m11.8-2.7h0m-4.6-21.3h0m-6.6 9.1h0m-4.7 2.7h0m-15.1-9.9h0m5.6 11h0m23.7 8.9h0m-22.7-2.3h0m13.6-9.4h0m5.9 4.4h0m-12.1-8.9h0m12.2-15h0m-10.8 30.9h0m9-24.2h0m-14.9 3.8h0m-1.1-5.2h0m2.3 9.8h0m12.6 20.3h0m-9-10.2h0m-5.3-1.2h0m2.7 4.4h0m8.9-9.1h0m-12.1-3.7h0m-2.4 19h0m3.9-23.1h0m7.2 5.6h0m.4 16.1h0m-3.3-6.7h0m6.4-19h0m-.4 27.6h0m4-11.1h0m1.8 3.5h0m-20.6-7.5h0m19 9.2h0m-4.6-12.7h0m-21 15.1h0m11.1-9.3h0m31.8-14h0m-18.7 12.7h0m-7.2-3.4h0m-4.4 13.3h0m5.3-7.4h0m7.5 5.6h0m3.8-6.6h0m-12.7-3.1h0m1 5.7h0m-18.5 7.1h0m4.8-25.9h0m18.3 10.9h0m-5-10.9h0m3 29.7h0m1.1-8.4h0m7.6 4.6h0m-6.8-7.2h0m-.6-1.7h0m5.1-7.1h0m-4.8 15.4h0m-7-7.3h0m-3.2-9.5h0m14.4 1.6h0m-16.7 12.4h0m19.7-14.2h0m-13.9 14.4h0m7.2 0h0m-3-11.3h0m-2.7-16.2h0m8.8 13.1h0m-13.4-.2h0m5.9 18h0m-5.7-10.1h0m9.1 5.1h0m-8.1 5.7h0m-3.4-8.4h0m10.1 2.6h0m6.4-6h0m4.7-9.2h0m-7 17.1h0m-9-1.3h0m11.8-8.5h0m-4.6 5.5h0m3.8-3.3h0m-15.2 10.2h0m11.5 1.8h0m3.8-9h0m-6.3-10.6h0m7 11.9h0m-9.9-13.2h0m10 9.2h0m-5.5 14.5h0m-.7-.4h0m-17-9.9h0m8.2-10.1h0m8.5 13.6h0m-.3-15.6h0m2.5 9.6h0m-7.9-4.3h0m-1.2 15.8h0m3.9-12.6h0m7.4-7.6h0m-3.4-3.8h0m3.2-8h0m3 22h0m-17-.3h0m9.5-4.8h0m5.1 5h0m1.3 4.6h0m-5.9-11.8h0" stroke="#8a8a8a" stroke-width="1.0" stroke-linecap="square" fill="none"/>
<path d="M332.3 253.3h0m-3.8 8.8h0m-5.9-5.5h0m6.5-.7h0m4 8.8h0m-1.9-6.4h0m-5.7 5.7h0m14.6 9.4h0m-12.4-8.7h0m9.3 .9h0m-15.8 5.5h0m5.2-7.1h0m7-5.2h0m-4.9 7.5h0m3.2-11.5h0m10.9 1h0m-5.1-5.9h0m-6.6 13.2h0m-.4-10.4h0m-1.7 5.9h0m3.3 1.6h0m2.2-1.3h0m-7.7 8.6h0m3.3 .8h0m4.8-10.3h0m-7.7 13h0m11.9-23.2h0m-15.9 21.1h0m10.8-7.4h0m.1 7.6h0m-11.6 4h0m19.1-.3h0m-15.8-6h0m10.7-19.8h0m-9.6 15.3h0m8.7 2.8h0m-4.2 5.7h0m.5-19.8h0m1.9 12.9h0m-2.7-2.4h0m-.9-10.2h0m14 8.2h0m-20.7 9.3h0m5.9-13.5h0m0 .7h0m12.1-10h0m-8.3 22.1h0m.2-5h0m-12.4-7.2h0m9.9 6.7h0m-9.4-15.1h0m1.7 22.3h0m4.5-10.9h0m-8.2 14.8h0m-4.4-6.6h0m11.4 1.5h0m-4.1-9.9h0m7.7 5.7h0m-7.7-.7h0m4.8-9.9h0m.7 8h0m12.7-7h0m-2.5 3.6h0m-12.7 9.1h0m10.4-21.3h0m.2 22.5h0m-3.4-3.4h0m-4.3-10.1h0m2.4 34.9h0m4.7-39.5h0m-15.1 12.4h0m14.4-3.2h0m1.8 17.9h0m-6.5-19.6h0m3.2-.2h0m-9.6 9.5h0m4.6-8.1h0m1.6-5h0m7.1 25h0m-17.9-7.5h0m24.6-4.5h0m-17.3-3.1h0m2.1 2.1h0m4.9-7.8h0m-4.2 6.9h0m-3.6-5.3h0m9.6 2.1h0m-5.2 0h0m10.3-11.3h0m-3 1.7h0m-1 7h0m-9 10.4h0m.8-17.9h0m13.3 14.6h0m-12.3 .4h0m-1.7 5.7h0m4.1-3.4h0m8.9-22.9h0m-14.7 29.6h0m6.8-7.2h0m-2.8-10h0m-4.1 10.4h0m11.3-11.1h0m1 13.4h0m-12.8-16.6h0m-4.5 13.9h0m10.2-10.9h0m-2.9 18.3h0m5.6-24.8h0m-14.9 19.1h0m20.9-18.6h0m-14.1 9.4h0m6.6-1.3h0m-1.6-8.8h0m-.4 23.2h0m-1.3-3.3h0m5.3-13.8h0m1.1-2.9h0m-4.9 4.3h0m-3.6-.6h0m-6.4 13.1h0m3.6-9.3h0m4.4 7.1h0m5.2-5.2h0m-1.9 1.1h0m.9 .3h0m-1.9-7.8h0m-2.7 1.3h0m11.7 .1h0m3.9-7h0m-7.7 6.3h0m-5.5 3.4h0m9.2 7.1h0m-8.1-7.9h0m12.1-.9h0m-8.4 13.2h0m-14.2-13.5h0m-.3 3.9h0m17.3-5.7h0m-9.1-1.8h0m10.7-11.2h0m-11.7 19.8h0m-6-1.9h0m12.5-8.5h0m-4.9 14.9h0m1.7-18.3h0m-5.3 19.6h0m7.4-5.9h0m-.6-7.3h0m-.8-11.3h0m2.9 17h0m-8.6 9.2h0m3.6-6.6h0m-1-11.4h0m2.8 7.2h0m16.2-2.3h0m-12.7 3.4h0m12 .7h0m-9.6 1.7h0m-11.4-4.8h0m5.7 15.7h0m-1.3-16.5h0m2.3 .6h0m2.8-12.3h0m-.4 9.7h0m-10.2 5.9h0m7.8 10.9h0m-5.3-21.3h0m7.1 3.7h0m-10.7 14.6h0m11.8-15.2h0m-4.5 5.3h0m-1.3-.9h0m3.2 17.3h0m5.7-17h0m-8.7 17.5h0m-2-14.5h0m4.2-.6h0m-8.7 8.4h0m8.3-23.9h0m-12.1 14.7h0m7.6-3.2h0m6.9-6.5h0m-12.6 17.1h0m8.3-6.2h0m.1 3.7h0m7.3-9.6h0m-12.5 6.4h0m10.2 .4h0m-4.7-8h0m2.1-10.4h0m-4.6 15.9h0m-1.7-2.4h0m8.4-5h0m-.1-5.8h0m-8.7 22.1h0m2-14.4h0m2.9-6.4h0m1.9 .7h0m-6.4 4.8h0m10.4 7.5h0m-8.5 4.7h0m-2.5-7.8h0m9.6 .3h0m1.7 9.2h0m5.7-18.6h0m-3.8 15.7h0m-1-3.6h0m-12.3-3.2h0m2.3 3.6h0m6.3-1.7h0m-1 7h0m-12.2-1.3h0m3.5 2.5h0m4.4-8.3h0m9.4-8.7h0m-8-.7h0m-14.1 18.4h0m23.6-22h0m-3.5 10.3h0m-7.6 1.7h0m-2.6 5.7h0m7.5-9.2h0m-7.9-6.7h0m13.9-1.6h0m-5.8 30.1h0m-4-23.5h0m3.5-2.3h0m-4.5 16.8h0m-14.9-12.9h0m10.3 5.4h0m9.5-2.6h0m1.4 3.6h0m-19.2 7.9h0m27.5-20.6h0m-16.9 13.9h0m5.4-5.3h0m-4.4 10.6h0m-3.4-10.1h0m6.8 14.7h0m-5.8-18.6h0m11.1 6.7h0m.9 20.9h0m-7.2-25.5h0m6-3.8h0m.2 2h0m-3.1 8.9h0m6.7-10h0m-14.5 3.5h0m7.3 3.2h0m4 1.8h0m4.9 11.4h0m-3.1-12.3h0m.1 .7h0m-3.5-2.7h0m-8 5.7h0m-10-13h0m12.6 13.1h0m9.1-4.8h0m-6.5 3.6h0m4.1-19h0m1.2 14.5h0m-11.6-4.6h0m16.2 6.3h0m-1.7-6.1h0m-19.5 1.5h0m22.3 12.5h0m-18.3-5.9h0m2.3-5.5h0m1.6 28h0m-3.7-22.5h0m7.4-7.7h0m-7.3 19.1h0m13.2-19h0m-11.2-1.6h0m9.2 6.7h0m-7.1 .8h0m7 13.2h0m-7.8-29h0m3.8 7h0m-1.5 9.4h0m3.1-.2h0m-11.6-14.9h0m15.5 17.9h0m-8.8-3.1h0m-.3 3.3h0m3.5-15.8h0m-.4 18.3h0m-4.3-1.7h0m10.8 1.5h0m-8.7-10h0m.1 13.9h0m2-20.9h0m-.7 22h0m.4 5h0m5.5-13h0m1.8-7.2h0m-8.2 2.7h0m-2.2 3.7h0m.8-13.3h0m3.2 15.4h0m3.1-3.1h0m-4.1-9.7h0m-8.1 20.5h0m4.5-2h0m4.2-5.7h0m.9-6.7h0m-6.8 9.1h0m12.3-13.9h0m-6.7 3.3h0m-1.8 1.4h0m5-13.1h0m-9.5 9.6h0m8.8 1.2h0m-8.8 18.2h0m1.2-3.2h0m2.9-7h0m1.6 2.9h0m-6.9-11.7h0m-2.5 11.5h0m20.9-9h0m-10.8 4.9h0m1.1-.8h0m1.5-3.8h0m-4 .7h0m3.9 6.5h0m2-.5h0m1.1 13.6h0m-11.7-18.4h0m4.5 10.3h0m-1.8-3.7h0m-4.3-.2h0m.2-6h0m2.2 16.8h0m16.5-32.2h0m-5.7 25.6h0m-1.1-18.7h0m-7.9 19.6h0m1.7-7.7h0m9.9-3.7h0m-6.2-5.6h0m-2.7 11.2h0m-11.4-.4h0m3.7 3.5h0m7.2-10.1h0m-.5 5.9h0m6.5-6.3h0m-11.9 18.9h0m5.5-22.5h0m-2.3-5.5h0m8.9 8.7h0m-8.2-2.3h0m-.6 3.3h0m6.9 26.3h0m-12-26.3h0m5.3-3.9h0m-6.1-4.3h0m7.7 5h0m-3.4-2.2h0m.3 9.1h0m10.1 6.2h0m-3.5-17.7h0m2.4 15.3h0m-1.3-9.2h0m-11.2-2.5h0m6.5 13.4h0m.3-4.3h0m1-11.1h0m-6.5 9h0m16.5 14.5h0m.3-33.2h0m-5.3 14.8h0m-5.4 4.1h0m0 6.2h0m.1 5.1h0m3.2-24.7h0m-5 11.4h0m15.9-6.8h0m-12.9 6.9h0m6.2-12h0m-.1 13.1h0m-12.8 12.7h0m14.4-17.6h0m-8.1 13.8h0m-2.6-3.7h0m3.1-5.8h0m8.1-16.4h0m-14.6 21.9h0m9.2-9.4h0m-4.1 10.1h0m4.5-9.2h0m-8.6 3h0m4.2-2.9h0m-7 6.9h0m7.8-10.9h0m13 10.4h0m-6.6-3.4h0m-.6 8.1h0m-5.7 7h0m.4-23.3h0m8.4 23.4h0m1.8-1.5h0m-16-9h0m7.2-3.4h0m1.3 7.5h0m5.3-14.4h0m-5.4 1.5h0m-.2 10.5h0m-6.3-2.7h0m9.1-3.4h0m-10.6-5.4h0m7.2-2.2h0m-2.1-1.9h0m6 7.4h0m-10.3-6.9h0m8.7 10.7h0m.4-8.8h0m-1.9 7.6h0m1.5-16h0m-2.5 13.4h0m-.9-3.9h0m3.5-12.3h0m-5.9 29.5h0m3.3-10.5h0m-8.1 9.8h0m3.4-24.4h0m4.9 8.1h0m-7.5 11.3h0m12.4-13.1h0m-13 15.1h0m3.7-1.8h0m2.8-10.3h0m-7.7-5.1h0m6.2-3.4h0m2.7 15.6h0m-7.5 3.1h0m-1.7-8.2h0m15.2-4.7h0m2.9 8.1h0m-14.3 3.8h0m-5.9-13.6h0m12.5 20.7h0m1.2 20.4h0m-10.2-31.2h0m7.7-16.6h0m-9.3 13.1h0m11.7 9.2h0m-3.2-15.6h0m7.7-1.9h0m-12.7 1.5h0m2.8-8.9h0m10.8 4.7h0m-17.2 16.8h0m9.3-11.3h0m-7.3 7.1h0m6.7 12.6h0m-19.9 1.1h0m26.3-25.6h0m-9.1 13.8h0m7-10.5h0m3.4 6.5h0m-5.7 13.1h0m2.7-25.6h0m1 32.3h0m-2.7-5.2h0m5.8-16.5h0m-11 20.9h0m-.4-12.2h0m-.2-3h0m.2 2.6h0m1.6-17.4h0m.6 17.4h0m2 9.8h0m-5.2-2.7h0m-3.2-2.7h0m12.3-12.7h0m-11 5.5h0m10.8 9h0m-.4-1.7h0m-2.5 .8h0m-11.7-18.3h0m-8.4 2.1h0m12 1h0m.8 6.1h0m-.7-1.2h0m13.5 1h0m-16.1-10.8h0m8.8 23.9h0m-3.5-13.8h0m-.5 3h0m-1 5.6h0m7.9-12.3h0m.4-1.5h0m-5.2-4.6h0m-3.7 11.3h0m1.8 7.5h0m-8.7-9h0m10.5 5.7h0m6-21.3h0m-9.9 18.3h0m-.9-13h0m5.6 11.4h0m11.3 .6h0m-10.6-.9h0m4-13h0m-11.6 19.7h0m-.6 10.2h0m5-16.2h0m-12.6-7.8h0m1.2 11.5h0m5.1 4.6h0m23.4-10.2h0m-14-7.3h0m.7-2.3h0m6.2 16.3h0m-4 .7h0m-1.7-12.6h0m-3.7 22.6h0m-9.2 .1h0m12.6-22.3h0m3.9-1.8h0m-1.4-1.2h0m-5.8-4.8h0m4.4 16.7h0m-9.1-13h0m-.3 13.5h0m12.9 1.7h0m-15.9-1.6h0m13.2 8.5h0m-4.7-17.5h0m0 18h0m6.3-7.4h0m9.2 3.2h0m-16.3 3.8h0m.1-11.3h0m-7.1 8.1h0m4-2h0m14.1-21h0m-8.4 18.4h0m-.2-6.7h0m8.1-.9h0m-11.6 15.1h0m4.6-11h0m-2.1 7.5h0m.2-12.1h0m-1 6.4h0m8.9-3.9h0m-3.4 6.5h0m2.3-11.2h0m-7.9 6.3h0m-.6-6.4h0m3.7 2.7h0m9.5 5.8h0m-10.7 2.5h0m-4.6-6.2h0m7.8-4.6h0m8.4-4.3h0m-23.3 22h0m14.9 .4h0m-2.2-1.2h0m-9.1 2.4h0m12-15.9h0m-12.2 1.6h0m11.9 9.7h0m-1.5-9.5h0m-15.9 6.6h0m9.8-11.2h0m-2.8 3h0m10.2-7.6h0m-14.2 24.3h0m12.4 1h0m3.2-4.6h0m1.8-12.3h0m-8.3-11.7h0m4.9 17.6h0m-11.1-17.9h0m8.3 18h0m-2.6 1.9h0m10.7-15.3h0m-9.5 16.3h0m-2.5 11.9h0m-.7-6.1h0m-7.9-4.9h0m8.8-1.9h0m3.2 2.4h0m4.9-15.8h0m-.2 8.5h0m-10 15.3h0m1.2-2.4h0m3.7-8.3h0m2.3-10.9h0m1.9 2.5h0m-7.1-7.2h0m4.3 18.3h0m.7-2.5h0m-1.4 3.9h0m-6.6-2.7h0m1-3.4h0m6.4-14.1h0m-2.5 16.3h0m1.3 10.4h0m-.3-12.2h0m3.2-15h0m6.5 13.8h0m-8.6-9.3h0m1.4 .9h0m2.8-8.3h0m-4.1 14.6h0m-6.8 21.7h0m4.7-18h0m11.1 8h0m-11.6 2.7h0m6.6-25h0m-6.4-4.9h0m-3.5 8.6h0m2.9 6h0m5.6-5.3h0m4.9 1.3h0m-12.2 9.3h0m-.9-2h0m11.5-6.8h0m-1.1-9h0m-21.9 26.3h0m.6 4.4h0m14.6-28.5h0m3.6-5.8h0m-8.7 22.3h0m9.1-4.1h0m-7.2 12.8h0m5.4-7.8h0m-3.4-6.8h0m5.1 4h0m-2.4-15.8h0m.3 15.1h0m7.4 1.7h0m-17.5 2.3h0m2 5.3h0m14.8-18.3h0m-16.4 .6h0m9.9 10.9h0m-10.1-3.1h0m3.8 3.3h0m-3.7 0h0m-.1-17h0m16.4 5.6h0m-11.1 6.5h0m1.9 10.8h0m2-5h0m.7-7.7h0m4.4 5.9h0m-1.7 1.1h0m-11.9-18.4h0m8.4 15h0m-6.7-.5h0m.3-2.7h0m5.6 .8h0m2.7-1.7h0m-1.2-3.2h0m6 12.3h0m-3.2-3.4h0m4.3 2.6h0m-15.9 9.9h0m8.1-10.8h0m-17.1 4h0m8.6-18.2h0m7 20.1h0m2.2-5.9h0m.8-3.3h0m-12.2-9.3h0m9.5 9h0m-1.2-8.4h0m-4.6 15.9h0m12.6-18.4h0m-16 19h0m6.4-20.7h0m6.1 13.9h0m-5.6 8h0m.4-15h0m-2.8 11.8h0m6.1-16.3h0m1.8 7.7h0m8.7-3.3h0m-21.2 18h0m4.4-15.1h0m-.4-3.9h0m8.3 1.9h0m-9.9 1.8h0m4.3 10.5h0m11.5-7.6h0m-3.6-10.6h0m-1.9 2.5h0m-.8-11.2h0m-.9 16.2h0m.8-12.2h0m-3.9 20.1h0m4.2 .8h0m-4.4-6.6h0m-2.8-2.2h0m5.8 6.7h0m9.6 7.1h0m-8.7-5.2h0m3-5.2h0m-8.8 8.6h0m-.5-24.1h0m5.5 21.9h0m-11-6.9h0m2.9-9.2h0m6.7-3.7h0m11 6.8h0m-11-8h0m2.8 5.4h0m-8 11.6h0m7.1-20.2h0m-8 16.9h0m-.8 5h0m6.5-13.1h0m1.6 23.6h0m-6.7-15.8h0m4.7-12.2h0m5.6 26h0m-8.2-15.2h0m5.3-16h0m.9 21h0m-6.7-2.8h0m2.8 1.7h0m1.5 3.7h0m.7-.8h0m7.2-9.5h0m-1.6-5.6h0m-7 3.8h0m-2.3 5.9h0m.4-11.6h0m5.5 .3h0m-3.6 12.2h0m5.1-15.7h0m-12.3 19.7h0m15.2-13h0m-.5 6.5h0m-13.6-4.8h0m7 4.3h0m-5.1 1.9h0m17.5-2.7h0m-2.3-1.4h0m-6.3-6.7h0m.5 13.7h0m-7.7-5.2h0m-4.8-.2h0m9.8 15.6h0m-2.4 1.9h0m-1.4-30.3h0m-2.8 15.4h0m1.2-11.1h0m-4.9 .5h0m4.1 11.7h0m11.4 10.3h0m-.7-12.1h0m-7 8.8h0m8.5-9.5h0m-9.7 5.2h0m3.4-9.6h0m.8 13.1h0m-1.5-14.1h0m-3 6.1h0m-2.6-2.9h0m8.5-4.4h0m-5.4 8.1h0m-3.2 16.5h0m5.4-11.8h0m4.6-9.4h0m-6.8 12.4h0m16.7-1.3h0m-13.9-15.7h0m-1.8 12.6h0m.2-12.4h0m-.1 5.2h0m9.6 4.9h0m-11.1-1.1h0m4.7 5.2h0m-3.3-16.5h0m5.2 1.1h0m-7 15.7h0m-2.7 2.7h0m5.9-12.4h0m8.4 6.5h0m-3.3-12.3h0m.9 10.8h0m-9.8-15h0m7 28.8h0m-6.3-7.1h0m.8 .1h0m3.5-18.3h0m-6.5 5.7h0m2.4-2.1h0m6.9 11.4h0m-.5 5.1h0m1.5-19h0m-4.6 15.6h0m-14.6-19.1h0m9.1 11.9h0m-5 5.4h0m6.4-1.6h0m3.7-15.8h0m4.6 11.6h0m.3 8.5h0m-9.2-2.6h0m5.8-9.2h0m-10-1.6h0m16.5-11.3h0m2.2 19.9h0m-3.8-6.5h0m-4.3 4.8h0m3.5 .2h0m-9.5 1.6h0m2.6-4.9h0m2.1 2.2h0m-3.3-5.3h0m-7.4 1.9h0m10.8 6.3h0m-13.4-7h0m16.7 8.1h0m-.3 .2h0m.7-5h0m-7 5.5h0m-7.1-7.2h0m17.5-8.6h0m-14.8 17.7h0m-1.2-23.1h0m7.2 25.6h0m3.6 7.6h0m-2.7 .4h0m-1.1-23.3h0m-9.3 12.6h0m6.6-3.2h0m-2.2 5.8h0m12.3-15h0m-10.6 6.6h0m-.1 3.3h0m3.2 .4h0m-5.9-.3h0m18.1-8.4h0m-13 5.7h0m.6-10.7h0m-6.1 8.7h0m5.8-1.1h0m5.3-15.8h0m-8.9 26.2h0m6.7-11.2h0m-10.1-5.9h0m5.8 7h0m11.4-3.3h0m-13.2 3.6h0m14.4-3.7h0m-21.5 8.2h0m7.4 0h0m11.3-7.9h0m-13.4 8.4h0m9.6-4.3h0m-1-1.1h0m5.9-3.7h0m-15 15.5h0m6.9-23.9h0m-.9 20.1h0m1.7-7.8h0m1.6-12.3h0m-6 10.9h0m-1.9 7.5h0m10.3-10.3h0m-6 9.9h0m2.6-3h0m-7.7-.9h0m15.3 8.2h0m-11.5-6.8h0m3.2 7.8h0m0-17.2h0m5.8 3h0m2.7-5.9h0m-6.5 4.1h0m0 2.1h0m-1.9 13.8h0m0-21.2h0m8.9 14.2h0m-11.1-8.5h0m2.4-1.7h0m-8.1 10.9h0m10.8 9.2h0m-2.2-5.9h0m-12.5 11.6h0m23.6-21h0m-8.7-8.1h0m-9 7.2h0m5.6-5.6h0m1.3 11.2h0m-2.9 2.2h0m4.1-4h0m-9.3-8.2h0m-7.1 11.4h0m18.9 2.1h0m-15.5-19.9h0m13.1 6.7h0m4.2 0h0m-14.3 10.9h0m-2.7 .5h0m11.6-8.2h0m-.6 15.8h0m-12.6-1.5h0m-.4 15.3h0m19.4-21.6h0m-2.4 1.5h0m-9.3-17.8h0m1.5 7.4h0m.2 5h0m5.6-10.1h0m-4.6-3.3h0m-4.6 14.4h0m9.2-.8h0m0 13.4h0m-2.7-6h0m-3.1-20h0m1 3.7h0m-3.8 5.7h0m12 .2h0m-16.8-4.1h0m9.5 3.7h0m12.8 2.4h0m-5.1 10.3h0m-2-14.3h0m-6.4 6.2h0m3.8-8.8h0m6.4-8.4h0m-6.8 40.7h0m2.9-43.1h0m-7.2 10.3h0m8.8 6.5h0m-13.1 5.8h0m5.8-.1h0m-11.9 10.3h0m7.3-17.6h0m-6.1-.7h0m12.3-5.1h0m-4.9 1.8h0m.8 4.4h0m3.3-6.4h0m1.2 8.8h0m-.4-15.8h0m-11.6 23.2h0m7.3-7.6h0m7.5 10.4h0m-7.8-9.2h0m3.6-15.7h0m1.6 7h0m5.3 22.6h0m-7.1-12.8h0m1.8-3.4h0m8.1 1.3h0m-7.8-6.7h0m4.2 2.2h0m-6.4 20h0m-.1-14.3h0m-3.6 2.5h0m10 12h0m-3.8-6.6h0m8.3-10.5h0m-11.9-11.5h0m-5.3 29.8h0m-.8-26.2h0m11.7 19.2h0m-13.6-10.5h0m5.2-1.4h0m10.2 11.3h0m-4.7-5.2h0m4.6 10.9h0m-1.2-24.5h0m-6.6-1.4h0m-6.5 18.9h0m15.3-7.8h0m-16.8 1.5h0m8.8-2.8h0m13.8-3.8h0m-12.6 5.5h0m-1.3 8.3h0m3.8-19.8h0m-2.6 14.8h0m2.6 6.2h0m-4.5-5.8h0m12.2-1.2h0m-.9-15.1h0m-14 15.1h0m7.9-2.1h0m.4-12.1h0m-9.6 15.1h0m13.2-.7h0m-12.3-2.4h0m-1.3-16h0m3.3 23.4h0m2.1-9h0m11.8-2.7h0m-4.3 11.5h0m-.9-16.9h0m-13 13.2h0m4.7-12.3h0m1.8 17h0m6-13.7h0m-3.2-.3h0m-6.4 3.6h0m2.8 9.6h0m-13.3 1.6h0m14.4-1.7h0m2.9-17.9h0m-8.3-1.2h0m6.7 14.9h0m0-19.2h0m-9.2 13.8h0m2.3 9.8h0m8.8-3.9h0m1.1-11.4h0m-1.8 8.8h0m4.1-3.9h0m.8 10.3h0m-16.2-.8h0m12.8-11.2h0m-9.2 11.5h0m7.4-6.9h0m3.9-.1h0m-.9-7.9h0m-.8 1.5h0m-3.5-2h0m-7.3 14.4h0m10.2-5h0m-4.5-2.7h0m-3.5 .2h0m7.1 8.3h0m-4.3 7.5h0m-2.9-6.4h0m-1-5.5h0m3.7-1.2h0m-10.6 3.7h0m11.5-7.1h0m-3.9 6.3h0m12.7-6.4h0m-8.4-3.7h0m-12.6 12.3h0m14.5-2.9h0m-11-3.9h0m8.3-12.6h0m6.9 6.5h0m3.2 4.4h0m-5.2 2.4h0m-5.1-6.8h0m5.6 10.9h0m4.4-8.5h0m.6 3.8h0m-8.2-10.5h0m-2.2 15.7h0m6.2-9.1h0m-8.5 11.1h0m.2-1.5h0m12.1-10.5h0m-9.8-.4h0m-5.2 10.2h0m7.1-13h0m4.3 9.9h0m-7.8-4.3h0m3.9-8.5h0m5.9 8.5h0m-13-13h0m8.6-.2h0m5.3 21.2h0m-3.7-18.7h0m5.8 10h0m-2.4 7.8h0m-1.7-3.6h0m-9.8 .9h0m.6 5.2h0m8.7-16.7h0m-6.6 22.3h0m-6.2-10h0m6-10.2h0m-4.5 22.8h0m-4.2-15.6h0m11.9-4h0m-2.9 2.5h0m3 5.7h0m-6.4-15.8h0m7.9 17.2h0m3.1-15.9h0m-4.5-1.4h0m-13.1 20.1h0m10.1-8.8h0m7.5-8h0m-8.1-.3h0m6.3 .1h0m1.6 14.9h0m-10.1-9.5h0m-2.3 14.6h0m13.5-3.8h0m-18.6-3.5h0m9.2-13.9h0m-3.7 15.5h0m5.4 .7h0m0-5.3h0m9.2-5.8h0m-1 7.4h0m-15.1-12.7h0m-1.8 19.8h0m6.8-9.7h0m.8-2.2h0m-2.8-8.9h0m0 11.4h0m1.2 13.6h0m-2.3-3.5h0m.5-5.1h0m5.4-14h0m13.8 9.8h0m-15.3-13.6h0m-1.4 17.6h0m6.2-3.6h0m-7.5-4.2h0m5.9-9.4h0m-2.3 16.2h0m-4.6 4.4h0m-.5-8h0m12-16.5h0m-2.6 12.2h0m-11.4-4.1h0m7.2-.8h0m-.3 1.8h0m-1.1 10.7h0m-.5-.9h0m-2.2-10.7h0m11.5-10.6h0m-15.1 25.4h0m4.8-16.9h0m2.5 12h0m.4-5h0m2.4-12h0m.4 13.1h0m-4.4-5.7h0m15.4 11.8h0m-1.8-7.6h0m-10-5.2h0m7 1.6h0m-8.4 7.4h0m4.2 8.9h0m-2.3-15.4h0m4.6 2.6h0m8.7-12h0m-26.7 10h0m5.7 5.9h0m5.6-.8h0m-12.5 6.1h0m17.4-1.8h0m1.2-14.6h0m-11.2 15.9h0m9.2-21.8h0m4.7 13.8h0m-5.1 .9h0m-3.9 4.2h0m-1.8-14.4h0m.8 12h0m5-.6h0m-.6 1.2h0m-1.9-.1h0m-8.9-7.5h0m10 14.5h0m-8.6-3.9h0m4 5h0m-2.3-8.8h0m1.5-5.4h0m-2 7.1h0m1.6-3.1h0m5.7-9.7h0m-2.7 11.7h0m-5.3-2.4h0m1.5 17.2h0m2.9-9.6h0m11.8-24h0m-2.9 9.6h0m-12.5 5.9h0m6.5-6.2h0m3.9 .2h0m-7.4 3.2h0m1.6 22.5h0m3-22.4h0m-4.1-9.5h0m-2.8 11.9h0m9.1-5.1h0m-8.6 1.5h0m.8 .2h0m2.3 12.7h0m10.2-17.6h0m-13.8 19.3h0m5.7-16.8h0m1.8 4.1h0m3 5.4h0m-6.9-15.5h0m-3.2 15.9h0m-2.1-6.7h0m.6 20.5h0m-.8-10.8h0m6-8.6h0m3.6 19.2h0m-.1 3.8h0m-8.1-7.1h0m12.5-16.1h0m-4.1-1.1h0m-8.7-1.2h0m-.5 5.7h0m10.2-.7h0m.4 1.1h0m-3-3h0m6.3-3.3h0m-3.4-9.8h0m-20.6 17.6h0m10.2-16.7h0m3.6 14.4h0m5.1-1h0m-13.8 19.5h0m9.4-14.5h0m-12.9 3.3h0m10.9-20.9h0m5.9 6h0m-13.2 2.1h0m2.7-1.7h0m7.6 1.7h0m7.5 1.6h0m-9.8 24h0m12.4-30h0m-15.7 27.8h0m10.2-12.4h0m1.2-1.3h0m-10.7 .5h0m4-8.1h0m8.7 .4h0m-10 6.4h0m.5 4.3h0m7.7 3.9h0m-10-10h0m15.2-8.1h0m-15.7 9.8h0m-1.8-4.6h0m4.8 13.7h0m-6.1-16.3h0m3.5 22.4h0m4.4-17.6h0m7.5-7.4h0m-9.2 12.3h0m-7.3-12.6h0m8 3.7h0m4.1-5.3h0m-8 15.2h0m4.8-9.2h0m3.6 18.8h0m-3.7-29.8h0m-7.4 34.9h0m6-5.5h0m-3.6-5.1h0m7.1-8.5h0m-3-1.6h0m-3.4 11.7h0m-2.1-1.4h0m10.3-11.8h0m-.4 7.1h0m-4.3-5.1h0m-7.3-6.2h0m13.8 3.8h0m-5.1 1.8h0m-8.5 9.4h0m3.6-6.9h0m-6.3 5.2h0m8-10.9h0m-.3 0h0m-2.5 18.6h0m-2.5-18.1h0m5.9-8.8h0m6.5 2.5h0m-6.3 4h0m-3.3 3h0m3.4-8.9h0m.1 12.7h0m11.1-6.4h0m-7.3 8.8h0m-10.7 7.5h0m7.4-3.2h0m-8.1-7.7h0m10.2-7.1h0m6.6 8.2h0m-6.2-4.3h0m-8.2-1.4h0m7.4 1.5h0m2 18.4h0m-6.9-21.2h0m.8 4.5h0m2.6 22.1h0m-2.4-22.2h0m4.3-7.7h0m7.4 7h0m-.8-11.3h0m-3.4 11.4h0m-1.2-3.7h0m8.2 15.5h0m-10.8-16.7h0m-3.8 5.1h0m3.2 .9h0m-8.7-4.2h0m.2 5.2h0m13.6 .3h0m-3.6-11.1h0m-2.5 12h0m1.7-5.3h0m-7.7 8h0m10.8-4.6h0m-9.3-5.9h0m7.3 13.4h0m-4.1 .7h0m11.2-11.1h0m-7.4 14.4h0m-.2-14.9h0m-5.4-4.6h0m5.3 9.6h0m-2.1 3.5h0m-8.5 10.7h0m4.4-5.2h0m-1.9-3.7h0m9.9 13.2h0m6.7-30.9h0m-5.6 14h0m-5.1-2.8h0m1-11.6h0m-9 9.5h0m10.7-5.6h0m-5.2 11h0m-2.2 7.7h0m11.1-4h0m2-11.6h0m-11.8 2.8h0m9.7 17.3h0m.7-16.2h0m-8.2 9.1h0m-2.9 9.7h0m6.4-22.9h0m-3.5 3.9h0m-4.4-2.6h0m-1.9 7.3h0m9.9 6.6h0m-2.8-13.5h0m2.6-1.6h0m-3 20h0m11.7-15.9h0m-11.1-2.5h0m.4 22h0m1.6-7.7h0m1.6-5.3h0m7.6 3.8h0m-20.3-21.5h0m2.9 8.3h0m.7 3.9h0m12.3 2h0m-8.6-6.8h0m-2.6 10.5h0m4.9-6.3h0m8.1-8.4h0m-.6 1.5h0m-13.3 9.5h0m11.6-3.5h0m7 2.2h0m-4-7h0m-6.3-7.3h0m-14 19.5h0m5.7-4.9h0m5.1-12.6h0m-.3 6.6h0m-1.8-.9h0m1.6 23.8h0m-2.9-21.4h0m5.6 6.2h0m-.1-10.2h0m-.8 14h0m.7-6.7h0m.4-5.8h0m-5.3 5.7h0m9.2 .5h0m-18.7 5.6h0m21.7-16.2h0m-6.6 14.5h0m1.6-15.4h0m-2 16.6h0m-2.7-11.9h0m2 9.4h0m-15 5h0m22.3-11.1h0m-4.9-5.9h0m-11 19.7h0m17.7-5.3h0m-17.5-18.2h0m3.3 21h0m5.2-8.3h0m-4.5 10.1h0m6.1-.7h0m3.5-7.8h0m-6.7 1.1h0m-15.5 19.9h0m13.4-33.1h0m4.9 7.5h0m10.8 4.3h0m-17.3-6.7h0m2.4 5.2h0m8.3-2.4h0m-.5 6.9h0m-.1-12.1h0m-8.7 7.3h0m6.1-12.4h0m3.4 4.4h0m-4.5 13.1h0m-.4 20.2h0m5.9-40.5h0m-6.4 17.9h0m5.1-5h0m-6.1 8.3h0m-3.6 1.7h0m9.1-10.5h0m-14.8 2.5h0m1.8 7.3h0m7 1.2h0m5.1-1.5h0m1.2-13.6h0m-6.8 6.7h0m-1.5 .2h0m4 1.3h0m5.9-4.6h0m-13.3 3.3h0m8 5h0m2.5-15.9h0m-2.2 8.7h0m.2 1.9h0m-14.9-.5h0m15.3 2.8h0m2.4 6.2h0m1.2-3.1h0m-10.6 2h0m12.5-10.6h0m-19 7.7h0m19.1-10.8h0m-17.9 6.3h0m14 5.8h0m-6 .4h0m-.9-7.6h0m4.9-1.6h0m6.4 28.1h0m-16.5-27.5h0m6.3 2.2h0m-7.1-3.1h0m5.1 2.8h0m-5.1-.2h0m1.8 .3h0m4.8-6.5h0m0 2.5h0m-.4-.2h0m.5-1.1h0m12.5 6.1h0m-15.8 7.3h0m13.9-16.7h0m-7 10.2h0m-14.4 6.8h0m14.7-11.9h0m-5.4 16.2h0m2.9-10.8h0m1.2-.8h0m-3.6-5.5h0m6.8 3.3h0m-5.7 12.2h0m8.8-10.5h0m-4.3 6.3h0m-4.9-7.2h0m.2 5.4h0m-5.2 4.8h0m6.5-5.8h0m.7-11.7h0m0-.3h0m14.6 10.4h0m-9.2-9h0m-2.7 4.5h0m-6.5-.5h0m6.8 17.1h0m-.5-27.9h0m-10.5 9.6h0m10.2 7h0m0-1h0m-8.3 13.1h0m15.1-.9h0m-10-1.5h0m9.7-14.9h0m-19.2 8.5h0m7.7 1.3h0m-4-6.4h0m6.5 4.6h0m.2-12.9h0m5.4 22h0m.3-25.5h0m-7.9 8.6h0m9.8 7.1h0m-13.9-.6h0m8.6-2.3h0m-4.9 8.1h0m3.6-7.7h0m-12.4 1.5h0m10.4 9h0m-4.9-13.2h0m16 6h0m-17.6-11.7h0m6.8 10.7h0m-7.4-6.1h0m10.7 6.7h0m-9 .9h0m11.2-22.8h0m-7.1 35.9h0m-.4 .9h0m-1-22h0m-6.3 12.9h0m9-15.7h0m.7 8.1h0m-3.1-16.3h0m.5 28.2h0m1-14.8h0m-2.7 1.8h0m7 9h0m2.6-9.2h0m-6.9-3.1h0m-.6 10.1h0m12.7-12.9h0m-7.4 3.8h0m-12.6 11.9h0m15.7-12.3h0m-7.7-1.7h0m.5 1.5h0m4.1-.5h0m6.3 5.1h0m-.7 1.9h0m.7-1.5h0m-2.2-2.9h0m1.5 3h0m-9.3-10.6h0m-5 9.2h0m2.1 9.9h0m8.3-6.2h0m-9.6-1.6h0m-1.2-17.3h0m4.1 4.7h0m6.3 2.5h0m-10-7.4h0m15.2 17.1h0m-8-11.6h0m4.7 8.8h0m-10.1 5.6h0m2.7 1.1h0m9.6 1.3h0m-12.1-21.9h0m4.4 13.9h0m3.7 15.2h0m-5.5-14h0m2.3 3.8h0m3.7-9.1h0m-4.2-1.3h0m-3.4 2.3h0m4.5-3.3h0m-8 2.7h0m12.2 18.5h0m-2.8-.8h0m-7.9-17.2h0m-2.4-8.6h0m-1.3 5.7h0m9.8 6.1h0m-3.1-6.4h0m5 5.3h0m6.6-.8h0m-11.3-7.5h0m1.4 3.9h0m2.6 6.7h0m6.6-3.2h0m-4-14.3h0m-12.4 13.5h0m10.7-10.2h0m-3.6 21.5h0m-1.4-11h0m.4-3.6h0m5.6 11.2h0m-9.2-3h0m9.1 2.4h0m.9-20.7h0m-3.6 10.3h0m-4.8-7.5h0m.4 10.2h0m-1-3.6h0m8.5 10.1h0m-1.5-12.5h0m-1.1 4.2h0m-3 12.7h0m-4.5-11.7h0m11.8 13.6h0m.3-26.2h0m-13.2 11.9h0m5.8 17.8h0m-7.7 1.2h0m1.3-21.7h0m-2 4.1h0m15.7 .5h0m-2.7 6.7h0m-.2-3.6h0m-10.3-4.6h0m5.2 6.4h0m-3-11.7h0m-6.8 15.6h0m14.6-14.1h0m-3.5 11.6h0m8.7-16.2h0m-16.3 8.2h0m4.9 11.4h0m-.4-10.8h0m3.3 4.5h0m3.6-8.2h0m-9.9 6.3h0m5.6 6.2h0m2.7-7.7h0m-4.8-6.6h0m-2.2 5.6h0m3.1 14.7h0m9.7-4.5h0m.3 6.3h0m2.1-19.3h0m-10.7 1.4h0m.4 5.4h0m1.6-1.5h0m-16.2 9.5h0m10.6-23.3h0m4 16.2h0m9.2 3h0m-16.8-7.1h0m16.3 7.4h0m-12.9 10.3h0m5.6-14.4h0m-3.3 3h0m11.1-6.6h0m-12.1 14.5h0m.8-18.1h0m-2.1-5.4h0m.9 7.8h0m0 4.7h0m3.1-9.6h0m7.9 7.7h0m-7.6-3.6h0m12.7-.9h0m-6.9 8.6h0m-2.1-5.8h0m-5.2-6.5h0m-2.7 4.8h0m7.1 10.6h0m-10.2 1.6h0m8.1-13.4h0m-8.9 8.5h0m13.9-4.6h0m-6.7 1.5h0m1.2-10.3h0m3.5 16.6h0m1.4-20.2h0m-9.6 9h0m4.1 20h0m-3.2-26h0m-4.9 9.6h0m11.2-.6h0m.5-9.5h0m-7.9 13.2h0m7.1 1.1h0m-7.1-1.2h0m.9 3.9h0m3.3-4.8h0m-10.5-4.4h0m11.1 11.7h0m2.5-7.3h0m-2.9-5.4h0m-12.4 5h0m10.6-8.2h0m-.5 3.6h0m5-2.9h0m-1.9 13h0m-.2 2h0m4.8 5.1h0m-8.9-18.8h0m2.7-.5h0m2 11.8h0m-5.2-5.6h0m3.7-4.6h0m-16.1 1.7h0m18.4 4.6h0m6.8-6.7h0m-6.7 11.2h0m5.1-19.1h0m-6.5 13.5h0m-7.3-5.7h0m-2 13.4h0m9-2.7h0m-5.8 16.6h0m.1-11.5h0m9.4-20.5h0m-9.5 18.7h0m6.4-.5h0m0-8.8h0m-4.5-.1h0m5.4 1.4h0m-14.3-11h0m7.5 13.7h0m-.8-.9h0m3.7-.6h0m2.3-5.6h0m-10.3 3.4h0m12.9 10.8h0m-12.2-10.9h0m7.6 6.3h0m-4 6h0m11.3-13.2h0m-17.6-4.1h0m15.1-3h0m5 12.3h0m-17.1 1.2h0m9.5 .9h0m-6.8-7.5h0m11.9 18.1h0m-10.5-16.1h0m1.2-12.2h0m-7.1 15.9h0m7.6 4.1h0m6.6-5.3h0m-4.2 16.7h0m3.1-21.5h0m-2.4 2.1h0m-5.4-1.6h0m-2.3 1.3h0m3.6 8h0m10-17.6h0m-6.5 14.5h0m-3.2-19.8h0m14.9 21.4h0m-9.9-4.8h0m-6.8 1.2h0m.2 4.6h0m1.1-9h0m2.7-10.2h0m1.4 2.8h0m-1.1 21.2h0m4.8-17.1h0m3.8 .8h0m-10.6 9.3h0m4-6.3h0m-4.6-9.5h0m-.5 7.5h0m9.1 3.2h0m-1-1.9h0m-9.3 14.9h0m-1.4-3.1h0m10.4-19.9h0m-10.7 6h0m9.5 14.9h0m-1.1-19.9h0m-7.3 5.9h0m-1.4 3.2h0m18.9-13.3h0m-13.9 6.2h0m-.6 3.4h0m1.6 21h0m4.9-10.2h0m-19.2 6.6h0m15.5-8h0m6.7-4.4h0m-16.5 .7h0m9-1.1h0m-11.9 4.7h0m12.8-1.1h0m1.3 .5h0m7-22.2h0m-11.9 15h0m2 9h0m4.6 7.3h0m3.9-23.1h0m-6.5 8h0m5.8 .2h0m-1.8-6.1h0m.9-6.3h0m-9.1 .2h0m-1.6 10.3h0m-2.1 9.5h0m9.2 6.5h0m2-12.6h0m9 3.2h0m-16.3-1.4h0m1.5-.6h0m-.4-4.1h0m8.6-2h0m-1.4 4h0m-4.1-3.3h0m7.7 .4h0m-11.5 15.7h0m-5.7-7.9h0m15.9-15.1h0m11.9-1.2h0m-11.1 21.4h0m-14.3-13.1h0m4.1-5.9h0m-4.3 14.1h0m17.3-10.4h0m-11-6.1h0m11.7 25.4h0m-20.5-31.3h0m12.3 11.2h0m-5.5 4.5h0m10.1-8.5h0m-9.6 4.4h0m10.2 7.4h0m5.9 2.6h0m-9.7-6.7h0m-7.7 .8h0m2.3-6.1h0m.5-1.6h0m2.9 10h0m-.9-10.4h0m5.6 3.7h0m-9 20.4h0m.1-11.7h0m.2 .8h0m11.4-12.9h0m-10.4 28.7h0m3.7-19h0m-8.5 12.9h0m5.4-7.1h0m1.3-1.1h0m-7.3-7.9h0m7 5h0m8.2 4.6h0m-2.7-5.1h0m8.1 5.9h0m-.6 .1h0m-18-17.7h0m2.9 13.9h0m3.5 8.2h0m-7.7-6.1h0m10.7-5h0m-3.5-5.6h0m-3.9 15h0m8.9-6.5h0m-15.1-1.7h0m8.8-.8h0m11.9 4.8h0m-13.3 3.9h0m7.5-14.2h0m.8 7.8h0m-2 .7h0m-4.1-11h0m-5.3 6.3h0m1.8 3.4h0m-.2-6.8h0m-5.7 1.1h0m9.1 11h0m5.3-1.7h0m-7.9-4.5h0m-2.6 8.8h0m-7.3-12.3h0m13-3.1h0m.6 10.7h0m-6.6 1.2h0m7.3-11.9h0m-2.8-2.8h0m-10.5 5.1h0m16.4-10.8h0m.1 7.7h0m-10.2-.4h0m2 10.2h0m-1.8-2.6h0m4.2-9.5h0m.8 .3h0m3.3-1.2h0m-3 15.2h0m8.3-16.2h0m-4.6-5.4h0m-.7 16.2h0m-5.3-8.1h0m5.2 17.5h0m-3.3-20.1h0m-13.1-1.1h0m6.7 18.6h0m7.1-7.8h0m6.3-10.5h0m-14.1 2.2h0m6.8 10.5h0m.5-7.7h0m-.4 19.7h0m-2.3-15.5h0m-4.1 15.3h0m16.6-29.6h0m-21.3 7.7h0m6.2-6.5h0m14.6 10.6h0m-13.1 1.4h0m4.4 .3h0m3.8 11.2h0m5.3-7.7h0m-3.6-5h0m-8.8-2.7h0m10 5h0m-6.7-3.5h0m3 7.9h0m.4-2.3h0m-3.8 13.6h0m-.9-18.5h0m-2 5.3h0m-.8-12.6h0m-6.8 3.4h0m8.4 32.8h0m-1.7-31.3h0m-7.3 14.2h0m17.9-15.7h0m-3.3 7.6h0m-4.6 .5h0m4.1-5.6h0m-3.1 7.1h0m6.6-4.4h0m-4.3 3.4h0m-9.8-13.3h0m1.6 17.3h0m8.8-11.9h0m-7.9 17.4h0m7.2-12.7h0m-3.8 6.6h0m8.6-18.9h0m5.1 10.4h0m-10.3-1.8h0m-1.4 5.4h0m-7.6 20.9h0m4.4-12.1h0m6.9-10.6h0m-6.6 4.6h0m6-10.2h0m-11.9 36.1h0m3.2-23.9h0m-10.4 22.8h0m5.8-34.7h0m8.5 13.4h0m-.4-2.5h0m5.3 11.4h0m-21.4-8.6h0m19.5-13.9h0m-19.2 11.4h0m15.4 10h0m-8.3-1.9h0m5.5-19.8h0m1.1 1.6h0m13.6-6.8h0m-16.2 16.5h0m16.1-19.3h0m-12 4.1h0m5.2 16.6h0m-10.7-3.9h0m10.8 11.5h0m7.5-2.9h0m-13.4-19.7h0m.3 2.5h0m1.6 13.2h0m7.3-7.6h0m-10.1 .4h0m-2.9-5.6h0m1.5 3.9h0m6.6 2.6h0m-5.7 3.7h0m-6.8 11.2h0m8.9-8.5h0m-3-4.5h0m9.4-7.3h0m-.9-8.6h0m-11.3-.4h0m3.8 14.6h0m-10.3 14.2h0m13.9-12.7h0m-3.2-.5h0m10.2-13.5h0m-6.7 19.5h0m5.4-3h0m-4.2 5.3h0m5-13.1h0m-2.9-2.9h0m-2.8-1.8h0m-4.4 14.9h0m-1.2 1.2h0m.3 6.4h0m2.8 9.1h0m-4.7-24.7h0m17.7 .8h0m-17.6-11.6h0m12.3 16.8h0m-10.2-8.5h0m3.2 2.1h0m8.7 14.1h0m-12.2-14.2h0m-2.8-10.1h0m-1.4 9.7h0m5.7 8.4h0m12-9.8h0m-.8-9.4h0m-7.3 14.7h0m-7.4-2.9h0m11.5 8.3h0m-.7-23.6h0m-6 15.5h0m-.6 4.6h0m9.3-5.1h0m-7.6-6.8h0m-3.3 4h0m12.3 2h0m6.6-1.1h0m-25.4-12.9h0m4.5 9h0m5.5 18.7h0m1.1-20.5h0m13.9 10.1h0m-13.8 .8h0m-1 3.2h0m-4.9-5.9h0m5.6 2.1h0m2.3-12.2h0m-9.8-1.7h0m9.6 12.9h0m-8 7.2h0m3.1-20.8h0m1.8 11.2h0m-1.9 6.1h0m-3.7 4.3h0m8.2-3.2h0m-.4-.8h0m4.9-12.1h0m-7 3.5h0m4.1-3.5h0m-7 3.4h0m-2.7 9.5h0m5.9-1.5h0m-1.1 1.3h0m4.1-14.6h0m6.2 15.7h0m-8.4 11.3h0m-17.1-12h0m11.1-10.8h0m6.7 11.7h0m.4-.4h0m-3.5-2.4h0m6.5-7h0m.7 5.5h0m-6.4-5.5h0m5.8-1.7h0m-16.5-4.3h0m9.1 2.3h0m.2 7.2h0m1.1 11.8h0m6.6-1.1h0m-2.8 0h0m.5-13.5h0m1.1 3.7h0m.3-4.2h0m.3 .8h0m-.8 15.3h0m3.8-13.7h0m-3.6-12.7h0m-1.5 2.4h0m-.8 1.9h0m6.3 5.8h0m-8.1 23.8h0m.1-10.1h0m-1.5-10.3h0m-.9-9.9h0m-1.9 17.1h0m-1.8-4.1h0m8.5 19.2h0m7.7-19.5h0m-5.5 4.1h0m-7.1-7.7h0m3.3 15h0m2.7-4.7h0m-6.6-7.8h0m-7.6 .5h0m16.3 1.3h0m4.7-1.7h0m-15.6-4.8h0m2.8 9h0m-2.6-.4h0m4.3 .5h0m5.1-1.5h0m-4-10.1h0m3.8 17.7h0m-12-6.4h0m4.9-3.4h0m-5.1-5.9h0m17.3-11.6h0m-19.1 21.2h0m10.6-7.8h0m2.8-1.4h0m-10.7-.9h0m10.1 2.2h0m2.7-3.8h0m-4.8 16.3h0m-2.8-5h0m-3.5-1h0m7.8 9.9h0m-1.8-22.8h0m-5.9 1.6h0m9.9 5.8h0m-6.4 1.9h0m17.7-15.5h0m-13.8 5.6h0m-3.1 16.8h0m-13.7-3.2h0m12.4-12.2h0m-4-5.1h0m-2.8 19h0m11.4 4.7h0m-9.6-15.2h0m4.2-1.1h0m-.2-.6h0m1.2 6.5h0m1.7-.6h0m8.4 13.4h0m-8.9-12.8h0m6-.1h0m-6.3 6h0m4.2-6.4h0m-7.9 8.7h0m-6.2-7h0m14.6-6.2h0m-8.9-10.2h0m-6.2 14.7h0m23.1 .5h0m-3.1 5.2h0m-16.1 6.9h0m9.7-13.3h0m3.2 12.3h0m-5.3-4.1h0m7.5-14.4h0m-1.3 3.9h0m-17 12.8h0m5.4 7.4h0m8.1-6.4h0m-.3 6.9h0m-1.4-2.3h0m-.7-21.6h0m3.2 13.8h0m-7.9-6.7h0m7.2-10.7h0m-9.8 35.5h0m11-28.4h0m-5 9.7h0m1.1-24.1h0m4.3 13.3h0m-4.6-1.1h0m-.8-4.5h0m.8 29.7h0m-5.5-17.1h0m13.5-11.4h0m-4.8 9.6h0m-3.2 2h0m-3.2 12.2h0m4.7-16h0m-11-3.4h0m10.2 1.5h0m-8.2 10.7h0m8.2-10.3h0m8.9 9.1h0m-7.3-.2h0m8.8-14.2h0m-.3-4.7h0m-12 20.2h0m6.3-15.6h0m3.2 5.9h0m-3.1 .7h0m-8.3-9.4h0m1.4 12h0m2.4-9.6h0m-.2 13.5h0m.7-22.3h0m-14.6 6.1h0m13.9 16.6h0m4.4-13.6h0m-8.1 9.5h0m1.4 .9h0m8.8-6.8h0m6.5-6.2h0m-16.3 12.2h0m-3.2 .8h0m17.7-3.1h0m-13.6 4.5h0m7.2-3.8h0m-9 7.4h0m1.2 2.7h0m6.7-9.4h0m-11.2-8.8h0m12.1 8.1h0m.3-1.2h0m-9.8 11.1h0m3.6-9.9h0m2.1 6.3h0m5.8-2.7h0m-6.3 .3h0m1.1-9.8h0m-.7 18.3h0m-1.9-11.3h0m-1.3-9.6h0m.1 17.5h0m8.7-6.3h0m-8.5-6.5h0m2.3 16.9h0m2.6-26.1h0m-4.3 6.1h0m-7.2 3.2h0m19.7 .4h0m-13.5 1.3h0m-7.2 8.6h0m16.8-6.5h0m-5.6 .8h0m.5-1.9h0m-4.6 7.1h0m3.4-4.5h0m7.7-15.9h0m-8 31h0m-3.3-14.7h0m12.4 4.1h0m-16.6 5.9h0m-.1 .4h0m7.3-17.4h0m-2.9 10.5h0m2.1 3.8h0m-10.3 2.6h0m14-9.5h0m-17.7 8.4h0m4.2-14.7h0m6.3 7.5h0m8.7 1.1h0m-7.7 3h0m18.4 2.2h0m-11.5-12.5h0m1.5 .3h0m-.6-2.8h0m-.9-6.2h0m-15.2 31.6h0m17.4-23.2h0m-16.6-8.5h0m14.8-1.3h0m-6.1 22.8h0m7.4-7.3h0m1.7-.5h0m-12.1 10.6h0m6-.5h0m-1.1-12.6h0m-9 8.5h0m18.3-19.2h0m-11.9 28.4h0m-8.5-10.1h0m10.6-18.4h0m1.9 9h0m-1-1.3h0m3.1 3.2h0m-1.1 11h0m-6.5 1.3h0m-5.4-17.8h0m17-6.7h0m-8.5 17h0m-5.3-8.3h0m-7.5-1.4h0m7.2 15.7h0m12.5-4.8h0m-10.9 6.8h0m7.7-2.9h0m-1.3-8.4h0m1.5-8h0m-3.1 1.2h0m4.8 8h0m-5.9-4.5h0m16.8 2.4h0m-12.4-2.9h0m-.1-9.8h0m-3.9 1.8h0m8.5 19.4h0m-4.9-6.3h0m-5.8-1.3h0m8 1.1h0m-7.7-.8h0m6.1-4.6h0m2.1 1.8h0m1.3-9.3h0m-5.8 3.9h0m.2 26.3h0m-2.4-24.2h0m4.3 13.7h0m.9-8h0m-18.4-8h0m9.3 15.8h0m2.7-3.8h0m-2.1-8.4h0m7.4 11.2h0m-1.8 4h0m-5-8.6h0m6-2h0m2.6-1.4h0m1.6 14.5h0m-4.6-20.4h0m-5.3 .8h0m4.8 2.6h0m-11.2 7.8h0m4.6-7.4h0m11.7 16.6h0m-9.4-19.1h0m6.9 11.4h0m-4.4-15.5h0m-6 9.9h0m3.5 11.8h0m-3.7-13.7h0m-3.3 9.6h0m8-15.6h0m-5.8 3.9h0m12.5-2.8h0m-4.1 5.6h0m-.3 9.1h0m-2.4-.3h0m12.8-14h0m-14.9-10.8h0m19.3 9.6h0m-9.5 8.7h0m-8.6-16.8h0m-.3 16.7h0m6.2-.3h0m-2.8-.8h0m-1.8 .6h0m6.2 2.4h0m-1.2-11.4h0m-6.3 14.8h0m13.2-5.6h0m-.1 10.9h0m-15.9 2.8h0m5.5-21.6h0m-20.3 9.1h0m27-.8h0m-4.8-1.2h0m-10.4-4.9h0m5.2 11.8h0m2.6-3.6h0m-.5 13.1h0m0-13.6h0m5.3-9.9h0m-6.1 15.5h0m-4.8 6.5h0m-3.8-16.6h0m7.3-5h0m5.3 13.5h0m2.6-1.6h0m5.9-7.8h0m-4.8 1h0m-12.6 18h0m5.7-14.1h0m2.8-1.5h0m-1.2-2.1h0m-8.9 4.8h0m7.5-11.1h0m5.9-4.3h0m-8.5 6.2h0m1.7-7.7h0m-5.7 14.7h0m9.4 6.5h0m-11.4-8.3h0m17-5.4h0m-10.6 .9h0m6.9-1.4h0m5.8-8.5h0m-15.4 14.7h0m-10 1h0m20.2-11.6h0m-13.7 21h0m12.1-23.1h0m-6.9 11.8h0m14.4-4.4h0m-17-5.4h0m14.9 8.2h0m-9.6 7.5h0m3.7-16.8h0m-4.6 35.9h0m-8.3-18.1h0m8.6-11h0m-2.9 18.4h0m2.6-15.4h0m3.2-15.5h0m-.8 2.6h0m-1.8 9.5h0m-7.6 15.2h0m13.1-12.6h0m-5.6-2.2h0m2.3 21.5h0m2.8-24.1h0m1.2-.3h0m3-4h0m-6.2 14.6h0m.1-3.3h0m.9-7.5h0m-1 12.8h0m3.9-12.7h0m-6.6-4h0m0 3.1h0m5.5 7.8h0m-3.7 9.7h0m5.3-14.8h0m-11.7 12.5h0m7.7-17.5h0m-7.2 26.2h0m9.8-16.5h0m-7.7-10.9h0m8.4 11.5h0m-7.8-3.6h0m15-8.6h0m-2.3 3.2h0m-2.1 4.3h0m-15.9 17.8h0m11.1-7.3h0m-7.1 4.3h0m2.3 .3h0m9.5-17.7h0m-10.2 17.8h0m7.1-10.7h0m-14.7 12.7h0m19.2-1h0m-4-18.3h0m-3.2 7.7h0m-13 7.4h0m4.7-14.6h0m17.4 5.9h0m-11.3-9.2h0m3.9 4.8h0m-7.1 .9h0m4.3-3h0m-11.4-6.8h0m9 23.6h0m2-15.3h0m-6.5 10.3h0m3.2-5.5h0m-12.8 7.6h0m26.3-17.2h0m-12.4-1.1h0m-8.4-2.3h0m14.2 13.4h0m-11.3 1h0m17.5-3.4h0m-14.8-.5h0m1.3 10h0m2.5-24.1h0m-1.9 24.5h0m6.5-7.6h0m-10.4-8.5h0m3.2 7.5h0m-.5-.1h0m-2.3-7.1h0m16.3 13.2h0m-1.2-13.9h0m-13.7 13.8h0m9.9-12.7h0m-5.9 4.5h0m12.3 2h0m-5.8-11.7h0m-8.6 29.3h0m-1.3 1.9h0m8.3-15.6h0m-2.3-8.5h0m-6.5 10.1h0m9.9 1.4h0m-3.4-15.4h0m-6.4 12.4h0m9.4 7.8h0m-2.1-14.6h0m-1.9-1h0m-2.4 9.3h0m-1-2.9h0m5.5 10.4h0m1.6-15.8h0m-12.2 26.3h0m19.7-6.5h0m-7-15.9h0m7.2-16h0m-8.7 23.4h0m1.7-3.7h0m-3.3 7.5h0m-2-12.9h0m-.9 2.6h0m-4-8.7h0m.4 6.6h0m-1.4-2.7h0m6.7-7.3h0m11.9 12.9h0m-6.4-.2h0m-5.3 3.9h0m3.5-6.2h0m-12.9 4.2h0m6.3 2.8h0m1.5-19.8h0m4.6 21.6h0m3.3-6.6h0m-17 4.1h0m14.2-13.5h0m-5.8 .4h0m-.6 10.5h0m-4-9.8h0m-5.6 23.2h0m18.7-17.7h0m-11.9 .1h0m13.7-6.1h0m-21 12.1h0m18.6-14.9h0m-12.6 23.9h0m-4.4-7h0m7.2-21.9h0m3.6 20.4h0m-11.3-.7h0m5.5 9.8h0m1.7 9.3h0m7.5-38.4h0m6.7 10.3h0m-3.8 8.7h0m-9-11.4h0m2.7 9.2h0m4.7-8.6h0m-9.2 16.7h0m2.7-14.4h0m-.1 9.3h0m7 .8h0m-6.1-8.2h0m9.7 2.4h0m-8.3-.4h0m5-.5h0m-12.8 3.4h0m7.5 6.6h0m.2 2.4h0m-5.9-12.8h0m10.3 11.9h0m-3.4-17.7h0m-3.2 11.4h0m-1.2-1h0m11-6.7h0m-1-9.8h0m-5.3 6.9h0m.4 1.2h0m.6 .6h0m-5.8-8.7h0m6.8 13.3h0m8.7-4.3h0m-7.4 2.4h0m-11 10h0m-.5 4.6h0m2.4-3.3h0m6.9 4.1h0m-4.5 4.4h0m4.1-11.3h0m-8.7 20.3h0m1.1-14.6h0m-1.9 13.9h0m-.9-13.7h0m8.2 7.3h0m1-7h0m-6.6 6.3h0m7.1 2.3h0m-2.5 4h0m-1.8 .3h0m6-5.6h0m-8.7-2.4h0m1-6.2h0m-1.4-3.7h0m2.5 4.1h0m.2-1.3h0m3.1 7.7h0m2.6 5.8h0m-9.9-7.2h0m6 5.8h0m1.4-6.8h0m-1.5 13.5h0m-.5-13.4h0m5.9-2.7h0m-10.1-1.7h0m2.8 12.5h0m3.8-12.6h0m-8.6 13.4h0m8.8-2.8h0m-1.7 6.7h0m-1.3-6.1h0m5.5-.3h0m-7.9 .1h0m8.7-4.5h0m-8.6-6.5h0m6.4 3.2h0m-5.8-1.2h0m3.3 4.6h0m-5.8 3.8h0m-.9-9.9h0m3.9 12.9h0m.9-5.5h0m-5.5-9.3h0m12 2h0m-4.8 4.1h0m7-3.5h0m-14 6.2h0m6.4-3.2h0m-2.3 8.3h0m2.1-1.9h0m-2.3-2.5h0m5.1 .9h0m-4.9-2.1h0m3.5 15.5h0m-7.2-11.8h0m-.5 2.4h0m6.5 .6h0m-3.4-9.4h0m.9 3.6h0m4.9-10.5h0m-4.1 1.1h0m5.7 5.8h0m-1.8-5.9h0m-13 11.2h0m7.3-10.5h0m3 2h0m2.8 9h0m-1.7-7.2h0m-.1 2.7h0m-1.8 1h0m1.8-1.5h0m-4.9 2.5h0m6.6-12.3h0m-3.7 15.9h0m.2 2.3h0m-1.3-7.2h0m7.5 7.8h0m-8.2-8.3h0m5.1 7.1h0m-7.7-2.4h0m5.4-1.8h0m.9-3.3h0m-.2 .8h0m-2.3 .8h0m.8 9.5h0m3.3-6h0m-3.7-8.7h0m0 .4h0m3.5-1.7h0m-7 6.6h0m.8 2.6h0m4.7-10.6h0m-3.8 8.2h0m3.9 3.7h0m1.9-3h0m.8 .7h0m-3.1 .3h0m-2.2-17.5h0m-.8 26.2h0m.4-11.4h0m3.5-9.2h0m3.5 20.4h0m-8.4-11.7h0m4.6-1.7h0m.9 .8h0m-6.7 3.7h0m6.9-7.9h0m-2.7 11.1h0m-.3 3.4h0m.1-9.7h0m-7.5 4.6h0m8.1-2.3h0m-3.3-5.4h0m1.3 11.5h0m4.6-8.5h0m5.1-5.1h0m-10.3 2.7h0m.1-3.9h0m.4 2.7h0m-6.4-.9h0m10.5 12.6h0m-.7-2.8h0m-4.2-.4h0m.4 12.6h0m8.7-22.6h0m-6.6 4.5h0m-1-3.4h0m1.9 8.2h0m1.5-9.3h0m-7.7 2.4h0m6.3 9.3h0m-3.7-6.3h0m1.7 5.5h0m2.7-8h0m-5.8 5.4h0m-1.6 5.3h0m6.7-11.4h0m1.5 4h0m-10.5 3.7h0m6.2 4.1h0m-.9-7.3h0m4.7-6h0m-1.3 8.6h0m4.4-6.2h0m-3.3 5.7h0m-.9-1.6h0m2.5 5.9h0m-3.1-.2h0m-4.2-5.4h0m1.9-1.8h0m1.9-3.5h0m-2.4 5h0m1.5-9.8h0m1.9 9.4h0m-5.4-5h0m4.3-5.2h0m2 6.8h0m2.4-4.6h0m-5.1 6.8h0m3.1 1.9h0m-8.5 3.6h0m7.6-7.6h0m-.7 6.3h0m.6-8h0m-1.4 3.8h0m-.3 7.8h0m5.1-4.2h0m-8.9 3h0m-2.5-11.4h0m6.1 11.7h0m.2-8.8h0m2.2-3.5h0m1.1 1.5h0m-3.2 6.4h0m-.6 1.6h0m4.8-3.2h0m-2.1 9.4h0m-7-1.5h0m5.1-7h0m1.8-3.3h0m0 13.1h0m2.8-4.3h0m-4.2 1.1h0m3.5-10.5h0m-5.3 8.1h0m-1.2 4.1h0m2.5-15.5h0m-.3-.5h0m-1.3 6.8h0m-2.3 .7h0m6.8-12.7h0m.1 17.4h0m-1.3-7.3h0m2.4 .4h0m-2.9-4.6h0m1.4 3.9h0m-8.1 2.9h0m2.6-2.1h0m5.9 4.2h0m-1.4-9h0m-3 1.1h0m5.6 6.3h0m-1.8 1.7h0m-2.6-5.2h0m1 6h0m.8-2.5h0m3.1 8.2h0m-3.2-1.3h0m-5-11.9h0m.6 5h0m2.2-11.3h0m1 22.6h0m-.2-11.3h0m-4.1 .1h0m6.9 .6h0m-1.6 0h0m1.4-1.2h0m-8.8-6.4h0m6.3 3.5h0m-2.3 6h0m2.3-2.4h0m-1.4 3h0m3.9-.6h0m-2.9-4.8h0m-1.8-1h0m-1.2-1h0m4.8 7.3h0m-1-4.5h0m4.6 .8h0m-6 4.6h0m-4.2-1.1h0m2.8-6.4h0m.7 4.4h0m-.6-6h0m-1.9-3.5h0m5.4 2.5h0m1.3 6.7h0m.5 7.5h0m-5-18.8h0m2.5 18h0m.2-6.2h0m.7-9.4h0m-4.6 6.6h0m8.7 2.8h0m-9.6-3h0m1.2 .3h0m1.3-12.4h0m-1.5 15.1h0m2.6-2.6h0m-.8-2h0m.4 .8h0m2.5 .9h0m-4.3-1.9h0m.5 5.3h0m1.3 8.8h0m1.7-.8h0m2-9h0m-3.3 .6h0m-2.5-4.1h0m5.7-3.3h0m2.7-7.8h0m-6.5 17.9h0m7.1 4.3h0m-13.9-3.3h0m9.9-16.7h0m-.8 4.3h0m-.1 4.1h0m-1.2 .5h0m-.2-7.4h0m3.5 4.3h0m-2 1.1h0m-1.9 6.7h0m.9-7.6h0m2 3.7h0m-6.2-4.3h0m4.5 8.8h0m3.6 2.6h0m-3.6-16.4h0m-.6 10.8h0m6.1 4.2h0m-6.7-6h0m2.8 4.5h0m.4-4.2h0m-4.5 8h0m-.8-.6h0m-.4 .1h0m-1.6-11.5h0m4.3 2.9h0m-1.1 .8h0m-.4-.5h0m2-.8h0m.1-1h0m-4.9-2.8h0m1.8 9.9h0m-.7-3.6h0m-1.2-8.6h0m8.6 3.3h0m-3.4 .9h0m-.5 1.7h0m3.2-4.4h0m-5 7.6h0m-3.5 3.2h0m6.1-8.2h0m-2.7 12.4h0m5.4 1.3h0m-2.1-14.5h0m-4.8 10.9h0m-1.9 1.9h0m8.8-.6h0m-1 1.6h0m-7.9-7.5h0m7.3 8.1h0m-4-5h0m3.5-16.5h0m-1.7 7.2h0m-4.1 7.8h0m1.7-.6h0m5-5.5h0m-4.4-4.8h0m5.2 6.6h0m-1.2 .8h0m-7-5.5h0m9.9 5.1h0m-6.4 3.6h0m5.7-6.2h0m-9 6.9h0m10.9-14.1h0m-6.2 11.5h0m-.3 1.1h0m.1-2.7h0m-.9-10h0m4.5 8.2h0m-4.7 7.9h0m1.5-6h0m3.2 11.3h0m1.3-14.3h0m-1.1-1.4h0m-7.4 5.6h0m3.2-2.9h0m4.8 8.2h0m-5.8-15.3h0m3.2 15.3h0m.5-3h0m2.1 1.3h0m-11.5-6.2h0m5.2 4.7h0m2.2-11.6h0m-.4 4.9h0m2-7.1h0m-1.1 10.8h0m-3.3-3.7h0m4.7 9.2h0m-6-6.6h0m2.3 4.1h0m-.6 1.9h0m3.4-3.6h0m.6-4h0m2.5-4.4h0m-5.6 5.1h0m.2 1.3h0m1.7-2.8h0m-1.5 .4h0m.3 4.3h0m3.2-5.2h0m-4.5 14.8h0m-.4-5.9h0m-1.2-6.1h0m1.1-1.6h0m1.4 2.5h0m-1.8 12.2h0m5.5-8.3h0m-8.1-12.7h0m1.7 14.1h0m-4.7-6.4h0m7.7-4h0m7.3 11.8h0m-1.8-9.3h0m-5.4 3.3h0m0-1.1h0m.5-7h0m1.3 2.1h0m-5.3 20.6h0m.6-5.6h0m7-10.7h0m.5 4.5h0m-4.7 4.5h0m2.9-10h0m3.5 5.5h0m-2.2-14.2h0m-4.3 14.2h0m-1.6-7h0m7.8 .1h0m-6.1 4.4h0m2.7 .2h0m-1.8 3.7h0m-2.5-5.1h0m2.1 .8h0m-.6-3h0m3.6 10h0m1.3-5.2h0m-.1-.8h0m.9-.8h0m-5.7 3h0m1.5-9.3h0m-4 7.2h0m1.6-1.9h0m-2.2 2.6h0m10.3-1.6h0m-6.2 5.3h0m-1.2 3h0m2.2-3.7h0m.6-6.8h0m-4.3 15.1h0m8.2-17.5h0m-5.8 1.3h0m-2.1 1h0m-.8 5h0m2.4-8.1h0m5.5 8.5h0m-1.7-3.1h0m-1.4 7.5h0m-2.2-2.8h0m3.2-13.2h0m-.7 2.6h0m-5.6 1.6h0m-.4 3.8h0m3.5 1.1h0m5.6-1.6h0m-5.7 5.5h0m2 .1h0m-5.6-6.2h0m10.7-2.2h0m-4.5 4.2h0m-4.2 9h0m-5.9-3.4h0m1.2-11.4h0m7.1 5.5h0m-2.2-3.9h0m3.5 19.8h0m-4.2-13h0m3.5-7.1h0m-1.2 2.5h0m-5.1 .2h0m6.4 3.6h0m1.5 .9h0m-3.5 6.9h0m5.7-8.7h0m-.7-3.1h0m-5.2-.7h0m1-3.2h0m6.4 17.1h0m-4.2-10.7h0m-5.2 5.7h0m2.9-8.5h0m-2-7.9h0m1.5 6.8h0m-6.4 2.2h0m5.8 3.5h0m3.5 .1h0m3.9-3.5h0m-6-8.3h0m4.8 9.7h0m-2.9-1h0m4.9 1.5h0m-9.5-2.8h0m4.2-.9h0m-9 10.5h0m12.3-14.8h0m-7 4.7h0m-.5-.2h0m3.2-3.3h0m5.3 1.6h0m-3.9-9.4h0m3.8 9.8h0m-3.9-1.6h0m.2 14.3h0m-2.4-12.3h0m5.4 4.5h0m-2.8-.3h0m-1.8-6.8h0m-1.2 12.8h0m-.3-9.4h0m3 8.9h0m-4.1-4.1h0m5.8-11.8h0m-.6 7.2h0m-4.8 5.2h0m5-8.8h0m-10.7-5.6h0m4.9 20.1h0m6.2-7.5h0m-6.8 10.4h0m6.3-12.4h0m-5.6 .9h0m-13.9-7.9h0m12.3 .4h0m-4.8-9.9h0m13-2.4h0m.5 4.9h0m-11.2 3.3h0m3.2-8.5h0m10.1-1.7h0m2.3-7.1h0m-19.4 4.6h0m-3 6.6h0m21.8 16.8h0m1-2.2h0m-26.8-1.8h0m8.3-5.8h0m3.3 1.9h0m-4.8-13h0m15 10.2h0m-5.4-16.6h0m-3.6 15.3h0m9.7-6.4h0m-3.4 15h0m.2-6h0m-6.1-12.8h0m-6.4 6.1h0m20.9 7.6h0m-15.7 12.3h0m-4.3-24.9h0m5.4 11.5h0m-7.6 4.7h0m3.7-10h0m2.9 1h0m7.7-20.9h0m-4.9 18.9h0m-8.3-1.4h0m12.9 1.2h0m-4.2 16.2h0m7.1-21.8h0m-10.4 3.3h0m6.3 1.9h0m-3.7-11.9h0m-4.1 11.5h0m-8.4 17.1h0m13.1-16.9h0m9.5 2.4h0m-21.4-10.7h0m13.4 2.7h0m11.4 3.1h0m-11.9-12.2h0m-1.5 18.1h0m-2.7 3.3h0m.1-1.2h0m-5-9.7h0m12.1 .6h0m.1-.6h0m-5.3 3h0m-8.6 14.6h0m15.3-13.5h0m-3.8 6.5h0m-6 8.2h0m16.3-12.5h0m-8.9-12.5h0m-1.6 17.3h0m-8.5-1.6h0m5.3-2.6h0m2.1 2.2h0m6.2 14.4h0m.1 2.7h0m-1.9-16.4h0m-11.3 8.8h0m-4.6-27.5h0m8 22h0m3.3-10.3h0m-3.7 10.6h0m-.8-15.6h0m2.3 15.2h0m8.7-1.5h0m-13.4-8.5h0m2.1-9.4h0m5.3 1.8h0m-.3-2.6h0m4.5 8.6h0m-5.1-6.7h0m-12.3 17.5h0m7.5-3.6h0m-7-12.4h0m6.6 9.5h0m9.7-4.2h0m-5.9 25.6h0m-.3-26h0m18.7 12.6h0m-40.2-16.7h0m21.6 10.9h0m-1-4.6h0m3.7-5.5h0m-8.7 2.4h0m16.7-13.1h0m-7.5 17h0m1.1 15.8h0m-20.6-12.6h0m23.3 8.7h0m-17.6-22.1h0m9.9 14.7h0m-8.4 10.3h0m14.3-14.7h0m-13.7 5h0m5.6-18.4h0m-2.5 34.8h0m12.3-25.3h0m3.7 9h0m-15-11.2h0m3.2 14.7h0m-5.8-8.1h0m1.8-7.5h0m.5 1.5h0m2.7 3h0m15.5 13.6h0m-1.6-13.8h0m-27.8 8.1h0m5.9-2.2h0m6.7 8.1h0m14.2 4.6h0m-17.5-20.1h0m.7 15.3h0m13.7-11.3h0m-2-.4h0m-2.7 20.1h0m-6.7-12h0m8.2-6.6h0m-8.4 .3h0m5-6.3h0m-10.6-2.9h0m9.8 11.2h0m-3.7 3.1h0m-2.8-6.9h0m12.9-2.5h0m-8.2 20.5h0m-3.3-12.3h0m1.2-18.6h0m1.9 11.9h0m3.5-5.4h0m-5.2 18.8h0m8.1-7.1h0m.6 5.8h0m-4.2-.1h0m-8.4-22h0m.8 8.1h0m5.7-3.1h0m-1.6 7.1h0m17 3.7h0m-18-12.9h0m12.2-1.7h0m-17.8 19.7h0m-.5-3.8h0m10.3-.9h0m-12.9-3.1h0m14.1 1.3h0m-.4 10.9h0m-6-13.2h0m11.1 5.7h0m.6 2.1h0m-16.7-8.8h0m20.7 2.3h0m-15.4 11.3h0m14.9 7.9h0m-17.1-11.7h0m14-1.5h0m-10 14.7h0m11.9-23.9h0m-2.2 13.8h0m-11.1-16h0m8.1 7.4h0m-8.7 6.3h0m13.2-24.1h0m-9 14.4h0m-9.4 10.2h0m7.9-9.5h0m2.3 4.7h0m-9.1 2h0m3-10.7h0m15.6 14.6h0m-4.1-9.5h0m-9.7-2.9h0m3.9 15.3h0m18.1-.1h0m-13.1-24.4h0m-1.3 8.2h0m-.8-5.2h0m3.9 12.6h0m-3.7-4.1h0m-13.3-2.9h0m7.4-3.2h0m4.7 2.8h0m6.6 5.4h0m-15.2 17h0m10.7-17.7h0m1.8-3.9h0m-18.7 .4h0m27.7-.5h0m1 1.5h0m-12.8 22.5h0m2.9-24.4h0m8.1 17.2h0m-19.4-10.8h0m-6.9 11.5h0m13.8-17h0m-4.9 7.1h0m11-3.4h0m-12.7-1h0m7.3 7.2h0m-6.4-17.2h0m3.9 27.9h0m-2.2-13.1h0m3.2-6.7h0m5.9-3.4h0m.4 15.3h0m-10.6-14.3h0m12.5-15.7h0m-16.8 16.5h0m14.7-8.2h0m-.3 8.5h0m1.4 4.6h0m-27.9 .7h0m11.5 10.7h0m10.5 1.5h0m-4.8-22.4h0m6.5-.4h0m-12.5 13.1h0m19.2-23.1h0m-19.2 21.8h0m18.5 6.1h0m-4.9-5.2h0m-25.5-9.9h0m15.8 12.3h0m2.8 12.6h0m-2.6-14.1h0m1.8-19.9h0m4 35.1h0m7.5-40.3h0m-13.7 31.2h0m6-10.7h0m.7-8.7h0m2-8.1h0m-9.1 25.6h0m12.1-3.3h0m5-1h0m-16.4-5.6h0m9.5 7.8h0m-3.4-29.3h0m-3.3 13.9h0m14.2 8.4h0m-16.5 3.2h0m6.6-9.8h0m18.8 9.7h0m-24.5-13.5h0m1.6 19.1h0m-9.5-7.8h0m17.2-18.1h0m.6 6.2h0m-3.4 5.3h0m-8.3 16.6h0m14.5-19.7h0m-9.6 8h0m-6.3 8.7h0m-2.1-9.2h0m14.3-12.9h0m-3.5 25.3h0m-2.3-26.7h0m.7 17.8h0m-5.9 8.4h0m3.5-8.5h0m0-4h0m-6.5 5.7h0m11.7-7.9h0m5.4 11.6h0m.5-6.7h0m-9.4 10.8h0m12.3 6.9h0m-12.3-22.4h0m0-1.8h0m2.9 8.1h0m1.6-7.4h0m3.1 15.9h0m-9.2-5.4h0m14.9-9.5h0m-18 3.4h0m17.8 8.5h0m0-23.8h0m-5.8 5.2h0m-10.9 10.4h0m-3.1-10.1h0m4.8-3h0m.9 22.3h0m0 9.2h0m1.8-26h0m-5.4 23.1h0m12.9-16.4h0m-3.7-4.8h0m-5.3 3.2h0m-.3 .4h0m-9.8 8.7h0m8.1-20.1h0m-3.6-2.5h0m6.1 3.1h0m-1.3-4.8h0m9.7 10.2h0m-19.9-9.4h0m3.9 .1h0m12.6 6.5h0m-6 .8h0m5.5 6.6h0m-10.1-12.5h0m16 13.5h0m-15.5-6.4h0m6.1 13.8h0m12.8-7.2h0m-7.8-7.2h0m-8.8 26h0m8.7 3.7h0m5.5-19h0m-29.2-1h0m17.3 .5h0m6.5-16.9h0m-11.8 9h0m15.1 26.9h0m4.6-6.4h0m.7-27.7h0m-21.4 2.6h0m5.1 13.5h0m-.1 13.5h0m2.6-10.4h0m-1.9-13.8h0m3.2 3.2h0m5.1 2.8h0m-4.2-1.3h0m1.5 18.8h0m-2.7 11.3h0m3.7-24.2h0m1.2 8.4h0m-7.1-11.8h0m1.4-3.5h0m-9-11.1h0m19.5 3.6h0m-2.9 13.9h0m-5.2-4.9h0m-16.7-5.8h0m10.5 5.6h0m-6.5-3.6h0m16 11.8h0m2.2-.5h0m-3.6-13.4h0m-7.9 7.5h0m-3.5 .8h0m6.9-3.4h0m11.1-14.1h0m-5.1 26.8h0m-1 7.4h0m7.2-11h0m-21.9-10.5h0m8.1 13.8h0m6.6 .9h0m-5.3-16.9h0m.8-3.9h0m5.6 9.1h0m-3.9 20.1h0m-1.2-21.1h0m-4.2 1.9h0m-4.8 3.2h0m10-10.6h0m2 17.5h0m4.4-12h0m4.5 5.9h0m-12.8 1.8h0m9.4-16.7h0m.8 21.4h0m-18-15h0m7.9 18.7h0m10.3-25.8h0m-24.8 23.1h0m14.4-7.4h0m-8.8 2.7h0m15.5-20h0m-7.4-5.3h0m6.2 23.5h0m11.4-.8h0m-18 8.4h0m-4.2-13.2h0m21 3.3h0m-16.3 5h0m-17.7-18.6h0m12.7 10.9h0m-2.6 4.4h0m6.6 3.7h0m3.9-13.4h0m-2.6 1.4h0m3.8-2.7h0m-4.2-9.2h0m7.1 22.1h0m3.2-.2h0m9.4-2.9h0m-33.9-7.6h0m2.2 4.8h0m17.7-14.3h0m-4.6-3.2h0m8.2 26.2h0m-19-6.2h0m20.9-12.1h0m-13.8 25.4h0m8.8-7h0m2.1-12.1h0m-3.3-5.3h0m-5.5 14.7h0m12.6-11.5h0m-18.1-2.3h0m5-5.9h0m-4.4 12h0m7 12.9h0m-11.2-5.3h0m21.9-8.9h0m-8.1 13.7h0m2 1h0m-2.3-8.3h0m-6 1.8h0m21 12.7h0m-18.1-15.7h0m3.6 21.8h0m.2-17.5h0m-5.9-4.8h0m-8.4 7h0m22.1 2.7h0m-14-12.7h0m1.6 21.8h0m8.3-25h0m-22.5-5.4h0m11.6 10.9h0m-1.6-7.8h0m3.2 1.6h0m-.6 2.8h0m8.9 .2h0m10.5 6.1h0m-10.5-24.5h0m.5 67.5h0m-15.4-1.8h0m13.8-22.7h0m-2.7 4.9h0m-.1 .1h0m.5 16.5h0m1.6-10.7h0m-3.1 21.1h0m-1.4-1h0m6.8-14.9h0m-3.9 10.3h0m3.3-3.9h0m7.3-14.5h0m-16-2.5h0m1.8 14.8h0m.7-7.3h0m2.5 12.4h0m7.1-4.7h0m-4.9 9.6h0m2.5-27.3h0m3.2 8.5h0m-15.5 15.2h0m6.5-18h0m-1.3-5.3h0m4.4 7.9h0m-5.8-6.7h0m10.6 15.9h0m-8.5-18.9h0m-1 3.2h0m-1.1 2.2h0m-1.1 21.9h0m5.1-16.5h0m-2.2 11.4h0m3.6-3.9h0m-3.2-12.7h0m3.7-4.5h0m-.9 .5h0m3.5 24.4h0m-1.5-16.3h0m-5 5.4h0m7.1-9.2h0m-7.3-7.5h0m-1.3 18.7h0m7.1-.6h0m-8.5 3.4h0m2.3-18.8h0m-3.4 24.7h0m.1-7.1h0m7.1-9.2h0m-4.8 11h0m10.3 5.5h0m-.9-24.3h0m-4.4-2.1h0m-4 30.7h0m2.6-6.9h0m-1 4.6h0m5.5-5.7h0m-12.1-20.4h0m7 28.4h0m.9-3.1h0m1.3-24.4h0m1.2 17.1h0m-4.4-.3h0m4.1-20.8h0m-7.2 12.6h0m9.2 .7h0m-3-10.5h0m-2 4.4h0m5 1h0m-7.3-5.2h0" stroke="#000" stroke-width="1.0" stroke-linecap="square" fill="none"/>
<path d="M280.4,231.6H375.2" stroke="#d0d0d0" stroke-width="1"/>
<path d="M280.4,231.6V325.9H375.2V231.6" stroke="#333" stroke-width="1.1" fill="none"/>
<text x="370.0" y="241.0" font-size="8" fill="#262626" text-anchor="end" font-weight="normal" >87.5</text>
<text x="274.8" y="323.9" font-size="8" fill="#262626" text-anchor="end">0</text>
<text x="263.0" y="307.5" font-size="8" fill="#262626">10<tspan font-size="5" dy="-3.8">2</tspan></text>
<text x="263.0" y="286.5" font-size="8" fill="#262626">10<tspan font-size="5" dy="-3.8">3</tspan></text>
<text x="263.0" y="264.6" font-size="8" fill="#262626">10<tspan font-size="5" dy="-3.8">4</tspan></text>
<text x="263.0" y="243.6" font-size="8" fill="#262626">10<tspan font-size="5" dy="-3.8">5</tspan></text>
<text x="285.3" y="338.6" font-size="8" fill="#262626" text-anchor="start" font-weight="normal" >0</text>
<text x="297.4" y="338.6" font-size="8" fill="#262626">10<tspan font-size="5" dy="-3.8">2</tspan></text>
<text x="319.6" y="338.6" font-size="8" fill="#262626">10<tspan font-size="5" dy="-3.8">3</tspan></text>
<text x="340.8" y="338.6" font-size="8" fill="#262626">10<tspan font-size="5" dy="-3.8">4</tspan></text>
<text x="360.4" y="338.6" font-size="8" fill="#262626">10<tspan font-size="5" dy="-3.8">5</tspan></text>
<path d="M289.7,325.5v1.6M292.2,325.5v1.6M293.9,325.5v1.6M295.3,325.5v1.6M296.4,325.5v1.6M297.3,325.5v1.6M298.1,325.5v1.6M298.9,325.5v1.6M299.5,325.5v2.2M306.2,325.5v1.6M310.1,325.5v1.6M312.9,325.5v1.6M315.0,325.5v1.6M316.8,325.5v1.6M318.3,325.5v1.6M319.5,325.5v1.6M320.7,325.5v1.6M321.7,325.5v2.2M328.1,325.5v1.6M331.8,325.5v1.6M334.5,325.5v1.6M336.5,325.5v1.6M338.2,325.5v1.6M339.6,325.5v1.6M340.8,325.5v1.6M341.9,325.5v1.6M342.9,325.5v2.2M348.8,325.5v1.6M352.3,325.5v1.6M354.7,325.5v1.6M356.6,325.5v1.6M358.2,325.5v1.6M359.5,325.5v1.6M360.6,325.5v1.6M361.6,325.5v1.6M362.5,325.5v2.2" stroke="#000" stroke-width="0.7"/>
<path d="M280.4,316.2h-1.4M280.4,313.2h-1.4M280.4,311.1h-1.4M280.4,309.5h-1.4M280.4,308.2h-1.4M280.4,307.1h-1.4M280.4,306.1h-1.4M280.4,305.3h-1.4M280.4,304.5h-2.2M280.4,298.2h-1.4M280.4,294.5h-1.4M280.4,291.9h-1.4M280.4,289.8h-1.4M280.4,288.2h-1.4M280.4,286.8h-1.4M280.4,285.5h-1.4M280.4,284.5h-1.4M280.4,283.5h-2.2M280.4,276.9h-1.4M280.4,273.1h-1.4M280.4,270.3h-1.4M280.4,268.2h-1.4M280.4,266.5h-1.4M280.4,265.0h-1.4M280.4,263.7h-1.4M280.4,262.6h-1.4M280.4,261.6h-2.2M280.4,255.3h-1.4M280.4,251.6h-1.4M280.4,249.0h-1.4M280.4,246.9h-1.4M280.4,245.3h-1.4M280.4,243.9h-1.4M280.4,242.6h-1.4M280.4,241.6h-1.4M280.4,240.6h-2.2" stroke="#000" stroke-width="0.6"/>
<text x="51.72" y="222.6" font-size="9.6" fill="#262626">CD8</text>
<text x="71.94" y="225.3" font-size="7.3" fill="#262626" textLength="50.80" lengthAdjust="spacingAndGlyphs">CXCR5- ICOS-</text>
<text x="168.02" y="222.6" font-size="9.6" fill="#262626">CD8</text>
<text x="188.03" y="225.3" font-size="7.3" fill="#262626" textLength="58.70" lengthAdjust="spacingAndGlyphs">CXCR5+ ICOS+</text>
<text x="316.89" y="224.2" font-size="10.2" fill="#262626">T</text>
<text x="322.53" y="225.3" font-size="7.3" fill="#262626" textLength="10.20" lengthAdjust="spacingAndGlyphs">FH</text>
<path d="M12.3,328.8V291" stroke="#000" stroke-width="1.1"/>
<path d="M9,292.5L12.3,285.2L15.6,292.5Z" fill="#000"/>
<g transform="translate(15.6,280.7) rotate(-90)">
<text x="-0.38" y="0" font-size="9.6" fill="#262626" textLength="14.67" lengthAdjust="spacingAndGlyphs" >PD-1</text>
</g>
<path d="M34.2,349.6H190" stroke="#000" stroke-width="1.0"/>
<path d="M189,346.5L196.8,349.6L189,352.7Z" fill="#000"/>
<text x="199.80" y="353.0" font-size="10.0" fill="#262626" textLength="16.20" lengthAdjust="spacingAndGlyphs" >BTLA</text>
<path d="M44.0,452.3C45.0,452.1 47.9,451.8 50.0,451.0C52.1,450.2 54.8,450.7 56.8,447.3C58.8,443.9 60.5,437.9 62.2,430.5C63.9,423.1 65.4,411.1 66.8,403.0C68.2,394.9 69.6,387.3 70.6,382.0C71.6,376.7 71.8,373.9 72.7,371.0C73.6,368.1 74.9,364.5 75.8,364.5C76.7,364.5 77.2,369.4 77.9,371.0C78.6,372.6 79.2,373.0 79.7,374.4C80.2,375.8 80.5,377.3 81.0,379.6C81.5,381.9 82.2,385.1 82.7,388.3C83.2,391.5 83.5,395.0 84.0,398.7C84.5,402.4 85.1,404.0 85.9,410.6C86.7,417.2 87.8,431.6 89.0,438.2C90.2,444.8 91.3,448.0 92.8,450.4C94.3,452.8 97.1,452.0 98.0,452.3" fill="none" stroke="#6cab48" stroke-width="1.4"/>
<path d="M46.0,452.3C47.5,451.7 53.0,450.8 55.3,448.9C57.6,447.0 58.2,445.5 59.9,441.2C61.6,436.9 63.6,430.5 65.3,422.9C67.0,415.2 68.7,402.5 69.8,395.3C70.9,388.1 71.3,384.0 71.9,379.6C72.5,375.2 73.1,371.6 73.6,369.2C74.1,366.8 74.3,364.0 74.7,365.0C75.1,366.0 75.7,371.0 76.2,375.3C76.7,379.6 77.3,389.7 77.7,391.0C78.1,392.3 78.2,385.7 78.5,383.0C78.8,380.3 79.0,375.8 79.3,375.0C79.6,374.2 79.8,373.3 80.4,378.0C81.0,382.7 82.0,395.0 82.9,403.0C83.8,411.0 84.9,419.1 85.9,426.0C86.9,432.9 88.0,440.2 89.0,444.3C90.0,448.4 90.8,449.1 92.0,450.4C93.2,451.7 95.3,452.0 96.0,452.3" fill="none" stroke="#2f4a86" stroke-width="1.3"/>
<path d="M40.0,452.3C40.8,452.1 43.1,451.8 44.6,451.2C46.1,450.6 47.6,451.1 49.2,448.9C50.9,446.7 53.2,444.3 54.5,438.2C55.8,432.1 56.1,418.6 56.8,412.0C57.5,405.4 58.0,403.4 58.5,398.7C59.0,394.0 59.4,388.6 59.8,384.0C60.2,379.4 60.4,374.4 61.0,371.0C61.6,367.6 62.5,363.6 63.2,363.6C63.9,363.6 64.8,367.6 65.4,371.0C66.1,374.4 66.6,380.4 67.1,384.0C67.6,387.6 67.8,389.1 68.4,392.6C69.0,396.1 69.8,398.9 70.6,405.0C71.3,411.1 72.1,422.2 72.9,429.0C73.7,435.8 74.1,442.1 75.2,445.8C76.3,449.5 78.2,450.1 79.8,451.2C81.4,452.3 84.1,452.1 85.0,452.3Z" fill="#7b5a8c" fill-opacity="0.6" stroke="none"/>
<path d="M42.0,452.3C42.7,452.1 44.7,451.8 46.0,451.2C47.3,450.6 48.7,450.7 50.0,448.5C51.3,446.3 53.0,444.1 54.0,438.0C55.0,431.9 55.6,418.6 56.3,412.0C57.0,405.4 57.5,403.4 58.0,398.7C58.5,394.0 58.9,388.4 59.3,384.0C59.7,379.6 60.1,375.0 60.6,372.0C61.1,369.0 61.9,367.2 62.5,366.0C63.1,364.8 63.9,364.7 64.5,365.0C65.1,365.3 65.4,366.6 66.0,368.0C66.6,369.4 67.5,371.4 68.0,373.6C68.5,375.8 68.9,378.5 69.3,381.4C69.7,384.3 70.2,388.0 70.6,390.9C70.9,393.8 71.0,394.1 71.4,398.7C71.8,403.3 72.1,411.2 72.9,418.3C73.7,425.4 75.1,435.9 76.0,441.2C76.9,446.5 77.3,448.5 78.3,450.4C79.3,452.2 81.4,452.0 82.0,452.3" fill="none" stroke="#8f1a40" stroke-width="1.5" stroke-dasharray="3,1.6"/>
<path d="M40.0,452.3C40.8,452.1 43.1,451.8 44.6,451.2C46.1,450.6 47.6,451.1 49.2,448.9C50.9,446.7 53.2,444.3 54.5,438.2C55.8,432.1 56.1,418.6 56.8,412.0C57.5,405.4 58.0,403.4 58.5,398.7C59.0,394.0 59.4,388.6 59.8,384.0C60.2,379.4 60.4,374.4 61.0,371.0C61.6,367.6 62.5,363.6 63.2,363.6C63.9,363.6 64.8,367.6 65.4,371.0C66.1,374.4 66.6,380.4 67.1,384.0C67.6,387.6 67.8,389.1 68.4,392.6C69.0,396.1 69.8,398.9 70.6,405.0C71.3,411.1 72.1,422.2 72.9,429.0C73.7,435.8 74.1,442.1 75.2,445.8C76.3,449.5 78.2,450.1 79.8,451.2C81.4,452.3 84.1,452.1 85.0,452.3" fill="none" stroke="#561b5e" stroke-width="1.2"/>
<line x1="37.9" y1="451.9" x2="132.7" y2="451.9" stroke="#6cab48" stroke-width="1"/>
<path d="M37.9,452.9V358.5H132.7V452.9" fill="none" stroke="#000" stroke-width="1.6"/>
<path d="M37.9,452.7H132.7" fill="none" stroke="#333" stroke-width="0.8"/>
<text x="82.17" y="480.8" font-size="10.8" fill="#262626" textLength="16.56" lengthAdjust="spacingAndGlyphs" >Bcl-6</text>
<path d="M172.0,452.3C173.3,451.9 178.1,451.6 180.0,449.6C181.9,447.6 182.6,444.8 183.5,440.4C184.4,436.0 184.6,429.7 185.2,423.0C185.8,416.3 186.4,406.3 186.9,400.0C187.4,393.7 187.9,389.3 188.3,385.0C188.7,380.7 188.9,377.4 189.5,374.0C190.1,370.6 191.0,365.6 191.6,364.3C192.2,363.0 192.7,366.1 193.3,366.0C193.9,365.9 194.6,361.9 195.0,363.8C195.4,365.7 195.5,372.6 196.0,377.2C196.5,381.8 197.3,387.6 197.9,391.7C198.5,395.8 198.8,398.7 199.5,402.0C200.2,405.3 200.9,408.0 201.9,411.5C202.9,415.0 204.2,419.1 205.4,423.0C206.6,426.9 207.5,431.1 208.8,434.6C210.2,438.1 211.9,441.1 213.5,443.8C215.1,446.5 216.3,449.4 218.1,450.8C219.8,452.2 223.0,452.1 224.0,452.3" fill="none" stroke="#6cab48" stroke-width="1.4"/>
<path d="M168.0,452.3C169.4,452.1 174.3,452.2 176.5,450.8C178.7,449.4 179.9,447.5 181.2,443.8C182.4,440.1 183.2,436.1 184.0,428.8C184.8,421.5 185.6,406.1 186.3,400.0C187.1,393.9 187.8,394.2 188.5,392.0C189.2,389.8 189.8,389.3 190.2,386.8C190.6,384.3 190.8,380.3 191.2,377.2C191.5,374.1 191.9,370.1 192.3,368.0C192.7,365.9 193.2,364.3 193.6,364.7C194.0,365.1 194.6,367.9 195.0,370.5C195.4,373.1 195.5,375.4 195.8,380.0C196.1,384.6 196.4,391.7 196.8,398.0C197.2,404.3 197.8,412.0 198.3,418.0C198.8,424.0 199.3,429.5 199.8,434.0C200.3,438.5 200.8,442.3 201.3,445.0C201.8,447.7 201.9,448.8 202.8,450.0C203.8,451.2 206.3,451.9 207.0,452.3" fill="none" stroke="#2f4a86" stroke-width="1.3"/>
<path d="M165.0,452.3C165.8,452.1 168.1,451.8 169.6,450.8C171.1,449.8 172.8,448.9 174.2,446.2C175.5,443.5 176.7,439.4 177.7,434.6C178.7,429.8 179.4,422.7 180.0,417.3C180.6,411.9 181.1,407.1 181.5,402.0C181.9,396.9 182.0,391.9 182.3,387.0C182.6,382.1 183.0,376.3 183.5,372.4C184.0,368.5 184.7,364.6 185.4,363.8C186.1,363.0 186.9,365.4 187.5,367.6C188.1,369.8 188.6,373.1 189.0,377.0C189.4,380.9 189.8,386.7 190.2,391.0C190.6,395.3 190.9,398.7 191.4,403.0C191.9,407.3 192.5,411.7 193.0,417.0C193.5,422.3 194.0,429.7 194.6,434.6C195.2,439.5 195.8,443.6 196.5,446.2C197.2,448.8 197.4,449.5 198.5,450.5C199.6,451.5 202.2,452.0 203.0,452.3Z" fill="#7b5a8c" fill-opacity="0.6" stroke="none"/>
<path d="M166.0,452.3C166.7,452.1 168.7,451.8 170.0,450.8C171.3,449.8 172.8,449.1 174.0,446.5C175.2,443.9 176.4,439.8 177.3,435.0C178.2,430.2 178.9,423.5 179.6,418.0C180.2,412.5 180.8,407.2 181.2,402.0C181.6,396.8 181.7,391.8 182.0,387.0C182.3,382.2 182.6,376.7 183.2,373.0C183.8,369.3 184.8,366.4 185.5,365.0C186.2,363.6 186.7,363.8 187.3,364.7C187.9,365.6 188.6,367.4 189.2,370.5C189.8,373.6 190.2,378.8 190.7,383.0C191.2,387.2 191.7,391.5 192.2,396.0C192.7,400.5 193.1,405.3 193.5,410.0C193.9,414.7 194.2,419.7 194.6,424.0C195.0,428.3 195.4,431.9 195.8,436.0C196.2,440.1 196.6,446.1 197.3,448.5C198.0,450.9 198.7,450.1 200.0,450.5C201.3,450.9 203.7,450.7 205.4,451.0C207.1,451.3 209.2,452.1 210.0,452.3" fill="none" stroke="#8f1a40" stroke-width="1.5" stroke-dasharray="3,1.6"/>
<path d="M165.0,452.3C165.8,452.1 168.1,451.8 169.6,450.8C171.1,449.8 172.8,448.9 174.2,446.2C175.5,443.5 176.7,439.4 177.7,434.6C178.7,429.8 179.4,422.7 180.0,417.3C180.6,411.9 181.1,407.1 181.5,402.0C181.9,396.9 182.0,391.9 182.3,387.0C182.6,382.1 183.0,376.3 183.5,372.4C184.0,368.5 184.7,364.6 185.4,363.8C186.1,363.0 186.9,365.4 187.5,367.6C188.1,369.8 188.6,373.1 189.0,377.0C189.4,380.9 189.8,386.7 190.2,391.0C190.6,395.3 190.9,398.7 191.4,403.0C191.9,407.3 192.5,411.7 193.0,417.0C193.5,422.3 194.0,429.7 194.6,434.6C195.2,439.5 195.8,443.6 196.5,446.2C197.2,448.8 197.4,449.5 198.5,450.5C199.6,451.5 202.2,452.0 203.0,452.3" fill="none" stroke="#561b5e" stroke-width="1.2"/>
<line x1="159.0" y1="451.9" x2="253.8" y2="451.9" stroke="#6cab48" stroke-width="1"/>
<path d="M159.0,452.9V358.5H253.8V452.9" fill="none" stroke="#000" stroke-width="1.6"/>
<path d="M159.0,452.7H253.8" fill="none" stroke="#333" stroke-width="0.8"/>
<text x="197.57" y="480.8" font-size="10.8" fill="#262626" textLength="17.06" lengthAdjust="spacingAndGlyphs" >OX40</text>
<path d="M290.0,452.3C292.1,452.1 300.1,452.0 302.9,450.8C305.7,449.6 305.8,448.1 306.9,445.4C308.0,442.7 308.7,439.1 309.6,434.6C310.5,430.1 311.5,422.4 312.3,418.5C313.1,414.6 313.7,413.2 314.3,411.0C314.9,408.8 315.3,407.1 315.8,405.0C316.3,402.9 317.0,401.4 317.5,398.4C318.0,395.4 318.3,391.0 318.7,386.8C319.1,382.6 319.2,376.6 319.8,373.0C320.4,369.4 321.1,366.6 322.1,365.5C323.1,364.4 324.6,364.5 325.6,366.1C326.6,367.7 327.2,371.9 327.9,375.3C328.6,378.8 328.9,383.0 329.6,386.8C330.3,390.6 331.3,395.2 331.9,398.4C332.5,401.6 332.6,402.6 333.1,406.0C333.7,409.4 334.4,414.2 335.2,418.5C336.0,422.8 336.8,427.6 337.9,431.9C339.0,436.1 340.6,441.0 341.9,444.0C343.2,447.0 344.7,448.7 345.9,450.0C347.1,451.3 347.9,451.6 349.3,452.0C350.7,452.4 353.2,452.2 354.0,452.3" fill="none" stroke="#6cab48" stroke-width="1.4"/>
<path d="M292.0,452.3C294.3,452.1 302.6,452.0 305.6,450.8C308.7,449.6 309.1,448.1 310.3,445.4C311.5,442.7 312.2,439.1 313.0,434.6C313.8,430.1 314.4,423.4 315.0,418.5C315.6,413.6 316.0,408.9 316.5,405.0C317.0,401.1 317.5,398.5 318.0,395.0C318.5,391.5 318.9,387.5 319.3,384.0C319.7,380.5 320.2,376.7 320.6,374.0C321.0,371.3 321.5,369.2 321.8,368.0C322.1,366.8 322.4,365.8 322.7,366.5C322.9,367.2 323.1,369.6 323.3,372.0C323.5,374.4 323.4,378.3 323.6,381.0C323.8,383.7 324.2,385.1 324.6,388.0C325.0,390.9 325.8,395.6 326.2,398.4C326.6,401.2 326.6,400.5 327.1,405.0C327.6,409.5 328.4,418.9 329.1,425.2C329.8,431.5 330.3,438.7 331.1,442.7C331.9,446.7 332.5,447.9 333.8,449.4C335.1,450.8 337.5,450.9 339.2,451.4C340.9,451.9 343.2,452.1 344.0,452.3" fill="none" stroke="#2f4a86" stroke-width="1.3"/>
<path d="M282.0,452.3C283.0,452.3 285.7,452.8 288.1,452.1C290.5,451.4 294.0,450.4 296.2,448.1C298.4,445.9 300.2,442.4 301.5,438.6C302.8,434.8 303.3,430.8 304.2,425.2C305.1,419.6 306.3,411.0 306.9,405.0C307.5,399.0 307.3,394.1 307.7,389.2C308.1,384.2 308.7,379.4 309.4,375.3C310.1,371.2 311.1,364.9 311.7,364.9C312.3,364.9 312.6,370.7 312.9,375.3C313.2,379.9 313.3,387.0 313.5,392.6C313.7,398.2 313.7,403.4 314.0,408.8C314.3,414.2 315.0,420.1 315.5,425.0C316.0,429.9 316.3,434.1 316.8,438.0C317.3,441.9 317.8,445.9 318.4,448.1C319.0,450.3 319.6,450.7 320.4,451.4C321.2,452.1 322.6,452.1 323.0,452.3Z" fill="#7b5a8c" fill-opacity="0.6" stroke="none"/>
<path d="M283.0,452.3C284.0,452.2 286.8,452.7 289.0,452.0C291.2,451.3 294.0,450.2 296.0,448.0C298.0,445.8 299.9,442.4 301.2,438.6C302.5,434.8 303.1,430.6 304.0,425.0C304.9,419.4 305.9,411.0 306.5,405.0C307.1,399.0 306.9,394.0 307.3,389.0C307.7,384.0 308.4,378.8 309.0,375.0C309.6,371.2 310.4,367.7 311.0,366.0C311.6,364.3 312.1,364.4 312.5,365.0C312.9,365.6 313.1,366.2 313.5,369.5C313.9,372.8 314.2,379.7 314.6,384.5C315.0,389.3 315.5,393.9 315.8,398.4C316.1,402.9 316.0,407.2 316.3,411.7C316.6,416.2 317.1,420.5 317.7,425.2C318.3,429.9 318.8,436.0 319.7,440.0C320.6,444.0 322.1,447.5 323.1,449.4C324.1,451.3 324.7,450.9 325.8,451.4C326.9,451.9 329.3,452.1 330.0,452.3" fill="none" stroke="#8f1a40" stroke-width="1.5" stroke-dasharray="3,1.6"/>
<path d="M282.0,452.3C283.0,452.3 285.7,452.8 288.1,452.1C290.5,451.4 294.0,450.4 296.2,448.1C298.4,445.9 300.2,442.4 301.5,438.6C302.8,434.8 303.3,430.8 304.2,425.2C305.1,419.6 306.3,411.0 306.9,405.0C307.5,399.0 307.3,394.1 307.7,389.2C308.1,384.2 308.7,379.4 309.4,375.3C310.1,371.2 311.1,364.9 311.7,364.9C312.3,364.9 312.6,370.7 312.9,375.3C313.2,379.9 313.3,387.0 313.5,392.6C313.7,398.2 313.7,403.4 314.0,408.8C314.3,414.2 315.0,420.1 315.5,425.0C316.0,429.9 316.3,434.1 316.8,438.0C317.3,441.9 317.8,445.9 318.4,448.1C319.0,450.3 319.6,450.7 320.4,451.4C321.2,452.1 322.6,452.1 323.0,452.3" fill="none" stroke="#561b5e" stroke-width="1.2"/>
<line x1="280.5" y1="451.9" x2="375.3" y2="451.9" stroke="#6cab48" stroke-width="1"/>
<path d="M280.5,452.9V358.5H375.3V452.9" fill="none" stroke="#000" stroke-width="1.6"/>
<path d="M280.5,452.7H375.3" fill="none" stroke="#333" stroke-width="0.8"/>
<text x="319.57" y="480.8" font-size="10.8" fill="#262626" textLength="20.46" lengthAdjust="spacingAndGlyphs" >CD200</text>
<text x="56.7" y="466.8" font-size="8" fill="#262626" text-anchor="start" font-weight="normal" >0</text>
<text x="60.0" y="466.8" font-size="8" fill="#262626">10<tspan font-size="5" dy="-3.8">2</tspan></text>
<text x="79.2" y="466.8" font-size="8" fill="#262626">10<tspan font-size="5" dy="-3.8">3</tspan></text>
<text x="97.5" y="466.8" font-size="8" fill="#262626">10<tspan font-size="5" dy="-3.8">4</tspan></text>
<text x="115.8" y="466.8" font-size="8" fill="#262626">10<tspan font-size="5" dy="-3.8">5</tspan></text>
<text x="170.4" y="466.8" font-size="8" fill="#262626" text-anchor="start" font-weight="normal" >0</text>
<text x="183.8" y="466.8" font-size="8" fill="#262626">10<tspan font-size="5" dy="-3.8">2</tspan></text>
<text x="200.8" y="466.8" font-size="8" fill="#262626">10<tspan font-size="5" dy="-3.8">3</tspan></text>
<text x="221.0" y="466.8" font-size="8" fill="#262626">10<tspan font-size="5" dy="-3.8">4</tspan></text>
<text x="239.2" y="466.8" font-size="8" fill="#262626">10<tspan font-size="5" dy="-3.8">5</tspan></text>
<text x="292.8" y="466.8" font-size="8" fill="#262626" text-anchor="start" font-weight="normal" >0</text>
<text x="306.7" y="466.8" font-size="8" fill="#262626">10<tspan font-size="5" dy="-3.8">2</tspan></text>
<text x="324.0" y="466.8" font-size="8" fill="#262626">10<tspan font-size="5" dy="-3.8">3</tspan></text>
<text x="343.3" y="466.8" font-size="8" fill="#262626">10<tspan font-size="5" dy="-3.8">4</tspan></text>
<text x="361.5" y="466.8" font-size="8" fill="#262626">10<tspan font-size="5" dy="-3.8">5</tspan></text>
<path d="M60.1,452.9v2.0M56.3,452.9v2.0M61.2,452.9v2.0M55.2,452.9v2.0M61.9,452.9v2.0M54.5,452.9v2.0M62.4,452.9v2.0M54.0,452.9v2.0M62.8,452.9v2.0M53.6,452.9v2.0M63.1,452.9v2.0M53.3,452.9v2.0M63.4,452.9v2.0M53.0,452.9v2.0M63.6,452.9v2.0M52.8,452.9v2.0M63.8,452.9v2.0M52.6,452.9v2.0M58.2,452.9v2.8M69.8,452.9v2.0M73.2,452.9v2.0M75.6,452.9v2.0M77.4,452.9v2.0M78.9,452.9v2.0M80.2,452.9v2.0M81.3,452.9v2.0M82.3,452.9v2.0M88.7,452.9v2.0M91.9,452.9v2.0M94.2,452.9v2.0M96.0,452.9v2.0M97.4,452.9v2.0M98.7,452.9v2.0M99.7,452.9v2.0M100.7,452.9v2.0M107.0,452.9v2.0M110.2,452.9v2.0M112.5,452.9v2.0M114.3,452.9v2.0M115.7,452.9v2.0M117.0,452.9v2.0M118.0,452.9v2.0M119.0,452.9v2.0M64.0,452.9v2.8M83.2,452.9v2.8M101.5,452.9v2.8M119.8,452.9v2.8" stroke="#000" stroke-width="1.1"/>
<path d="M177.3,452.9v2.0M167.1,452.9v2.0M180.2,452.9v2.0M164.2,452.9v2.0M182.0,452.9v2.0M162.4,452.9v2.0M183.4,452.9v2.0M161.0,452.9v2.0M184.5,452.9v2.0M185.3,452.9v2.0M186.1,452.9v2.0M186.7,452.9v2.0M187.3,452.9v2.0M172.2,452.9v2.8M192.8,452.9v2.0M195.8,452.9v2.0M197.9,452.9v2.0M199.5,452.9v2.0M200.8,452.9v2.0M201.9,452.9v2.0M202.9,452.9v2.0M203.7,452.9v2.0M210.7,452.9v2.0M214.3,452.9v2.0M216.8,452.9v2.0M218.8,452.9v2.0M220.5,452.9v2.0M221.8,452.9v2.0M223.0,452.9v2.0M224.1,452.9v2.0M230.4,452.9v2.0M233.6,452.9v2.0M235.8,452.9v2.0M237.6,452.9v2.0M239.0,452.9v2.0M240.2,452.9v2.0M241.3,452.9v2.0M242.2,452.9v2.0M187.8,452.9v2.8M204.5,452.9v2.8M225.0,452.9v2.8M243.0,452.9v2.8" stroke="#000" stroke-width="1.1"/>
<path d="M299.8,452.9v2.0M289.4,452.9v2.0M302.8,452.9v2.0M286.4,452.9v2.0M304.8,452.9v2.0M284.4,452.9v2.0M306.2,452.9v2.0M283.0,452.9v2.0M307.3,452.9v2.0M281.9,452.9v2.0M308.2,452.9v2.0M308.9,452.9v2.0M309.6,452.9v2.0M310.2,452.9v2.0M294.6,452.9v2.8M315.8,452.9v2.0M318.9,452.9v2.0M321.0,452.9v2.0M322.7,452.9v2.0M324.0,452.9v2.0M325.2,452.9v2.0M326.1,452.9v2.0M327.0,452.9v2.0M333.7,452.9v2.0M337.1,452.9v2.0M339.5,452.9v2.0M341.4,452.9v2.0M343.0,452.9v2.0M344.3,452.9v2.0M345.4,452.9v2.0M346.4,452.9v2.0M352.8,452.9v2.0M356.0,452.9v2.0M358.3,452.9v2.0M360.0,452.9v2.0M361.5,452.9v2.0M362.7,452.9v2.0M363.7,452.9v2.0M364.7,452.9v2.0M310.7,452.9v2.8M327.8,452.9v2.8M347.3,452.9v2.8M365.5,452.9v2.8" stroke="#000" stroke-width="1.1"/>
<rect x="0.75" y="0.75" width="518.5" height="488.5" fill="none" stroke="#000" stroke-width="1.5"/>
</svg>
</body></html>
